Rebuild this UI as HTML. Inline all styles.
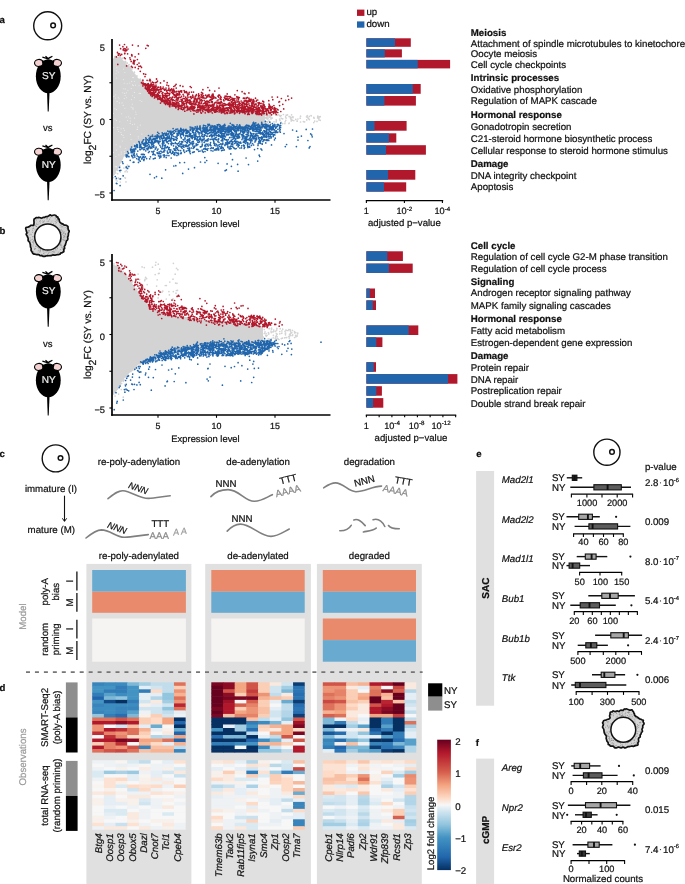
<!DOCTYPE html><html><head><meta charset="utf-8"><title>Figure</title><style>html,body{margin:0;padding:0;background:#fff;overflow:hidden}svg{display:block;will-change:transform;font-family:"Liberation Sans",sans-serif} text{stroke:#111;stroke-width:0.22px;text-rendering:geometricPrecision}</style></head><body>
<svg width="685" height="884" viewBox="0 0 685 884" font-family="Liberation Sans, sans-serif" font-size="9.7" fill="#111">
<defs><pattern id="stip" width="2.2" height="2.2" patternUnits="userSpaceOnUse"><rect width="2.2" height="2.2" fill="#e6e6e6"/><circle cx="1.1" cy="1.1" r="0.75" fill="#a8a8a8"/></pattern><linearGradient id="cbar" x1="0" y1="0" x2="0" y2="1"><stop offset="0.000" stop-color="#67001f"/><stop offset="0.100" stop-color="#b2182b"/><stop offset="0.250" stop-color="#d6604d"/><stop offset="0.350" stop-color="#f4a582"/><stop offset="0.450" stop-color="#fddbc7"/><stop offset="0.500" stop-color="#f7f7f7"/><stop offset="0.550" stop-color="#d1e5f0"/><stop offset="0.650" stop-color="#92c5de"/><stop offset="0.750" stop-color="#4393c3"/><stop offset="0.900" stop-color="#2166ac"/><stop offset="1.000" stop-color="#053061"/></linearGradient><marker id="arr" markerWidth="6" markerHeight="6" refX="3" refY="3" orient="auto" markerUnits="userSpaceOnUse"><path d="M0,0.8 L3,3 L0,5.2" fill="none" stroke="#111" stroke-width="1"/></marker></defs>
<text x="-0.40" y="23.30" font-size="9.6" font-weight="bold">a</text>
<text x="-0.40" y="233.80" font-size="9.6" font-weight="bold">b</text>
<text x="-0.40" y="456.50" font-size="9.6" font-weight="bold">c</text>
<text x="-0.40" y="691.40" font-size="9.6" font-weight="bold">d</text>
<text x="476.20" y="456.60" font-size="9.6" font-weight="bold">e</text>
<text x="475.80" y="745.90" font-size="9.6" font-weight="bold">f</text>
<circle cx="47.7" cy="25.8" r="14" fill="#fff" stroke="#111" stroke-width="1.4"/>
<circle cx="53.1" cy="25.4" r="2.3" fill="#fff" stroke="#111" stroke-width="1.5"/>
<g transform="translate(48.3,76.1)"><ellipse cx="0" cy="0.2" rx="12.4" ry="16.9" fill="#000"/><path d="M-4.8,-14 C-3.5,-17.6 3.5,-17.6 4.8,-14 Z" fill="#000"/><ellipse cx="-9.5" cy="-13.2" rx="4.3" ry="3.5" transform="rotate(-8 -9.5 -13.2)" fill="#f4d2d2" stroke="#000" stroke-width="1.1"/><ellipse cx="8.9" cy="-13.2" rx="4.3" ry="3.5" transform="rotate(8 8.9 -13.2)" fill="#f4d2d2" stroke="#000" stroke-width="1.1"/><path d="M-6.6,-15.2 C-5.6,-12 -5.4,-11 -4.6,-10 L-5,-16 Z M6.2,-15.2 C5.2,-12 5,-11 4.2,-10 L4.6,-16 Z" fill="#000"/><path d="M-5.9,-19.0 L-0.3,-17.3 L4.1,-19.9 M-2.8,-19.9 L-0.3,-17.6 L2.3,-19.0" stroke="#000" stroke-width="1.25" fill="none"/><path d="M-1.3,15 L1.3,15 L0.4,35.4 L-0.6,35.4 Z" fill="#000"/><text x="0.4" y="3.0" text-anchor="middle" font-size="10" fill="#eeeeee" style="stroke:#eeeeee">SY</text></g>
<text x="47.80" y="131.30" text-anchor="middle" font-size="9.5">vs</text>
<g transform="translate(48.3,164.9)"><ellipse cx="0" cy="0.2" rx="12.4" ry="16.9" fill="#000"/><path d="M-4.8,-14 C-3.5,-17.6 3.5,-17.6 4.8,-14 Z" fill="#000"/><ellipse cx="-9.5" cy="-13.2" rx="4.3" ry="3.5" transform="rotate(-8 -9.5 -13.2)" fill="#f4d2d2" stroke="#000" stroke-width="1.1"/><ellipse cx="8.9" cy="-13.2" rx="4.3" ry="3.5" transform="rotate(8 8.9 -13.2)" fill="#f4d2d2" stroke="#000" stroke-width="1.1"/><path d="M-6.6,-15.2 C-5.6,-12 -5.4,-11 -4.6,-10 L-5,-16 Z M6.2,-15.2 C5.2,-12 5,-11 4.2,-10 L4.6,-16 Z" fill="#000"/><path d="M-5.9,-19.0 L-0.3,-17.3 L4.1,-19.9 M-2.8,-19.9 L-0.3,-17.6 L2.3,-19.0" stroke="#000" stroke-width="1.25" fill="none"/><path d="M-1.3,15 L1.3,15 L0.4,35.4 L-0.6,35.4 Z" fill="#000"/><text x="0.4" y="3.0" text-anchor="middle" font-size="10" fill="#eeeeee" style="stroke:#eeeeee">NY</text></g>
<g transform="translate(47.8,237.0)"><clipPath id="fc7"><path d="M-13.67,-17.93 Q-13.46,-18.38 -12.88,-18.44 Q-12.30,-18.49 -12.04,-19.06 Q-11.79,-19.63 -11.02,-19.37 Q-10.25,-19.11 -9.69,-19.41 Q-9.14,-19.72 -8.33,-19.52 Q-7.53,-19.33 -6.68,-19.02 Q-5.84,-18.72 -5.33,-19.26 Q-4.81,-19.79 -4.11,-19.60 Q-3.42,-19.41 -2.84,-19.92 Q-2.25,-20.44 -1.61,-20.32 Q-0.97,-20.20 -0.37,-20.40 Q0.24,-20.60 0.88,-21.08 Q1.53,-21.55 2.06,-21.97 Q2.60,-22.38 3.02,-21.83 Q3.43,-21.28 3.95,-21.43 Q4.47,-21.58 5.18,-21.74 Q5.88,-21.91 6.61,-21.99 Q7.33,-22.08 7.88,-21.57 Q8.42,-21.05 8.73,-20.53 Q9.04,-20.01 9.65,-20.08 Q10.25,-20.16 10.25,-19.07 Q10.26,-17.97 10.86,-18.06 Q11.47,-18.15 11.46,-17.26 Q11.45,-16.36 11.64,-15.76 Q11.82,-15.17 12.29,-14.66 Q12.76,-14.16 13.36,-13.78 Q13.95,-13.40 14.77,-13.14 Q15.59,-12.89 15.81,-12.39 Q16.03,-11.89 16.93,-11.89 Q17.82,-11.90 18.52,-11.73 Q19.21,-11.56 19.32,-11.19 Q19.42,-10.82 19.88,-10.65 Q20.33,-10.47 20.25,-10.02 Q20.17,-9.57 20.22,-8.90 Q20.28,-8.24 20.47,-7.61 Q20.65,-6.99 21.12,-6.41 Q21.58,-5.82 21.24,-5.14 Q20.90,-4.46 20.69,-3.82 Q20.47,-3.19 20.56,-2.57 Q20.66,-1.96 20.42,-1.32 Q20.19,-0.69 19.94,-0.07 Q19.70,0.55 19.96,1.23 Q20.22,1.90 19.89,2.53 Q19.56,3.16 18.97,3.71 Q18.37,4.27 18.36,4.98 Q18.35,5.68 18.06,6.17 Q17.77,6.67 17.76,7.27 Q17.75,7.88 17.39,8.37 Q17.03,8.85 16.67,9.31 Q16.31,9.77 16.71,10.70 Q17.10,11.62 16.47,11.86 Q15.84,12.10 15.91,12.75 Q15.99,13.40 16.08,14.09 Q16.17,14.79 15.66,14.94 Q15.15,15.09 14.79,15.55 Q14.44,16.01 13.64,15.96 Q12.84,15.91 12.58,16.59 Q12.33,17.27 11.48,17.46 Q10.63,17.66 9.67,17.65 Q8.71,17.64 7.88,17.99 Q7.06,18.33 6.04,18.06 Q5.02,17.78 4.21,18.18 Q3.39,18.59 2.47,18.64 Q1.55,18.70 0.79,18.75 Q0.03,18.80 -0.72,18.77 Q-1.47,18.74 -2.28,19.10 Q-3.10,19.45 -3.89,19.47 Q-4.69,19.48 -5.35,19.07 Q-6.02,18.65 -6.85,18.73 Q-7.68,18.80 -8.22,18.11 Q-8.76,17.42 -9.76,17.63 Q-10.75,17.84 -11.51,17.54 Q-12.28,17.24 -13.09,17.22 Q-13.91,17.19 -14.46,16.82 Q-15.02,16.45 -15.33,15.85 Q-15.65,15.25 -15.91,14.70 Q-16.16,14.14 -16.53,13.66 Q-16.91,13.19 -16.66,12.23 Q-16.42,11.28 -16.90,10.73 Q-17.39,10.19 -17.37,9.34 Q-17.35,8.49 -17.50,7.72 Q-17.65,6.95 -17.91,6.09 Q-18.17,5.22 -19.02,4.48 Q-19.88,3.74 -19.69,2.77 Q-19.51,1.80 -19.79,1.07 Q-20.07,0.34 -20.37,-0.40 Q-20.67,-1.14 -21.28,-1.96 Q-21.88,-2.78 -21.26,-3.42 Q-20.65,-4.06 -21.03,-4.88 Q-21.41,-5.69 -21.56,-6.49 Q-21.71,-7.29 -21.93,-7.77 Q-22.16,-8.26 -22.04,-8.62 Q-21.92,-8.99 -21.89,-9.40 Q-21.86,-9.81 -20.87,-9.77 Q-19.88,-9.74 -19.50,-9.98 Q-19.11,-10.22 -18.56,-10.39 Q-18.00,-10.55 -17.74,-10.97 Q-17.48,-11.39 -16.88,-11.62 Q-16.28,-11.85 -15.14,-11.66 Q-14.01,-11.48 -13.96,-11.98 Q-13.92,-12.48 -13.89,-13.00 Q-13.86,-13.52 -13.79,-14.03 Q-13.73,-14.53 -13.81,-15.31 Q-13.89,-16.08 -13.88,-16.78 Q-13.88,-17.48 -13.67,-17.93 Z"/></clipPath><path d="M-13.67,-17.93 Q-13.46,-18.38 -12.88,-18.44 Q-12.30,-18.49 -12.04,-19.06 Q-11.79,-19.63 -11.02,-19.37 Q-10.25,-19.11 -9.69,-19.41 Q-9.14,-19.72 -8.33,-19.52 Q-7.53,-19.33 -6.68,-19.02 Q-5.84,-18.72 -5.33,-19.26 Q-4.81,-19.79 -4.11,-19.60 Q-3.42,-19.41 -2.84,-19.92 Q-2.25,-20.44 -1.61,-20.32 Q-0.97,-20.20 -0.37,-20.40 Q0.24,-20.60 0.88,-21.08 Q1.53,-21.55 2.06,-21.97 Q2.60,-22.38 3.02,-21.83 Q3.43,-21.28 3.95,-21.43 Q4.47,-21.58 5.18,-21.74 Q5.88,-21.91 6.61,-21.99 Q7.33,-22.08 7.88,-21.57 Q8.42,-21.05 8.73,-20.53 Q9.04,-20.01 9.65,-20.08 Q10.25,-20.16 10.25,-19.07 Q10.26,-17.97 10.86,-18.06 Q11.47,-18.15 11.46,-17.26 Q11.45,-16.36 11.64,-15.76 Q11.82,-15.17 12.29,-14.66 Q12.76,-14.16 13.36,-13.78 Q13.95,-13.40 14.77,-13.14 Q15.59,-12.89 15.81,-12.39 Q16.03,-11.89 16.93,-11.89 Q17.82,-11.90 18.52,-11.73 Q19.21,-11.56 19.32,-11.19 Q19.42,-10.82 19.88,-10.65 Q20.33,-10.47 20.25,-10.02 Q20.17,-9.57 20.22,-8.90 Q20.28,-8.24 20.47,-7.61 Q20.65,-6.99 21.12,-6.41 Q21.58,-5.82 21.24,-5.14 Q20.90,-4.46 20.69,-3.82 Q20.47,-3.19 20.56,-2.57 Q20.66,-1.96 20.42,-1.32 Q20.19,-0.69 19.94,-0.07 Q19.70,0.55 19.96,1.23 Q20.22,1.90 19.89,2.53 Q19.56,3.16 18.97,3.71 Q18.37,4.27 18.36,4.98 Q18.35,5.68 18.06,6.17 Q17.77,6.67 17.76,7.27 Q17.75,7.88 17.39,8.37 Q17.03,8.85 16.67,9.31 Q16.31,9.77 16.71,10.70 Q17.10,11.62 16.47,11.86 Q15.84,12.10 15.91,12.75 Q15.99,13.40 16.08,14.09 Q16.17,14.79 15.66,14.94 Q15.15,15.09 14.79,15.55 Q14.44,16.01 13.64,15.96 Q12.84,15.91 12.58,16.59 Q12.33,17.27 11.48,17.46 Q10.63,17.66 9.67,17.65 Q8.71,17.64 7.88,17.99 Q7.06,18.33 6.04,18.06 Q5.02,17.78 4.21,18.18 Q3.39,18.59 2.47,18.64 Q1.55,18.70 0.79,18.75 Q0.03,18.80 -0.72,18.77 Q-1.47,18.74 -2.28,19.10 Q-3.10,19.45 -3.89,19.47 Q-4.69,19.48 -5.35,19.07 Q-6.02,18.65 -6.85,18.73 Q-7.68,18.80 -8.22,18.11 Q-8.76,17.42 -9.76,17.63 Q-10.75,17.84 -11.51,17.54 Q-12.28,17.24 -13.09,17.22 Q-13.91,17.19 -14.46,16.82 Q-15.02,16.45 -15.33,15.85 Q-15.65,15.25 -15.91,14.70 Q-16.16,14.14 -16.53,13.66 Q-16.91,13.19 -16.66,12.23 Q-16.42,11.28 -16.90,10.73 Q-17.39,10.19 -17.37,9.34 Q-17.35,8.49 -17.50,7.72 Q-17.65,6.95 -17.91,6.09 Q-18.17,5.22 -19.02,4.48 Q-19.88,3.74 -19.69,2.77 Q-19.51,1.80 -19.79,1.07 Q-20.07,0.34 -20.37,-0.40 Q-20.67,-1.14 -21.28,-1.96 Q-21.88,-2.78 -21.26,-3.42 Q-20.65,-4.06 -21.03,-4.88 Q-21.41,-5.69 -21.56,-6.49 Q-21.71,-7.29 -21.93,-7.77 Q-22.16,-8.26 -22.04,-8.62 Q-21.92,-8.99 -21.89,-9.40 Q-21.86,-9.81 -20.87,-9.77 Q-19.88,-9.74 -19.50,-9.98 Q-19.11,-10.22 -18.56,-10.39 Q-18.00,-10.55 -17.74,-10.97 Q-17.48,-11.39 -16.88,-11.62 Q-16.28,-11.85 -15.14,-11.66 Q-14.01,-11.48 -13.96,-11.98 Q-13.92,-12.48 -13.89,-13.00 Q-13.86,-13.52 -13.79,-14.03 Q-13.73,-14.53 -13.81,-15.31 Q-13.89,-16.08 -13.88,-16.78 Q-13.88,-17.48 -13.67,-17.93 Z" fill="#d6d6d6"/><g clip-path="url(#fc7)"><path d="M-1.1 13.1h0M-14.7 8.2h0M-20.9 -9.2h0M-6.7 -17.1h0M-14.8 -13.5h0M21.0 7.4h0M4.1 -21.6h0M5.1 -16.3h0M-11.4 8.4h0M-9.1 -10.3h0M13.9 6.3h0M8.7 14.1h0M12.4 4.2h0M8.2 11.5h0M-8.7 10.1h0M13.6 -13.7h0M9.3 12.6h0M-9.7 13.8h0M15.6 15.2h0M17.8 -0.8h0M-13.9 1.4h0M13.3 9.9h0M-2.0 21.5h0M7.0 11.3h0M17.6 -5.6h0M11.3 14.8h0M18.2 3.1h0M21.7 -2.9h0M-5.2 -14.9h0M-9.9 11.0h0M2.5 -18.3h0M3.0 -16.2h0M3.6 21.1h0M21.7 -2.1h0M7.4 -20.1h0M-1.0 -15.4h0M-16.6 -1.8h0M13.2 2.4h0M-2.9 15.5h0M-8.1 -21.4h0M-21.4 7.4h0M22.8 -1.7h0M-10.1 11.5h0M2.2 14.9h0M5.5 18.7h0M17.5 -12.7h0M-19.6 2.5h0M4.3 -13.3h0M-11.9 -18.9h0M4.2 -20.3h0M-14.8 2.1h0M4.0 -16.0h0M7.2 -21.8h0M-13.6 10.5h0M19.3 -6.7h0M6.9 12.6h0M13.0 18.1h0M5.1 -13.7h0M10.7 -20.5h0M-9.2 -13.9h0M-13.8 -4.3h0M22.9 2.1h0M-10.9 -14.9h0M16.0 -7.1h0M14.9 -15.5h0M3.8 15.2h0M-4.1 15.0h0M-13.5 -8.1h0M-12.6 7.0h0M14.1 -8.9h0M-18.4 4.9h0M14.3 -9.8h0M15.8 -9.0h0M-18.1 -3.7h0M17.5 2.1h0M5.4 12.0h0M4.5 -14.2h0M-20.2 3.4h0M-15.4 -5.7h0M-18.6 -2.2h0M3.0 -13.9h0M-14.5 -5.8h0M-3.5 20.7h0M-18.8 -0.9h0M1.4 -22.4h0M-18.1 6.8h0M-18.3 -0.6h0M-6.2 -16.6h0M-17.6 -3.7h0M18.9 -7.3h0M16.2 -15.9h0M-1.1 18.8h0M20.3 -7.6h0M9.3 10.9h0M-12.9 4.9h0M0.8 13.8h0M-10.2 -18.4h0M11.7 -8.8h0M-4.2 -19.4h0M13.8 17.3h0M15.0 -3.1h0M16.4 -5.0h0M-23.1 1.9h0M7.3 -12.8h0M-16.7 7.7h0M-8.0 12.8h0M-8.5 18.6h0M18.6 2.3h0M-12.4 4.9h0M-9.5 17.0h0M-13.7 -1.1h0M21.0 -2.0h0M13.9 -2.5h0M-1.3 13.4h0M2.9 -15.6h0M11.9 12.7h0M18.2 -11.3h0M-0.8 14.6h0M16.5 -9.2h0M-4.3 -13.3h0M18.8 7.1h0M-12.3 6.3h0M18.1 -7.4h0M4.4 -13.2h0M8.5 -10.8h0M11.5 -13.5h0M-10.0 15.9h0M14.2 -7.0h0M12.7 13.4h0M1.0 14.2h0M7.2 11.6h0M4.9 15.5h0M-7.1 19.6h0M-4.5 17.6h0M7.3 15.0h0M15.5 1.8h0M20.5 2.0h0M-14.3 -4.7h0M-22.3 3.6h0M16.8 13.3h0M-16.5 7.5h0M8.7 -14.7h0M-20.1 -0.8h0M16.5 -1.8h0M10.0 -17.6h0M-11.3 -13.0h0M-7.9 11.2h0M9.5 10.1h0M-0.9 -15.7h0M7.2 11.9h0M11.9 -18.5h0M-7.6 -14.0h0M0.8 16.1h0M-14.2 3.7h0M-14.9 5.3h0M22.3 -5.5h0M-14.9 -4.5h0M15.9 -3.5h0M-8.1 10.3h0M-13.2 12.1h0M-15.1 -0.3h0M-13.1 -0.4h0M-1.2 14.0h0M-10.9 8.0h0M16.0 2.3h0M2.1 19.0h0M-20.4 -3.8h0M-11.2 -17.0h0M12.4 -11.8h0M-10.6 20.5h0M12.1 16.5h0M-8.4 -10.6h0M11.3 -19.1h0M-14.3 -14.8h0M5.5 -13.4h0M-18.0 -2.7h0M10.8 -18.3h0M8.8 -16.9h0M15.7 -12.5h0M-5.4 -14.5h0M14.2 2.8h0M-9.1 10.9h0M9.6 -16.1h0M-13.5 -14.0h0M-7.6 -16.4h0M21.2 0.4h0M-0.2 -18.2h0M-19.3 -4.3h0M18.9 8.3h0M-0.2 13.9h0M-2.0 20.4h0M5.7 19.8h0M17.9 -2.8h0M-13.3 12.1h0M-8.5 -19.1h0M-14.6 -13.2h0M12.9 6.8h0M-0.5 20.7h0M-6.3 17.8h0M13.7 1.1h0M-2.3 19.8h0M-7.1 -18.7h0M-4.7 17.8h0M-17.4 3.9h0M16.3 15.0h0M7.2 21.9h0M12.2 -5.2h0M-20.7 5.5h0M17.3 -3.5h0M-1.8 15.1h0M14.4 -5.1h0M-12.7 -7.1h0M-22.5 -3.4h0M14.4 15.9h0M-22.1 -1.2h0M-4.5 -14.8h0M14.4 -10.8h0M13.0 2.0h0M-17.7 0.9h0M-4.7 13.8h0M-9.1 13.6h0M7.0 -11.1h0M0.1 -21.6h0M16.4 15.4h0M-5.1 -21.7h0M-4.2 16.4h0M-18.2 14.5h0M-14.2 -8.9h0M-14.3 6.9h0M13.5 4.2h0M8.1 -13.8h0M14.4 -6.2h0M-1.8 18.2h0M6.2 15.7h0M21.3 -6.0h0M7.4 -18.1h0M19.4 -11.7h0M-19.5 -6.2h0M19.6 6.3h0M-19.8 6.3h0M-9.9 -12.6h0M21.5 6.8h0M12.5 12.8h0M-9.0 13.4h0M-1.6 -23.0h0M-1.3 19.7h0M-5.9 17.8h0M-11.7 9.1h0M8.0 12.9h0M15.1 -10.1h0M4.2 21.9h0M17.7 -0.4h0M9.6 11.6h0M14.0 8.9h0M13.1 8.4h0M-1.0 18.9h0M15.7 -13.5h0M-14.8 9.0h0M-16.7 -2.6h0M-7.2 11.7h0M-3.9 22.6h0M12.8 13.0h0M-15.0 -15.9h0M3.4 15.5h0M0.2 17.2h0M-21.5 7.6h0M12.8 -17.9h0M13.3 1.8h0M-5.6 -21.5h0M-18.8 3.2h0M17.1 0.0h0M19.3 -9.5h0M14.2 -18.1h0M0.1 14.2h0M10.4 15.2h0M-9.4 -20.7h0M-3.5 -19.4h0M1.6 -17.7h0M-12.8 -4.3h0M3.1 -15.2h0M17.2 -9.5h0M-4.8 13.6h0M-0.2 19.6h0M-4.5 -13.5h0M16.7 7.9h0M-14.8 -8.5h0M3.2 19.0h0M16.1 1.1h0M-22.2 5.6h0M-13.6 -17.4h0M-15.3 2.4h0M0.4 22.9h0M-4.6 -15.6h0M18.0 2.5h0M-7.9 -15.5h0M-0.9 19.9h0M13.7 -7.0h0M16.2 3.5h0M-17.6 9.6h0M6.8 20.1h0M-1.2 -18.2h0M6.4 22.1h0M-8.1 19.9h0M1.8 15.2h0M1.1 -16.1h0M17.3 -5.4h0M5.9 14.2h0M-17.2 9.9h0M13.8 -4.6h0M-12.0 9.5h0M14.4 -2.4h0M13.0 4.4h0M-17.4 13.8h0M15.3 -13.7h0M22.6 -0.4h0M-7.2 13.2h0M19.0 -8.1h0M19.5 4.0h0M-12.2 11.7h0M-7.3 12.9h0M15.9 0.3h0M-13.6 18.3h0M16.3 16.1h0M4.4 16.1h0M9.3 -19.3h0M-12.4 5.6h0M-16.7 2.8h0M13.2 -7.3h0M-14.6 16.7h0M17.0 3.3h0M7.9 -19.4h0M13.0 3.4h0M20.8 8.6h0M-0.9 20.7h0M13.3 -9.9h0M-3.2 22.6h0M-11.7 -10.6h0M-3.4 -16.0h0M-2.1 13.0h0M0.8 -22.4h0M-15.1 -16.9h0M15.3 2.4h0M-22.6 3.5h0M16.3 -4.9h0M-0.1 17.5h0M-22.5 0.9h0M8.7 19.4h0M-1.6 -21.4h0M2.8 -19.1h0M-7.7 14.4h0M-13.6 16.1h0M13.3 7.2h0M0.3 -15.6h0M12.3 5.3h0M-15.5 -5.3h0M21.9 -2.7h0M15.8 -1.2h0M12.2 7.1h0M-20.3 0.2h0M-14.6 5.1h0M-16.8 9.7h0M-9.5 -18.4h0M11.4 -16.3h0M15.7 14.9h0M-5.1 18.2h0M-14.4 14.8h0M4.9 14.8h0M0.4 14.7h0M14.2 -12.6h0M-7.9 15.2h0M18.2 -0.9h0M2.5 21.2h0M-13.2 -19.0h0M14.4 10.8h0M9.1 -19.7h0M11.6 -6.9h0M-3.9 13.8h0M8.5 21.4h0M-19.6 -11.3h0M-15.2 15.8h0M-14.9 4.9h0M3.9 -22.4h0M15.1 11.8h0M-11.2 -10.5h0M-9.9 10.7h0M4.5 15.0h0M-16.0 -11.5h0M3.8 12.7h0M-9.3 17.7h0M6.5 14.9h0M6.1 20.3h0M-13.1 -4.1h0M13.8 10.2h0M-18.6 -6.1h0M12.4 8.0h0M-5.8 -16.3h0M-3.4 15.9h0M15.6 -4.7h0M-15.3 -6.8h0M-19.0 11.0h0M16.8 -0.4h0M6.7 19.4h0M3.8 12.6h0M14.2 -10.1h0M7.4 -15.6h0M13.2 -11.9h0M6.9 11.3h0M-18.6 -6.2h0M11.8 -7.5h0M-12.1 -11.7h0M-14.6 -0.4h0M-3.8 18.0h0M12.7 -6.4h0M-21.3 1.3h0M14.8 -3.1h0M15.9 16.2h0M17.8 -2.8h0M21.3 7.4h0M-17.0 14.4h0M-15.6 -14.8h0" stroke="#8c8c8c" stroke-width="1.00" stroke-linecap="round" fill="none"/><path d="M-1.1 13.1h0M-14.7 8.2h0M-20.9 -9.2h0M-6.7 -17.1h0M-14.8 -13.5h0M21.0 7.4h0M4.1 -21.6h0M5.1 -16.3h0M-11.4 8.4h0M-9.1 -10.3h0M13.9 6.3h0M8.7 14.1h0M12.4 4.2h0M8.2 11.5h0M-8.7 10.1h0M13.6 -13.7h0M9.3 12.6h0M-9.7 13.8h0M15.6 15.2h0M17.8 -0.8h0M-13.9 1.4h0M13.3 9.9h0M-2.0 21.5h0M7.0 11.3h0M17.6 -5.6h0M11.3 14.8h0M18.2 3.1h0M21.7 -2.9h0M-5.2 -14.9h0M-9.9 11.0h0M2.5 -18.3h0M3.0 -16.2h0M3.6 21.1h0M21.7 -2.1h0M7.4 -20.1h0M-1.0 -15.4h0M-16.6 -1.8h0M13.2 2.4h0M-2.9 15.5h0M-8.1 -21.4h0M-21.4 7.4h0M22.8 -1.7h0M-10.1 11.5h0M2.2 14.9h0M5.5 18.7h0M17.5 -12.7h0M-19.6 2.5h0M4.3 -13.3h0M-11.9 -18.9h0M4.2 -20.3h0M-14.8 2.1h0M4.0 -16.0h0M7.2 -21.8h0M-13.6 10.5h0M19.3 -6.7h0M6.9 12.6h0M13.0 18.1h0M5.1 -13.7h0M10.7 -20.5h0M-9.2 -13.9h0M-13.8 -4.3h0M22.9 2.1h0M-10.9 -14.9h0M16.0 -7.1h0M14.9 -15.5h0M3.8 15.2h0M-4.1 15.0h0M-13.5 -8.1h0M-12.6 7.0h0M14.1 -8.9h0M-18.4 4.9h0M14.3 -9.8h0M15.8 -9.0h0M-18.1 -3.7h0M17.5 2.1h0M5.4 12.0h0M4.5 -14.2h0M-20.2 3.4h0M-15.4 -5.7h0M-18.6 -2.2h0M3.0 -13.9h0M-14.5 -5.8h0M-3.5 20.7h0M-18.8 -0.9h0M1.4 -22.4h0M-18.1 6.8h0M-18.3 -0.6h0M-6.2 -16.6h0M-17.6 -3.7h0M18.9 -7.3h0M16.2 -15.9h0M-1.1 18.8h0M20.3 -7.6h0M9.3 10.9h0M-12.9 4.9h0M0.8 13.8h0M-10.2 -18.4h0M11.7 -8.8h0M-4.2 -19.4h0M13.8 17.3h0M15.0 -3.1h0M16.4 -5.0h0M-23.1 1.9h0M7.3 -12.8h0M-16.7 7.7h0M-8.0 12.8h0M-8.5 18.6h0M18.6 2.3h0M-12.4 4.9h0M-9.5 17.0h0M-13.7 -1.1h0M21.0 -2.0h0M13.9 -2.5h0M-1.3 13.4h0M2.9 -15.6h0M11.9 12.7h0M18.2 -11.3h0M-0.8 14.6h0M16.5 -9.2h0M-4.3 -13.3h0M18.8 7.1h0M-12.3 6.3h0M18.1 -7.4h0M4.4 -13.2h0M8.5 -10.8h0M11.5 -13.5h0M-10.0 15.9h0M14.2 -7.0h0M12.7 13.4h0M1.0 14.2h0M7.2 11.6h0M4.9 15.5h0M-7.1 19.6h0M-4.5 17.6h0M7.3 15.0h0M15.5 1.8h0M20.5 2.0h0M-14.3 -4.7h0M-22.3 3.6h0M16.8 13.3h0" stroke="#f4f4f4" stroke-width="0.90" stroke-linecap="round" fill="none"/></g><path d="M-13.67,-17.93 Q-13.46,-18.38 -12.88,-18.44 Q-12.30,-18.49 -12.04,-19.06 Q-11.79,-19.63 -11.02,-19.37 Q-10.25,-19.11 -9.69,-19.41 Q-9.14,-19.72 -8.33,-19.52 Q-7.53,-19.33 -6.68,-19.02 Q-5.84,-18.72 -5.33,-19.26 Q-4.81,-19.79 -4.11,-19.60 Q-3.42,-19.41 -2.84,-19.92 Q-2.25,-20.44 -1.61,-20.32 Q-0.97,-20.20 -0.37,-20.40 Q0.24,-20.60 0.88,-21.08 Q1.53,-21.55 2.06,-21.97 Q2.60,-22.38 3.02,-21.83 Q3.43,-21.28 3.95,-21.43 Q4.47,-21.58 5.18,-21.74 Q5.88,-21.91 6.61,-21.99 Q7.33,-22.08 7.88,-21.57 Q8.42,-21.05 8.73,-20.53 Q9.04,-20.01 9.65,-20.08 Q10.25,-20.16 10.25,-19.07 Q10.26,-17.97 10.86,-18.06 Q11.47,-18.15 11.46,-17.26 Q11.45,-16.36 11.64,-15.76 Q11.82,-15.17 12.29,-14.66 Q12.76,-14.16 13.36,-13.78 Q13.95,-13.40 14.77,-13.14 Q15.59,-12.89 15.81,-12.39 Q16.03,-11.89 16.93,-11.89 Q17.82,-11.90 18.52,-11.73 Q19.21,-11.56 19.32,-11.19 Q19.42,-10.82 19.88,-10.65 Q20.33,-10.47 20.25,-10.02 Q20.17,-9.57 20.22,-8.90 Q20.28,-8.24 20.47,-7.61 Q20.65,-6.99 21.12,-6.41 Q21.58,-5.82 21.24,-5.14 Q20.90,-4.46 20.69,-3.82 Q20.47,-3.19 20.56,-2.57 Q20.66,-1.96 20.42,-1.32 Q20.19,-0.69 19.94,-0.07 Q19.70,0.55 19.96,1.23 Q20.22,1.90 19.89,2.53 Q19.56,3.16 18.97,3.71 Q18.37,4.27 18.36,4.98 Q18.35,5.68 18.06,6.17 Q17.77,6.67 17.76,7.27 Q17.75,7.88 17.39,8.37 Q17.03,8.85 16.67,9.31 Q16.31,9.77 16.71,10.70 Q17.10,11.62 16.47,11.86 Q15.84,12.10 15.91,12.75 Q15.99,13.40 16.08,14.09 Q16.17,14.79 15.66,14.94 Q15.15,15.09 14.79,15.55 Q14.44,16.01 13.64,15.96 Q12.84,15.91 12.58,16.59 Q12.33,17.27 11.48,17.46 Q10.63,17.66 9.67,17.65 Q8.71,17.64 7.88,17.99 Q7.06,18.33 6.04,18.06 Q5.02,17.78 4.21,18.18 Q3.39,18.59 2.47,18.64 Q1.55,18.70 0.79,18.75 Q0.03,18.80 -0.72,18.77 Q-1.47,18.74 -2.28,19.10 Q-3.10,19.45 -3.89,19.47 Q-4.69,19.48 -5.35,19.07 Q-6.02,18.65 -6.85,18.73 Q-7.68,18.80 -8.22,18.11 Q-8.76,17.42 -9.76,17.63 Q-10.75,17.84 -11.51,17.54 Q-12.28,17.24 -13.09,17.22 Q-13.91,17.19 -14.46,16.82 Q-15.02,16.45 -15.33,15.85 Q-15.65,15.25 -15.91,14.70 Q-16.16,14.14 -16.53,13.66 Q-16.91,13.19 -16.66,12.23 Q-16.42,11.28 -16.90,10.73 Q-17.39,10.19 -17.37,9.34 Q-17.35,8.49 -17.50,7.72 Q-17.65,6.95 -17.91,6.09 Q-18.17,5.22 -19.02,4.48 Q-19.88,3.74 -19.69,2.77 Q-19.51,1.80 -19.79,1.07 Q-20.07,0.34 -20.37,-0.40 Q-20.67,-1.14 -21.28,-1.96 Q-21.88,-2.78 -21.26,-3.42 Q-20.65,-4.06 -21.03,-4.88 Q-21.41,-5.69 -21.56,-6.49 Q-21.71,-7.29 -21.93,-7.77 Q-22.16,-8.26 -22.04,-8.62 Q-21.92,-8.99 -21.89,-9.40 Q-21.86,-9.81 -20.87,-9.77 Q-19.88,-9.74 -19.50,-9.98 Q-19.11,-10.22 -18.56,-10.39 Q-18.00,-10.55 -17.74,-10.97 Q-17.48,-11.39 -16.88,-11.62 Q-16.28,-11.85 -15.14,-11.66 Q-14.01,-11.48 -13.96,-11.98 Q-13.92,-12.48 -13.89,-13.00 Q-13.86,-13.52 -13.79,-14.03 Q-13.73,-14.53 -13.81,-15.31 Q-13.89,-16.08 -13.88,-16.78 Q-13.88,-17.48 -13.67,-17.93 Z" fill="none" stroke="#111" stroke-width="1.7" stroke-linejoin="round"/><circle cx="0" cy="0" r="13.10" fill="#fff" stroke="#111" stroke-width="1.5"/></g>
<g transform="translate(48.3,291.3)"><ellipse cx="0" cy="0.2" rx="12.4" ry="16.9" fill="#000"/><path d="M-4.8,-14 C-3.5,-17.6 3.5,-17.6 4.8,-14 Z" fill="#000"/><ellipse cx="-9.5" cy="-13.2" rx="4.3" ry="3.5" transform="rotate(-8 -9.5 -13.2)" fill="#f4d2d2" stroke="#000" stroke-width="1.1"/><ellipse cx="8.9" cy="-13.2" rx="4.3" ry="3.5" transform="rotate(8 8.9 -13.2)" fill="#f4d2d2" stroke="#000" stroke-width="1.1"/><path d="M-6.6,-15.2 C-5.6,-12 -5.4,-11 -4.6,-10 L-5,-16 Z M6.2,-15.2 C5.2,-12 5,-11 4.2,-10 L4.6,-16 Z" fill="#000"/><path d="M-5.9,-19.0 L-0.3,-17.3 L4.1,-19.9 M-2.8,-19.9 L-0.3,-17.6 L2.3,-19.0" stroke="#000" stroke-width="1.25" fill="none"/><path d="M-1.3,15 L1.3,15 L0.4,35.4 L-0.6,35.4 Z" fill="#000"/><text x="0.4" y="3.0" text-anchor="middle" font-size="10" fill="#eeeeee" style="stroke:#eeeeee">SY</text></g>
<text x="47.80" y="346.50" text-anchor="middle" font-size="9.5">vs</text>
<g transform="translate(48.3,380.1)"><ellipse cx="0" cy="0.2" rx="12.4" ry="16.9" fill="#000"/><path d="M-4.8,-14 C-3.5,-17.6 3.5,-17.6 4.8,-14 Z" fill="#000"/><ellipse cx="-9.5" cy="-13.2" rx="4.3" ry="3.5" transform="rotate(-8 -9.5 -13.2)" fill="#f4d2d2" stroke="#000" stroke-width="1.1"/><ellipse cx="8.9" cy="-13.2" rx="4.3" ry="3.5" transform="rotate(8 8.9 -13.2)" fill="#f4d2d2" stroke="#000" stroke-width="1.1"/><path d="M-6.6,-15.2 C-5.6,-12 -5.4,-11 -4.6,-10 L-5,-16 Z M6.2,-15.2 C5.2,-12 5,-11 4.2,-10 L4.6,-16 Z" fill="#000"/><path d="M-5.9,-19.0 L-0.3,-17.3 L4.1,-19.9 M-2.8,-19.9 L-0.3,-17.6 L2.3,-19.0" stroke="#000" stroke-width="1.25" fill="none"/><path d="M-1.3,15 L1.3,15 L0.4,35.4 L-0.6,35.4 Z" fill="#000"/><text x="0.4" y="3.0" text-anchor="middle" font-size="10" fill="#eeeeee" style="stroke:#eeeeee">NY</text></g>
<polygon points="113.0,58.6 114.0,58.5 115.0,58.3 116.0,57.8 117.0,57.3 118.0,56.9 119.0,56.4 120.0,55.9 121.0,57.3 122.0,58.8 123.0,60.2 124.0,61.7 125.0,63.1 126.0,63.9 127.0,64.7 128.0,65.5 129.0,66.3 130.0,67.1 131.0,68.5 132.0,70.0 133.0,71.4 134.0,72.9 135.0,74.3 136.0,75.6 137.0,76.8 138.0,78.1 139.0,79.3 140.0,80.6 141.0,82.0 142.0,83.4 143.0,84.8 144.0,86.2 145.0,87.6 146.0,88.9 147.0,90.2 148.0,91.5 149.0,92.8 150.0,94.1 151.0,91.8 152.0,92.5 153.0,93.2 154.0,93.9 155.0,94.6 156.0,95.3 157.0,96.0 158.0,96.7 159.0,97.4 160.0,98.1 161.0,98.5 162.0,99.0 163.0,99.4 164.0,99.9 165.0,100.3 166.0,100.8 167.0,101.2 168.0,101.7 169.0,102.1 170.0,102.6 171.0,102.9 172.0,103.2 173.0,103.5 174.0,103.8 175.0,104.1 176.0,104.4 177.0,104.7 178.0,105.0 179.0,105.3 180.0,105.6 181.0,105.8 182.0,106.1 183.0,106.3 184.0,106.5 185.0,106.8 186.0,107.0 187.0,107.2 188.0,107.4 189.0,107.7 190.0,107.9 191.0,108.0 192.0,108.1 193.0,108.2 194.0,108.3 195.0,108.4 196.0,108.5 197.0,108.6 198.0,108.7 199.0,108.8 200.0,108.9 201.0,108.9 202.0,109.0 203.0,109.0 204.0,109.1 205.0,109.1 206.0,109.2 207.0,109.2 208.0,109.3 209.0,109.3 210.0,109.4 211.0,109.4 212.0,109.5 213.0,109.5 214.0,109.6 215.0,109.6 216.0,109.7 217.0,109.7 218.0,109.8 219.0,109.8 220.0,109.9 221.0,109.9 222.0,110.0 223.0,110.0 224.0,110.0 225.0,110.1 226.0,110.1 227.0,110.1 228.0,110.2 229.0,110.2 230.0,110.2 231.0,110.3 232.0,110.3 233.0,110.4 234.0,110.4 235.0,110.4 236.0,110.5 237.0,110.5 238.0,110.5 239.0,110.6 240.0,110.6 241.0,110.6 242.0,110.6 243.0,110.6 244.0,110.6 245.0,110.7 246.0,110.7 247.0,110.7 248.0,110.7 249.0,110.7 250.0,110.7 251.0,110.7 252.0,111.0 253.0,111.2 254.0,111.5 255.0,111.7 256.0,111.9 257.0,112.2 258.0,112.4 259.0,112.6 260.0,112.9 261.0,113.1 262.0,113.3 263.0,113.5 264.0,113.8 265.0,114.0 265.0,124.3 264.0,124.6 263.0,124.8 262.0,125.1 261.0,125.3 260.0,125.6 259.0,125.8 258.0,126.1 257.0,126.4 256.0,126.6 255.0,126.9 254.0,127.2 253.0,127.4 252.0,127.7 251.0,128.0 250.0,128.0 249.0,128.0 248.0,128.1 247.0,128.1 246.0,128.2 245.0,128.2 244.0,128.2 243.0,128.3 242.0,128.3 241.0,128.4 240.0,128.4 239.0,128.4 238.0,128.4 237.0,128.4 236.0,128.4 235.0,128.5 234.0,128.5 233.0,128.5 232.0,128.5 231.0,128.5 230.0,128.5 229.0,128.5 228.0,128.5 227.0,128.5 226.0,128.5 225.0,128.6 224.0,128.6 223.0,128.6 222.0,128.6 221.0,128.6 220.0,128.6 219.0,128.6 218.0,128.7 217.0,128.7 216.0,128.7 215.0,128.8 214.0,128.8 213.0,128.8 212.0,128.8 211.0,128.9 210.0,128.9 209.0,129.0 208.0,129.0 207.0,129.1 206.0,129.2 205.0,129.2 204.0,129.3 203.0,129.4 202.0,129.5 201.0,129.5 200.0,129.6 199.0,129.7 198.0,129.8 197.0,129.9 196.0,130.0 195.0,130.1 194.0,130.2 193.0,130.3 192.0,130.4 191.0,130.5 190.0,130.6 189.0,130.7 188.0,130.9 187.0,131.0 186.0,131.1 185.0,131.2 184.0,131.4 183.0,131.5 182.0,131.6 181.0,131.8 180.0,131.9 179.0,132.1 178.0,132.3 177.0,132.5 176.0,132.7 175.0,132.9 174.0,133.1 173.0,133.3 172.0,133.5 171.0,133.7 170.0,133.9 169.0,134.2 168.0,134.6 167.0,135.0 166.0,135.3 165.0,135.7 164.0,136.0 163.0,136.3 162.0,136.7 161.0,137.1 160.0,137.4 159.0,137.7 158.0,138.0 157.0,138.3 156.0,138.6 155.0,138.9 154.0,139.2 153.0,139.5 152.0,139.8 151.0,140.1 150.0,137.4 149.0,137.8 148.0,138.2 147.0,138.6 146.0,139.0 145.0,139.4 144.0,140.0 143.0,140.6 142.0,141.2 141.0,141.8 140.0,142.4 139.0,143.0 138.0,143.6 137.0,144.2 136.0,144.8 135.0,145.4 134.0,146.2 133.0,147.0 132.0,147.8 131.0,148.6 130.0,149.4 129.0,150.4 128.0,151.4 127.0,152.4 126.0,153.4 125.0,154.4 124.0,156.4 123.0,158.4 122.0,160.4 121.0,162.4 120.0,164.4 119.0,166.2 118.0,168.0 117.0,169.8 116.0,171.6 115.0,173.4 114.0,174.9 113.0,176.4" fill="#d3d3d3"/>
<path d="M181.8 130.3h0M190.2 127.7h0M141.1 141.1h0M127.3 63.1h0M126.8 153.1h0M262.3 124.8h0M212.4 126.5h0M193.3 110.8h0M141.9 83.8h0M180.0 129.7h0M191.9 126.5h0M182.5 108.6h0M264.6 125.9h0M160.9 99.6h0M156.9 98.5h0M241.7 112.0h0M258.6 125.9h0M251.4 113.1h0M262.0 114.5h0M231.3 113.3h0M126.2 65.1h0M130.9 67.5h0M128.4 65.4h0M198.0 110.5h0M142.0 142.8h0M130.7 68.6h0M145.4 89.2h0M159.2 134.9h0M145.0 87.9h0M128.3 150.6h0M145.4 87.7h0M158.0 98.2h0M126.7 153.4h0M169.5 106.1h0M258.8 111.4h0M140.8 80.2h0M251.1 125.6h0M225.4 126.8h0M142.9 142.3h0M177.1 106.2h0M118.9 167.1h0M152.1 138.9h0M203.7 112.2h0M123.5 61.7h0M198.0 126.8h0M252.4 112.6h0M115.5 57.1h0M139.8 79.9h0M200.0 109.9h0M262.0 126.7h0M218.1 126.4h0M115.7 172.9h0M219.5 127.6h0M186.3 128.9h0M161.5 135.6h0M225.0 126.7h0M225.0 126.7h0M166.5 130.6h0M249.9 124.1h0M244.2 126.7h0M208.0 110.5h0M125.2 154.1h0M264.0 124.9h0M224.7 125.2h0M180.0 130.9h0M117.5 170.3h0M186.1 109.0h0M206.4 125.6h0M151.9 94.3h0M143.8 86.7h0M250.7 123.6h0M162.7 134.8h0M143.2 85.2h0M246.8 111.0h0M201.6 112.1h0M240.2 126.9h0M221.1 126.1h0M181.5 108.9h0M145.5 86.9h0M160.9 133.8h0M262.3 113.5h0M245.7 113.2h0M220.7 125.6h0M115.9 58.9h0M182.1 108.8h0M134.4 72.2h0M208.6 110.7h0M235.7 125.0h0M217.0 111.5h0M114.6 57.9h0M221.6 112.2h0M219.0 127.1h0M206.4 125.4h0M250.7 114.2h0M254.8 126.2h0M208.1 127.4h0M170.3 132.7h0M256.5 112.0h0M212.0 111.6h0M210.5 124.7h0M145.4 142.6h0M194.6 127.4h0M161.7 135.0h0M125.6 62.2h0M196.6 127.3h0M236.0 112.9h0M234.6 111.9h0M134.4 74.3h0M191.5 128.9h0M256.8 111.9h0M257.3 113.4h0M157.1 137.1h0M210.1 127.2h0M160.4 99.6h0M241.5 126.4h0M260.2 127.1h0M200.1 110.2h0M205.0 111.3h0M260.3 123.7h0M198.6 112.2h0M218.0 111.2h0M258.4 125.0h0M153.9 97.0h0M237.0 126.8h0M185.4 109.7h0M253.6 114.5h0M231.5 112.9h0M217.4 112.8h0M167.0 133.8h0M131.7 149.7h0M151.1 93.2h0M170.1 104.8h0M193.5 111.0h0M210.0 127.9h0M242.4 126.4h0M225.6 125.6h0M250.2 112.2h0M146.2 141.6h0M247.9 113.2h0M152.4 96.8h0M239.5 113.1h0M174.2 130.2h0M115.7 56.5h0M260.2 111.2h0M189.9 126.7h0M141.7 82.4h0M129.1 64.7h0M199.4 110.9h0M141.0 83.1h0M253.9 110.6h0M122.4 158.5h0M162.7 102.1h0M191.3 110.3h0M219.6 126.1h0M140.6 80.7h0M142.7 82.7h0M190.9 111.8h0M220.1 125.1h0M208.7 110.8h0M262.4 124.4h0M152.3 137.3h0M236.8 111.2h0M249.3 125.0h0M229.3 111.0h0M222.8 111.8h0M114.6 58.7h0M210.1 126.8h0M214.2 114.4h0M213.3 125.4h0M265.0 124.8h0M219.6 126.4h0M206.5 126.7h0M152.0 95.5h0M170.1 105.2h0M151.1 136.5h0M260.0 124.8h0M264.3 125.2h0M203.8 126.6h0M119.9 165.9h0M138.7 79.3h0M205.9 112.6h0M193.1 127.5h0M168.6 103.6h0M156.1 135.1h0M158.0 99.1h0M136.8 145.2h0M172.3 131.0h0M263.3 124.7h0M124.2 155.6h0M260.9 113.7h0M192.6 127.8h0M261.8 124.0h0M204.8 110.8h0M144.0 84.8h0M193.3 109.2h0M182.2 109.0h0M201.5 111.6h0M264.6 123.8h0M224.6 114.1h0M232.2 127.5h0M167.6 103.4h0M202.9 125.8h0M227.5 112.6h0M252.2 128.3h0M119.0 55.6h0M207.7 112.7h0M195.3 112.1h0M196.7 128.3h0M169.7 105.1h0M226.2 127.0h0M124.3 62.0h0M229.9 111.3h0M177.5 107.6h0M212.4 125.5h0M162.5 134.1h0M178.0 105.1h0M127.7 152.6h0M198.8 111.4h0M217.2 112.2h0M145.4 139.4h0M125.4 62.6h0M156.0 96.2h0M167.4 132.1h0M220.8 126.6h0M252.6 126.4h0M235.1 112.3h0M161.3 103.0h0M150.7 93.2h0M168.6 103.6h0M142.6 142.0h0M234.2 126.7h0M139.8 142.0h0M246.9 114.3h0M195.7 127.8h0M259.9 125.3h0M196.1 127.2h0M125.8 62.9h0M125.9 152.0h0M134.9 145.7h0M146.5 138.8h0M192.3 127.3h0M260.2 125.8h0M188.0 128.2h0M252.1 111.6h0M238.6 127.1h0M239.7 124.6h0M258.6 123.7h0M234.9 112.6h0M176.9 106.9h0M170.1 102.0h0M144.1 85.0h0M122.0 60.7h0M130.5 149.7h0M122.5 58.2h0M201.8 127.5h0M141.1 81.6h0M148.8 137.9h0M141.1 81.2h0M139.2 143.0h0M237.2 114.1h0M152.6 138.0h0M196.2 127.1h0M186.4 111.8h0M234.8 113.6h0M193.2 127.4h0M212.9 115.0h0M114.7 56.5h0M221.4 127.5h0M136.9 75.8h0M245.1 126.5h0M209.8 126.4h0M135.9 146.7h0M113.2 177.7h0M125.5 61.4h0M221.9 111.3h0M258.2 125.4h0M243.3 113.3h0M252.3 112.1h0M238.6 111.8h0M136.9 144.5h0M160.3 101.4h0M184.0 129.4h0M167.7 133.1h0M183.2 129.7h0M239.1 127.0h0M220.9 112.4h0M198.7 114.3h0M234.5 113.0h0M206.6 110.7h0M158.3 100.2h0M172.6 131.0h0M224.2 113.1h0M256.6 125.2h0M238.7 112.1h0M134.4 72.2h0M140.3 79.1h0M240.2 126.6h0M136.9 76.4h0M174.8 107.4h0M190.8 127.6h0M229.6 125.4h0M175.6 107.3h0M173.9 132.5h0M213.4 126.2h0M115.8 56.5h0M129.2 67.0h0M190.4 128.8h0M137.1 143.5h0M250.3 124.9h0M134.5 147.3h0M263.0 124.7h0M143.0 139.4h0M208.3 112.4h0M200.6 127.5h0M163.0 133.2h0M131.9 149.4h0M133.6 145.9h0M198.2 110.8h0M251.2 126.1h0M131.6 147.4h0M156.9 136.0h0M239.3 114.3h0M196.3 111.5h0M263.0 125.2h0M213.1 111.2h0M171.0 129.9h0M235.2 113.2h0M134.7 74.4h0M199.6 110.5h0M199.3 111.1h0M210.5 111.6h0M258.8 124.8h0M184.4 107.9h0M228.2 125.0h0M186.8 129.6h0M175.2 104.9h0M199.0 126.1h0M178.7 129.6h0M161.7 101.0h0M224.3 124.0h0M227.3 112.2h0M131.9 69.0h0M189.4 111.6h0M193.0 111.1h0M159.6 100.2h0M251.5 125.9h0M214.2 124.8h0M146.7 140.2h0M199.2 128.7h0M131.8 149.6h0M257.5 113.2h0M162.4 102.4h0M249.1 124.9h0M202.0 112.0h0M117.7 168.7h0M255.0 126.5h0M184.8 108.5h0M249.3 115.3h0M240.4 112.4h0M246.7 125.8h0M143.7 141.5h0M120.6 58.1h0M223.3 114.1h0M221.4 111.2h0M218.8 125.9h0M146.9 89.6h0M221.0 112.6h0M214.0 127.0h0M169.6 132.6h0M147.8 89.8h0M253.9 125.2h0M126.7 154.7h0M179.9 129.2h0M204.2 111.4h0M151.1 138.4h0M227.9 113.0h0M155.4 137.2h0M263.1 115.2h0M183.2 127.4h0M189.0 111.6h0M197.5 126.5h0M232.0 127.2h0M189.9 127.7h0M257.6 112.1h0M231.5 112.1h0M179.9 129.1h0M232.6 126.2h0M146.6 140.5h0M188.8 108.7h0M200.0 126.3h0M140.4 81.7h0M179.1 107.9h0M153.0 139.1h0M199.5 128.2h0M233.3 113.3h0M119.4 56.3h0M207.4 126.6h0M126.4 154.9h0M139.1 79.7h0M239.3 127.3h0M259.4 118.1h0M269.1 115.9h0M317.8 116.1h0M276.1 121.9h0M319.5 116.8h0M274.0 121.8h0M259.2 116.0h0M309.3 116.4h0M270.5 116.9h0M272.3 114.5h0M259.1 125.2h0M297.1 121.2h0M263.4 116.2h0M280.3 116.5h0M274.4 123.8h0M269.1 117.3h0M318.9 119.9h0M259.2 118.0h0M287.5 114.9h0M268.0 121.4h0M306.7 119.9h0M308.9 118.9h0M270.5 123.0h0M269.9 122.3h0M262.9 117.3h0M261.9 119.7h0M261.4 115.6h0M262.9 118.8h0M266.5 118.5h0M320.3 120.3h0M306.5 116.8h0M270.0 114.4h0M290.9 117.9h0M265.1 113.5h0M261.9 116.3h0M270.5 123.9h0M292.9 117.1h0M268.9 115.2h0M314.1 118.2h0M297.3 121.1h0M311.0 115.6h0M267.1 117.8h0M259.7 123.8h0M267.2 122.3h0M278.1 114.5h0M270.6 116.2h0M259.2 114.9h0M283.4 114.5h0M266.6 118.3h0M279.7 115.4h0M292.2 117.0h0M293.8 120.6h0M261.0 115.6h0M265.3 121.6h0M271.2 117.9h0M306.9 117.0h0M265.8 117.3h0M262.9 113.7h0M259.1 120.7h0M281.3 122.3h0M318.3 117.8h0M289.2 123.1h0M262.9 121.4h0M288.9 123.5h0M307.1 117.1h0M286.2 115.2h0M272.4 118.0h0M259.4 117.7h0M267.3 119.1h0M265.3 115.2h0M271.0 118.9h0M261.5 121.1h0M263.7 114.3h0M268.0 118.3h0M261.1 120.1h0M291.7 119.6h0M291.6 114.8h0M270.5 117.6h0M259.4 118.0h0M259.3 119.1h0M282.7 118.8h0M267.2 116.3h0M259.1 117.3h0M309.4 119.6h0M264.6 121.1h0M262.0 118.8h0M284.9 123.6h0M269.0 120.0h0M314.7 121.1h0M285.8 120.3h0M271.5 118.2h0M265.1 123.0h0M308.2 118.2h0M311.3 115.8h0M260.7 119.2h0M266.5 117.5h0M318.5 116.8h0M262.2 115.9h0M290.0 116.7h0M259.0 119.7h0M270.6 116.2h0M276.4 120.7h0M280.0 120.4h0M280.9 122.5h0M317.6 118.0h0M268.2 123.6h0M266.7 121.6h0M291.2 120.9h0M317.0 121.4h0M261.3 120.6h0M276.2 119.8h0M269.3 116.7h0M295.8 119.4h0M263.6 116.2h0M267.2 115.4h0M277.7 115.2h0M259.4 113.9h0M260.0 121.6h0M260.2 118.6h0M297.9 119.0h0M261.4 123.6h0M307.2 115.7h0M264.3 119.2h0M300.2 118.2h0M293.0 116.9h0M293.0 117.6h0M267.6 122.1h0M304.6 121.8h0M281.4 118.3h0M292.2 120.3h0M303.4 121.6h0M260.5 117.7h0M289.1 116.6h0M262.0 113.3h0M282.7 123.6h0M317.7 116.7h0M290.6 118.4h0M286.1 118.1h0M313.8 122.6h0M259.3 121.8h0M260.3 113.6h0M265.5 121.8h0M320.3 116.7h0M267.4 113.7h0M279.6 119.0h0M269.5 117.0h0M300.5 122.0h0M265.4 117.9h0M285.1 121.8h0M318.9 118.4h0M291.1 119.6h0M300.5 116.2h0M261.7 114.4h0M313.8 117.4h0M276.1 115.1h0M267.1 113.6h0M281.3 115.5h0M285.6 116.9h0M263.3 118.9h0M269.1 116.4h0M113.8 166.1h0M126.4 170.3h0M114.2 168.1h0M120.3 182.0h0M116.0 179.7h0M120.3 172.0h0M125.1 171.7h0M113.9 174.4h0M122.9 175.6h0M117.2 181.0h0M126.0 181.9h0M119.6 179.2h0M123.9 168.0h0M113.4 167.9h0M114.8 166.3h0M118.4 177.8h0M117.7 173.7h0M113.2 168.6h0M127.4 165.2h0M120.9 178.8h0M124.9 177.5h0M119.0 178.7h0M125.4 178.1h0M127.8 166.7h0M127.3 171.8h0" stroke="#d3d3d3" stroke-width="1.70" stroke-linecap="round" fill="none"/>
<path d="M133.5 85.6h0M129.7 83.0h0M124.3 98.6h0M123.6 128.2h0M123.3 88.7h0M139.2 93.4h0M115.7 94.8h0M134.5 81.2h0M134.6 118.1h0M132.7 77.5h0M116.1 73.7h0M123.2 105.4h0M113.3 113.3h0M124.7 93.4h0M118.9 154.9h0M122.3 141.0h0M116.1 166.6h0M119.4 102.9h0M133.5 77.6h0M120.9 132.5h0M140.5 93.4h0M118.3 97.3h0M131.4 99.6h0M131.7 81.4h0M137.8 127.1h0M127.6 120.5h0M116.3 150.1h0M133.0 107.9h0M132.3 104.1h0M124.2 83.3h0M130.4 121.0h0M131.2 107.1h0M130.2 123.4h0M134.4 92.4h0M124.7 153.4h0M116.7 166.9h0M127.2 83.8h0M137.4 129.4h0M136.1 114.3h0M138.2 136.3h0M120.3 146.8h0M126.2 117.0h0M121.1 128.8h0M115.1 119.0h0M135.8 112.0h0M120.0 146.0h0M123.6 69.0h0M114.1 96.0h0M116.4 78.0h0M124.3 151.4h0M115.1 166.7h0M119.0 127.2h0M138.4 138.0h0M118.7 131.5h0M122.8 92.7h0M131.3 88.6h0M130.5 134.4h0M118.2 72.1h0M133.1 109.3h0M116.7 70.8h0M140.3 125.1h0M123.4 79.6h0M141.9 134.1h0M134.4 97.6h0M122.0 102.9h0M117.2 127.4h0M125.3 148.2h0M124.9 108.2h0M123.0 135.4h0M119.8 121.7h0M121.3 154.0h0M121.3 152.0h0M132.6 108.0h0M140.1 100.6h0M134.6 124.1h0M125.2 88.9h0M121.5 134.4h0M132.5 84.9h0M124.9 72.5h0M139.0 85.7h0M125.2 95.6h0M130.1 118.1h0M115.9 156.6h0M115.6 98.0h0M123.9 137.5h0M132.4 95.8h0M113.7 127.6h0M126.6 97.8h0M126.5 92.8h0M132.5 124.6h0M141.8 101.5h0M137.0 129.5h0M114.9 108.8h0M124.6 130.2h0M119.1 98.7h0M117.1 101.4h0M117.8 129.4h0M131.1 139.6h0M120.3 147.2h0M134.2 143.4h0M116.5 109.6h0M113.5 152.6h0M113.7 96.6h0M128.5 116.7h0M116.2 144.8h0M121.7 113.8h0M116.6 120.5h0M116.8 67.7h0M127.9 90.3h0M135.5 85.1h0" stroke="#ececec" stroke-width="1.10" stroke-linecap="round" fill="none"/>
<path d="M198.8 104.6h0M205.2 112.8h0M197.7 107.6h0M141.5 82.7h0M162.2 99.7h0M260.4 111.0h0M155.9 91.3h0M220.6 110.4h0M245.0 107.7h0M190.9 96.5h0M148.8 89.3h0M154.1 94.7h0M246.4 98.4h0M224.9 105.4h0M184.7 106.0h0M153.2 93.1h0M262.1 112.6h0M186.6 100.5h0M148.1 89.4h0M246.9 110.9h0M236.5 102.0h0M202.6 106.0h0M156.8 97.1h0M258.4 111.6h0M184.0 104.0h0M198.9 96.4h0M207.1 101.7h0M271.8 107.8h0M154.9 96.9h0M189.2 103.3h0M195.2 103.2h0M208.2 109.3h0M177.1 105.3h0M257.1 106.0h0M219.5 107.4h0M172.8 93.4h0M220.7 96.6h0M248.6 113.6h0M168.3 93.5h0M222.7 110.1h0M181.3 105.6h0M176.0 101.5h0M178.7 93.9h0M162.7 96.5h0M244.2 101.2h0M176.9 95.5h0M173.1 90.9h0M211.8 95.8h0M155.7 86.9h0M154.5 98.0h0M263.8 112.3h0M221.1 99.6h0M214.0 105.1h0M190.3 106.8h0M209.0 94.7h0M219.7 102.7h0M261.9 108.5h0M237.4 109.0h0M213.7 98.2h0M275.9 112.2h0M213.8 110.8h0M149.6 92.4h0M187.6 109.5h0M223.2 107.2h0M173.3 104.3h0M208.0 102.7h0M177.0 106.3h0M173.0 97.0h0M252.2 113.5h0M170.9 103.0h0M195.0 107.2h0M252.2 104.2h0M207.6 109.1h0M149.2 85.6h0M188.6 93.8h0M167.4 93.1h0M192.9 110.2h0M166.2 103.1h0M157.4 89.5h0M214.8 112.2h0M183.9 108.7h0M186.9 92.8h0M205.3 110.4h0M196.9 100.2h0M170.0 100.6h0M232.7 110.2h0M145.9 85.6h0M228.6 105.2h0M199.2 95.3h0M173.1 105.6h0M212.3 101.6h0M173.4 105.9h0M153.8 91.9h0M271.0 110.5h0M178.2 105.2h0M210.6 106.4h0M202.9 97.9h0M253.3 110.0h0M218.8 108.2h0M259.4 111.4h0M258.4 107.0h0M253.2 112.0h0M255.7 113.6h0M212.7 96.3h0M149.2 86.8h0M184.1 90.6h0M228.4 99.2h0M249.1 98.8h0M230.8 111.3h0M162.9 92.7h0M238.6 111.3h0M232.0 98.1h0M269.4 105.8h0M249.9 108.4h0M216.0 110.1h0M222.5 111.6h0M190.5 107.0h0M197.8 106.8h0M201.5 102.1h0M175.7 106.7h0M248.8 112.2h0M242.2 105.2h0M240.2 107.7h0M148.0 89.1h0M158.2 94.0h0M232.3 103.0h0M158.3 98.3h0M195.5 98.0h0M209.1 110.2h0M183.2 104.8h0M196.6 101.1h0M203.7 107.4h0M228.6 107.8h0M207.2 96.5h0M197.0 99.8h0M235.0 101.6h0M216.6 110.8h0M199.1 109.7h0M196.6 112.1h0M222.8 105.1h0M241.1 110.4h0M240.1 107.7h0M250.9 109.5h0M220.5 103.8h0M266.9 110.7h0M160.6 86.9h0M220.9 110.7h0M182.7 103.2h0M178.9 103.6h0M233.3 98.7h0M175.5 95.1h0M244.9 110.3h0M256.3 106.0h0M187.9 107.4h0M202.7 93.4h0M171.7 89.6h0M188.5 94.0h0M236.1 110.3h0M172.2 105.9h0M238.8 106.3h0M153.5 90.3h0M262.4 106.1h0M165.0 98.6h0M206.4 106.8h0M175.3 103.8h0M224.1 109.3h0M212.7 104.3h0M233.6 107.8h0M211.6 99.2h0M266.7 113.9h0M253.1 101.5h0M258.7 107.9h0M196.4 94.6h0M258.6 109.0h0M213.1 94.2h0M150.7 92.1h0M230.8 105.5h0M248.3 107.8h0M267.8 110.2h0M187.8 107.6h0M233.3 111.8h0M154.4 90.2h0M247.7 114.5h0M168.7 89.8h0M185.6 100.6h0M227.4 110.3h0M257.0 108.1h0M179.6 105.9h0M173.7 89.2h0M235.1 106.7h0M148.4 89.8h0M192.7 95.2h0M165.6 95.3h0M173.9 92.6h0M144.8 83.8h0M245.9 101.4h0M161.0 89.5h0M194.1 104.3h0M270.1 113.3h0M155.9 95.8h0M216.0 107.3h0M195.1 111.0h0M187.7 106.3h0M216.9 102.9h0M192.8 108.1h0M181.6 92.1h0M166.4 103.3h0M263.0 101.4h0M221.9 105.0h0M276.4 111.4h0M250.9 109.5h0M226.2 96.2h0M177.3 93.5h0M168.2 103.6h0M179.1 97.2h0M173.0 89.9h0M199.8 99.8h0M205.7 95.2h0M168.8 100.6h0M166.0 88.1h0M148.3 86.3h0M237.1 112.4h0M231.1 111.5h0M149.1 86.7h0M188.9 94.2h0M218.7 95.2h0M180.8 106.2h0M207.7 104.4h0M148.3 83.6h0M252.6 102.3h0M196.0 104.2h0M190.7 111.0h0M236.3 106.5h0M248.4 100.6h0M170.3 104.8h0M159.3 92.5h0M170.4 90.2h0M187.6 109.0h0M232.6 112.5h0M146.4 84.5h0M169.6 90.4h0M227.8 100.0h0M145.8 84.8h0M262.8 110.9h0M245.6 104.3h0M243.3 112.3h0M257.3 109.2h0M165.0 93.7h0M224.9 98.3h0M232.1 104.1h0M190.1 100.6h0M259.8 110.0h0M154.3 94.5h0M156.6 94.8h0M176.2 104.6h0M207.2 109.2h0M243.5 108.2h0M167.2 98.3h0M225.0 110.4h0M221.6 105.6h0M153.8 84.9h0M222.1 104.9h0M207.2 104.7h0M198.7 102.9h0M252.0 113.2h0M162.8 97.3h0M220.1 98.9h0M254.1 101.0h0M149.8 87.7h0M198.7 109.6h0M235.9 107.5h0M222.6 110.7h0M162.6 92.6h0M256.2 112.3h0M172.8 105.8h0M190.1 97.1h0M202.1 105.3h0M237.3 111.4h0M146.4 88.0h0M200.5 108.3h0M192.4 97.4h0M194.2 98.9h0M172.8 104.3h0M184.8 103.5h0M190.4 97.0h0M164.3 102.9h0M183.0 107.5h0M212.4 107.6h0M256.4 111.1h0M172.3 100.3h0M196.8 101.3h0M187.7 108.5h0M182.1 103.1h0M191.2 109.1h0M251.5 103.1h0M211.4 101.2h0M235.7 105.7h0M256.3 108.0h0M225.0 110.1h0M274.7 108.9h0M209.5 110.9h0M171.9 104.3h0M151.5 84.9h0M215.0 109.9h0M157.6 98.2h0M187.4 101.0h0M172.4 97.2h0M189.6 109.3h0M169.7 103.0h0M174.4 106.1h0M241.8 106.8h0M178.5 98.4h0M160.8 87.9h0M259.4 112.8h0M243.9 112.4h0M243.7 110.3h0M235.9 104.3h0M149.6 89.0h0M169.1 102.5h0M174.8 97.5h0M226.5 108.3h0M150.1 85.4h0M234.8 100.5h0M230.7 110.8h0M258.0 102.8h0M249.7 107.3h0M189.9 99.9h0M153.8 90.8h0M200.1 108.6h0M215.4 97.7h0M181.4 101.0h0M149.3 87.2h0M239.5 113.3h0M158.5 90.3h0M162.4 98.8h0M178.2 98.2h0M176.9 104.0h0M234.4 98.8h0M175.9 107.8h0M154.1 93.5h0M148.6 89.4h0M145.6 88.6h0M242.4 106.3h0M198.7 96.4h0M189.6 109.2h0M148.9 89.2h0M275.7 112.9h0M144.1 84.2h0M184.6 107.7h0M226.5 112.7h0M237.6 111.2h0M271.1 107.6h0M149.5 93.3h0M151.7 90.3h0M233.4 107.8h0M254.7 109.8h0M252.5 103.6h0M171.7 98.3h0M152.7 94.2h0M265.1 106.9h0M273.7 113.4h0M254.1 105.6h0M159.4 89.6h0M257.4 108.6h0M236.8 100.0h0M257.7 113.1h0M248.5 109.8h0M247.5 106.3h0M149.0 92.7h0M220.8 107.6h0M256.1 109.5h0M147.8 88.4h0M205.1 107.3h0M159.5 92.8h0M162.7 94.5h0M229.8 100.5h0M176.8 91.3h0M169.3 93.3h0M263.7 113.3h0M227.3 104.7h0M181.1 99.5h0M266.6 113.2h0M231.9 105.5h0M174.3 95.3h0M178.8 94.8h0M222.7 109.4h0M231.2 111.6h0M192.1 104.3h0M226.0 105.0h0M173.5 90.6h0M181.6 105.4h0M252.1 112.0h0M167.5 95.6h0M225.2 108.2h0M205.9 104.9h0M217.9 107.7h0M244.3 98.6h0M210.4 109.7h0M242.0 102.9h0M225.8 104.4h0M152.9 84.5h0M208.3 109.0h0M266.2 109.0h0M262.0 111.6h0M230.6 108.9h0M263.5 107.3h0M252.5 106.5h0M178.5 98.9h0M209.2 107.6h0M199.9 106.1h0M253.0 108.7h0M187.6 99.3h0M176.3 102.8h0M196.9 102.6h0M153.1 87.7h0M179.1 94.9h0M142.8 83.8h0M209.7 102.5h0M174.1 91.2h0M208.6 107.0h0M223.4 106.9h0M237.6 101.9h0M212.4 113.0h0M144.9 85.2h0M248.9 98.2h0M228.3 99.3h0M251.6 112.0h0M212.1 95.6h0M201.5 99.9h0M209.9 96.8h0M237.7 108.0h0M249.7 110.4h0M244.0 105.8h0M201.2 103.3h0M154.9 86.3h0M208.2 112.2h0M171.5 90.0h0M192.2 109.0h0M248.9 103.8h0M173.2 99.8h0M166.3 97.3h0M205.4 105.5h0M259.6 103.2h0M249.6 111.1h0M233.9 104.3h0M201.0 96.8h0M185.3 99.9h0M247.3 97.6h0M203.7 97.7h0M199.3 109.3h0M179.5 92.9h0M179.7 105.3h0M257.0 113.5h0M193.8 101.1h0M160.0 95.7h0M241.2 107.5h0M264.0 108.1h0M206.4 97.2h0M218.3 107.6h0M222.5 111.9h0M214.6 103.2h0M233.5 100.3h0M174.7 95.7h0M162.1 97.9h0M162.8 100.9h0M241.1 105.0h0M259.4 107.8h0M149.8 92.2h0M247.1 101.1h0M229.8 104.4h0M198.7 107.3h0M174.5 103.1h0M186.8 98.9h0M153.1 95.3h0M180.7 97.5h0M162.6 100.4h0M209.7 105.2h0M193.1 96.9h0M155.0 95.5h0M244.1 104.9h0M202.9 111.6h0M248.3 107.9h0M181.2 108.1h0M217.3 109.0h0M202.0 106.8h0M233.0 105.9h0M147.8 88.0h0M244.2 110.3h0M247.2 106.3h0M244.0 110.1h0M233.7 106.0h0M198.5 106.0h0M145.5 87.3h0M275.2 110.9h0M177.9 98.9h0M234.6 108.9h0M206.1 110.4h0M244.0 102.9h0M164.9 100.1h0M191.8 106.2h0M261.1 103.4h0M259.6 113.9h0M164.5 101.6h0M244.2 100.9h0M220.4 98.9h0M247.8 109.8h0M230.5 107.3h0M189.2 92.4h0M219.3 103.0h0M202.3 100.7h0M218.4 102.4h0M258.8 109.9h0M182.2 103.5h0M147.2 86.1h0M150.0 91.0h0M162.1 93.5h0M179.2 106.6h0M224.4 97.4h0M190.9 108.2h0M153.4 87.7h0M215.5 111.0h0M263.8 113.7h0M250.0 108.7h0M231.9 104.2h0M151.2 85.4h0M270.1 112.3h0M251.1 111.1h0M151.6 94.1h0M247.8 114.2h0M224.5 110.5h0M238.8 109.7h0M200.1 111.0h0M205.1 109.8h0M212.2 109.8h0M239.8 112.0h0M181.3 109.2h0M198.3 106.5h0M165.3 100.5h0M225.8 99.6h0M254.5 107.2h0M227.5 109.6h0M152.0 86.0h0M276.2 114.5h0M194.4 108.5h0M208.4 107.2h0M253.8 109.5h0M245.1 113.1h0M242.0 104.5h0M238.3 104.4h0M233.8 107.1h0M167.0 96.2h0M227.9 110.5h0M237.9 106.7h0M227.0 98.1h0M201.7 92.6h0M150.1 85.5h0M172.1 99.1h0M152.9 88.8h0M181.7 90.8h0M153.3 87.9h0M179.8 101.3h0M185.8 97.2h0M157.5 94.7h0M255.1 104.5h0M188.7 109.6h0M230.9 108.4h0M252.0 111.3h0M223.2 110.0h0M198.9 102.4h0M270.5 106.4h0M225.0 113.7h0M202.1 100.7h0M190.5 108.2h0M213.9 110.6h0M228.2 109.5h0M203.9 105.9h0M189.7 107.9h0M167.3 92.3h0M206.9 101.4h0M152.0 93.0h0M168.1 102.9h0M165.7 100.1h0M166.7 91.1h0M262.1 110.7h0M158.2 98.6h0M260.5 110.7h0M244.6 107.2h0M172.2 92.0h0M174.4 104.2h0M245.1 113.5h0M249.6 99.5h0M258.6 110.6h0M185.6 92.0h0M256.1 104.2h0M181.7 105.9h0M193.5 92.1h0M176.3 102.5h0M164.6 90.2h0M252.2 109.3h0M255.9 107.5h0M240.2 103.3h0M241.2 110.1h0M242.6 103.8h0M265.5 108.9h0M247.1 97.7h0M244.2 109.0h0M154.9 95.7h0M216.2 108.7h0M162.4 95.7h0M211.9 110.2h0M252.8 110.5h0M247.8 108.1h0M243.6 109.7h0M219.6 105.6h0M262.9 112.7h0M154.5 87.5h0M223.7 108.9h0M231.0 109.5h0M172.8 90.7h0M154.2 88.5h0M166.0 93.7h0M225.1 96.0h0M193.3 101.3h0M208.7 108.5h0M172.3 100.5h0M235.0 113.1h0M213.9 109.2h0M207.5 95.3h0M159.4 99.1h0M232.2 111.6h0M244.2 103.3h0M251.7 99.8h0M221.2 101.6h0M208.5 101.4h0M263.5 104.1h0M183.1 98.4h0M269.2 107.4h0M244.8 103.5h0M256.2 101.5h0M162.3 98.8h0M260.8 106.7h0M228.5 100.2h0M274.3 107.5h0M203.0 109.3h0M269.4 108.2h0M274.9 111.2h0M259.2 112.0h0M172.7 102.3h0M194.9 99.5h0M190.7 104.5h0M200.1 105.1h0M213.8 110.2h0M178.6 91.4h0M239.3 97.5h0M211.2 109.1h0M220.7 109.0h0M192.5 106.4h0M262.0 113.7h0M196.8 101.9h0M163.5 97.4h0M210.1 109.8h0M210.4 99.7h0M227.7 113.0h0M193.9 104.3h0M278.1 109.8h0M232.0 110.2h0M246.5 111.8h0M150.6 86.8h0M226.7 107.9h0M258.3 109.4h0M223.9 112.6h0M268.0 109.9h0M238.5 98.5h0M208.2 109.8h0M212.3 108.5h0M175.8 96.6h0M231.8 104.1h0M169.4 106.1h0M270.0 113.0h0M165.5 96.4h0M227.6 99.5h0M206.8 107.0h0M236.7 108.3h0M206.5 103.6h0M191.4 107.6h0M222.2 103.0h0M149.3 89.7h0M259.1 111.7h0M145.4 85.9h0M183.3 101.9h0M221.9 110.0h0M273.9 111.5h0M169.9 97.7h0M158.5 92.2h0M261.3 107.1h0M193.1 107.1h0M195.2 96.3h0M247.9 111.2h0M266.7 109.6h0M183.0 103.2h0M247.8 111.3h0M186.4 91.7h0M177.1 98.7h0M145.3 83.8h0M184.3 98.5h0M245.0 111.6h0M221.1 97.5h0M229.7 105.3h0M273.9 111.9h0M249.5 101.4h0M149.3 87.0h0M211.9 102.2h0M245.9 108.4h0M182.8 109.7h0M213.9 96.7h0M208.5 105.7h0M217.4 106.7h0M191.6 108.3h0M150.9 95.5h0M268.5 111.9h0M242.8 112.6h0M265.3 111.3h0M212.2 97.8h0M176.4 99.3h0M262.8 101.2h0M222.3 106.1h0M233.4 103.1h0M257.0 114.4h0M185.6 98.0h0M160.9 99.5h0M215.2 112.2h0M196.2 100.8h0M177.5 105.9h0M174.9 91.6h0M198.1 98.1h0M191.9 103.5h0M203.3 103.7h0M148.6 92.8h0M234.1 110.7h0M260.0 109.2h0M218.1 99.9h0M181.4 106.8h0M193.9 113.9h0M257.9 110.9h0M142.3 83.4h0M175.9 103.9h0M198.5 95.9h0M204.2 100.3h0M232.7 100.2h0M242.4 110.2h0M235.2 103.2h0M211.2 105.1h0M246.9 110.1h0M262.6 107.5h0M180.9 90.9h0M241.9 109.8h0M160.6 98.7h0M172.0 99.4h0M222.5 108.9h0M166.8 101.4h0M186.8 92.3h0M261.6 115.1h0M245.0 112.9h0M266.1 111.5h0M180.0 91.4h0M163.5 100.0h0M246.9 109.7h0M181.5 105.0h0M166.7 97.7h0M242.6 102.4h0M216.7 105.0h0M275.0 109.3h0M259.7 109.4h0M197.4 101.0h0M221.1 111.3h0M193.3 109.1h0M173.1 103.8h0M245.7 100.3h0M216.3 110.5h0M204.2 98.1h0M146.7 89.0h0M227.4 112.7h0M145.4 87.3h0M161.3 91.4h0M165.6 89.7h0M220.5 105.5h0M230.4 96.6h0M255.1 111.7h0M259.7 114.5h0M178.7 106.8h0M252.7 103.3h0M169.5 94.3h0M161.7 101.6h0M191.3 108.4h0M177.3 105.0h0M160.3 97.3h0M179.2 105.7h0M229.0 111.1h0M149.9 91.0h0M229.7 106.7h0M221.6 112.9h0M247.2 104.2h0M143.3 84.5h0M155.2 96.9h0M169.8 106.7h0M236.9 108.4h0M248.0 102.1h0M229.2 102.9h0M163.2 87.0h0M242.1 107.8h0M220.3 110.9h0M214.6 111.0h0M199.6 101.8h0M155.0 94.3h0M233.7 106.6h0M152.6 94.7h0M238.1 97.2h0M218.5 103.1h0M212.3 109.9h0M251.0 99.1h0M163.4 95.8h0M149.9 90.2h0M182.5 105.5h0M238.2 102.0h0M182.4 102.1h0M149.8 91.5h0M258.6 114.4h0M165.6 104.5h0M142.9 80.8h0M234.9 112.7h0M193.2 107.8h0M228.4 104.2h0M231.6 109.6h0M149.1 86.3h0M169.7 102.5h0M178.2 109.4h0M239.0 108.9h0M251.3 105.7h0M150.8 92.8h0M234.6 111.5h0M148.9 90.3h0M230.6 97.4h0M167.2 95.4h0M151.8 88.7h0M232.2 99.1h0M177.9 94.4h0M247.4 106.5h0M219.2 107.8h0M165.1 101.6h0M247.8 110.8h0M154.1 89.5h0M143.4 83.0h0M259.5 111.7h0M206.7 109.3h0M217.3 111.5h0M269.3 104.7h0M146.2 85.1h0M221.0 111.0h0M208.4 111.7h0M147.8 91.2h0M226.7 110.5h0M183.4 104.2h0M243.5 107.9h0M183.8 109.2h0M207.9 96.8h0M203.2 107.6h0M148.8 89.9h0M258.8 102.9h0M207.1 105.6h0M201.0 107.9h0M185.0 101.6h0M235.4 102.2h0M255.7 107.8h0M256.6 108.4h0M266.9 114.7h0M211.0 111.7h0M263.1 111.4h0M191.0 101.7h0M216.6 110.1h0M207.0 100.9h0M273.2 112.6h0M153.2 88.0h0M208.4 95.4h0M277.8 112.5h0M176.4 95.0h0M251.7 105.1h0M151.0 84.6h0M168.0 99.6h0M196.1 95.7h0M219.1 110.4h0M171.6 89.6h0M219.6 95.2h0M194.0 107.9h0M200.7 109.8h0M217.8 106.2h0M238.4 99.9h0M146.2 85.1h0M237.5 105.1h0M253.5 110.6h0M219.9 103.3h0M230.5 104.5h0M188.0 102.4h0M240.7 111.2h0M152.0 88.7h0M202.5 108.4h0M158.6 98.0h0M243.4 98.2h0M222.4 112.1h0M232.1 101.4h0M196.8 110.2h0M239.3 110.5h0M147.9 85.1h0M164.2 89.4h0M221.4 108.8h0M179.9 94.6h0M143.8 83.7h0M150.6 94.6h0M218.7 97.1h0M167.5 98.9h0M208.9 112.3h0M193.6 101.8h0M223.8 103.5h0M219.1 112.0h0M245.5 109.1h0M249.4 100.1h0M205.0 108.0h0M180.0 106.4h0M168.9 102.7h0M235.6 104.4h0M263.7 101.9h0M256.0 103.9h0M168.4 90.2h0M153.2 93.4h0M252.0 104.4h0M189.3 100.1h0M171.6 98.2h0M198.4 95.6h0M162.8 88.6h0M152.8 93.3h0M228.6 110.3h0M244.2 98.1h0M241.3 108.2h0M258.9 104.2h0M152.7 86.7h0M251.1 106.9h0M224.6 103.6h0M253.7 102.5h0M269.2 106.0h0M188.0 100.7h0M238.2 107.9h0M155.9 92.0h0M238.2 110.3h0M176.2 94.0h0M258.8 109.8h0M149.1 86.1h0M184.1 104.5h0M230.3 112.6h0M280.8 111.5h0M168.9 88.2h0M244.9 109.9h0M241.9 110.1h0M183.1 109.3h0M272.9 108.5h0M166.9 90.3h0M206.3 101.7h0M175.0 105.1h0M220.6 110.6h0M156.1 90.7h0M176.3 96.0h0M205.3 103.7h0M254.1 106.2h0M248.0 107.5h0M160.4 99.5h0M217.0 101.0h0M225.6 110.7h0M212.0 102.5h0M145.3 88.2h0M268.5 110.8h0M206.4 110.1h0M202.5 110.5h0M263.5 105.0h0M246.6 103.1h0M251.9 105.0h0M239.1 108.9h0M268.9 107.9h0M167.3 92.3h0M186.5 105.0h0M210.4 97.2h0M200.3 100.4h0M171.4 89.2h0M172.9 103.5h0M205.9 98.3h0M174.0 90.6h0M191.3 98.4h0M252.1 104.7h0M222.5 108.5h0M229.7 113.0h0M199.9 107.1h0M272.2 111.9h0M275.5 108.4h0M220.0 104.1h0M218.1 103.5h0M210.2 106.1h0M170.0 100.9h0M157.0 88.4h0M198.4 107.1h0M201.8 97.4h0M229.6 108.3h0M251.5 111.9h0M177.8 100.7h0M250.7 100.4h0M176.1 100.2h0M273.5 111.6h0M189.9 103.9h0M176.2 96.4h0M212.4 102.0h0M253.0 110.9h0M234.9 113.0h0M150.5 91.9h0M269.0 108.0h0M171.0 99.4h0M231.9 106.8h0M177.2 103.0h0M276.1 112.2h0M269.0 104.1h0M270.5 110.1h0M224.0 100.8h0M198.4 110.6h0M170.0 97.6h0M161.1 100.4h0M259.0 110.1h0M237.4 110.5h0M249.3 114.3h0M146.1 85.4h0M259.4 112.1h0M160.5 103.1h0M158.8 87.3h0M247.3 110.8h0M148.2 84.3h0M201.6 95.2h0M275.9 108.6h0M235.3 110.0h0M220.5 102.1h0M250.1 108.5h0M207.1 109.6h0M157.9 99.3h0M203.6 109.5h0M240.1 110.9h0M210.2 105.9h0M246.3 111.3h0M192.0 104.9h0M253.0 112.7h0M242.9 102.6h0M183.0 105.2h0M169.7 104.0h0M185.1 92.5h0M217.9 107.3h0M161.3 89.0h0M164.1 89.0h0M159.7 89.4h0M197.0 99.0h0M242.0 102.7h0M246.0 98.1h0M232.0 105.4h0M251.7 108.7h0M213.2 95.4h0M257.8 109.9h0M252.3 105.6h0M239.1 110.6h0M164.2 101.9h0M170.1 103.0h0M165.3 103.4h0M244.9 104.2h0M152.2 96.4h0M248.3 109.3h0M190.0 103.7h0M259.7 111.8h0M270.1 108.8h0M154.7 95.5h0M150.5 89.8h0M217.8 109.5h0M223.1 106.4h0M169.1 95.5h0M193.4 110.7h0M234.9 113.5h0M167.1 99.6h0M201.4 113.1h0M254.3 104.8h0M169.4 98.6h0M166.7 102.2h0M227.7 109.9h0M157.0 94.4h0M237.8 109.7h0M148.8 85.1h0M181.5 96.3h0M203.3 97.7h0M178.9 104.6h0M205.4 101.7h0M189.6 101.9h0M257.7 100.0h0M220.0 109.3h0M177.8 100.8h0M201.9 94.8h0M155.6 96.9h0M142.9 85.9h0M262.9 108.8h0M230.2 103.8h0M251.8 111.4h0M219.5 106.8h0M246.5 106.1h0M176.1 92.0h0M221.3 102.1h0M236.8 111.4h0M228.3 99.3h0M174.9 104.7h0M192.8 103.4h0M217.9 96.1h0M249.9 110.4h0M147.7 89.6h0M201.4 108.7h0M197.5 109.5h0M147.3 88.2h0M260.9 105.5h0M185.2 101.4h0M225.3 108.4h0M157.6 93.5h0M174.3 94.6h0M167.4 101.4h0M179.0 108.4h0M265.8 111.3h0M153.9 93.4h0M179.1 92.3h0M264.3 113.3h0M201.3 99.6h0M254.7 107.4h0M252.0 111.8h0M166.8 102.5h0M203.0 107.1h0M225.2 110.0h0M238.7 104.2h0M231.4 108.5h0M237.0 97.9h0M174.0 102.6h0M204.0 109.0h0M188.0 97.3h0M257.6 111.4h0M201.5 92.7h0M169.3 94.0h0M154.5 93.7h0M222.7 108.1h0M198.0 111.9h0M239.5 102.1h0M204.7 107.8h0M208.2 109.4h0M223.6 112.0h0M220.8 110.8h0M187.7 95.7h0M200.5 110.0h0M253.3 107.4h0M230.9 99.6h0M210.6 109.9h0M201.1 94.8h0M250.8 110.9h0M227.9 108.1h0M171.4 92.4h0M205.6 110.4h0M194.2 100.6h0M147.8 87.2h0M168.5 90.2h0M170.7 101.8h0M200.8 106.4h0M248.4 112.5h0M242.2 108.0h0M190.5 104.2h0M199.6 103.1h0M212.6 105.6h0M167.4 101.5h0M260.4 110.9h0M170.2 89.9h0M186.5 103.4h0M158.0 87.2h0M263.7 109.7h0M204.6 103.2h0M177.8 94.9h0M189.2 109.7h0M275.4 112.4h0M211.2 105.9h0M263.8 111.4h0M170.2 104.0h0M195.2 104.8h0M253.0 109.9h0M171.9 92.2h0M183.1 94.4h0M193.9 106.3h0M270.0 107.6h0M216.0 111.8h0M242.6 106.7h0M242.1 108.4h0M161.8 100.1h0M178.8 105.3h0M242.8 110.4h0M256.3 112.6h0M264.1 106.0h0M203.7 108.4h0M178.2 102.3h0M277.4 109.3h0M154.5 93.5h0M212.3 94.3h0M254.0 104.0h0M250.8 101.5h0M164.4 97.8h0M255.5 98.2h0M221.1 112.5h0M157.9 96.2h0M262.8 110.9h0M190.9 102.3h0M174.3 100.5h0M149.9 87.3h0M253.4 99.7h0M152.4 92.5h0M196.3 101.7h0M224.4 111.6h0M200.9 112.7h0M211.4 101.6h0M258.5 105.2h0M220.7 99.1h0M227.6 96.5h0M238.6 101.9h0M165.7 96.1h0M231.4 112.0h0M215.6 109.7h0M253.7 110.2h0M200.3 110.4h0M171.7 88.8h0M185.7 107.5h0M245.0 113.7h0M251.1 107.8h0M231.1 102.1h0M246.1 100.5h0M178.3 107.6h0M206.1 105.2h0M167.0 103.1h0M193.0 103.0h0M214.3 103.7h0M260.4 113.8h0M184.3 90.9h0M251.5 112.4h0M239.1 104.2h0M256.3 112.1h0M259.3 102.9h0M153.5 92.4h0M163.1 101.1h0M276.4 111.2h0M154.3 86.7h0M259.2 102.5h0M256.5 100.3h0M166.4 100.9h0M209.7 96.4h0M183.8 104.2h0M241.3 112.0h0M174.6 104.9h0M212.9 106.2h0M186.4 106.8h0M271.5 114.8h0M164.1 95.6h0M261.8 114.1h0M152.1 85.7h0M194.9 110.6h0M229.0 96.5h0M227.4 108.1h0M220.4 99.4h0M169.0 102.9h0M155.4 90.0h0M147.1 84.2h0M188.1 109.1h0M207.6 111.2h0M271.4 109.5h0M192.8 95.7h0M223.7 99.9h0M267.4 108.9h0M233.7 102.6h0M227.0 99.2h0M155.9 89.4h0M183.8 96.1h0M153.3 95.4h0M215.2 110.5h0M208.9 109.9h0M262.5 109.8h0M206.5 109.4h0M232.7 110.4h0M243.5 111.7h0M176.1 103.4h0M160.3 91.3h0M154.5 89.8h0M242.0 111.2h0M234.4 113.8h0M224.5 109.0h0M252.8 101.1h0M155.4 87.6h0M159.3 97.7h0M198.0 107.4h0M216.8 106.8h0M156.8 96.6h0M170.0 91.0h0M213.2 110.3h0M263.9 108.5h0M167.8 104.5h0M168.6 98.5h0M248.8 104.0h0M236.7 107.4h0M212.5 99.1h0M241.2 101.0h0M264.3 105.0h0M213.3 106.0h0M275.1 108.6h0M230.7 108.9h0M253.3 108.3h0M274.1 109.6h0M170.0 101.7h0M259.8 110.0h0M209.8 100.3h0M176.5 99.0h0M157.6 89.5h0M223.7 105.4h0M156.1 86.5h0M238.7 108.2h0M249.5 105.4h0M252.1 111.5h0M181.9 99.7h0M148.1 84.3h0M201.5 106.7h0M209.8 110.1h0M206.8 109.2h0M191.5 92.1h0M259.8 110.6h0M149.8 87.6h0M253.9 102.1h0M151.2 92.4h0M256.8 108.8h0M245.4 106.5h0M215.5 102.4h0M225.8 110.7h0M201.9 107.5h0M169.7 93.6h0M214.8 107.7h0M238.9 104.0h0M169.0 104.4h0M220.6 99.5h0M159.4 98.4h0M231.5 109.7h0M224.6 110.7h0M233.9 110.7h0M158.2 87.3h0M166.9 102.0h0M211.9 109.7h0M202.5 96.7h0M227.1 98.8h0M205.9 102.7h0M240.0 105.5h0M159.1 96.1h0M268.8 108.0h0M182.4 100.2h0M248.8 111.3h0M180.9 108.3h0M219.1 103.5h0M233.4 100.0h0M200.5 109.6h0M184.8 111.2h0M159.0 98.2h0M198.6 93.8h0M147.4 90.5h0M247.0 102.0h0M183.8 109.0h0M188.9 108.9h0M148.2 90.9h0M263.0 103.9h0M203.6 95.7h0M253.8 101.2h0M213.4 108.7h0M157.0 94.5h0M176.9 97.5h0M227.2 113.4h0M146.8 89.2h0M213.3 110.1h0M216.0 98.1h0M146.8 88.6h0M253.6 100.2h0M270.9 112.6h0M194.4 101.7h0M256.7 112.2h0M155.3 92.2h0M217.5 107.7h0M214.0 107.2h0M248.0 106.9h0M211.2 106.2h0M150.4 92.1h0M197.3 105.1h0M229.2 98.3h0M268.9 106.4h0M272.3 106.6h0M225.7 96.6h0M198.3 98.7h0M265.9 108.8h0M195.9 99.0h0M156.1 89.9h0M174.6 104.2h0M169.2 104.0h0M147.5 89.2h0M155.1 89.7h0M172.8 103.8h0M152.9 90.3h0M148.0 89.5h0M187.6 94.0h0M239.7 105.7h0M236.8 96.6h0M186.5 102.4h0M181.9 101.9h0M233.2 104.3h0M265.9 110.7h0M150.4 85.9h0M249.3 108.8h0M223.2 110.1h0M157.8 90.1h0M194.4 98.1h0M240.9 112.0h0M211.4 109.2h0M199.8 98.2h0M183.8 104.3h0M268.8 112.8h0M158.7 95.6h0M160.3 89.1h0M211.1 97.4h0M173.7 94.4h0M143.1 83.9h0M223.2 105.6h0M228.1 110.6h0M246.8 105.0h0M225.9 98.8h0M234.9 98.5h0M184.7 92.4h0M230.9 113.0h0M220.4 98.0h0M164.5 101.0h0M227.2 104.6h0M158.0 95.3h0M224.6 108.3h0M163.0 101.4h0M187.0 110.3h0M263.5 112.0h0M272.0 112.0h0M138.2 45.9h0M128.0 49.0h0M145.8 48.3h0M147.2 45.3h0M132.5 45.1h0M148.3 45.8h0M125.8 48.9h0M125.9 49.9h0M273.9 105.5h0M291.6 98.1h0M288.7 99.6h0M279.5 101.7h0M279.6 105.6h0M285.7 100.4h0M283.7 108.9h0M278.8 102.0h0M277.5 97.1h0M281.4 98.5h0M275.1 109.8h0M272.8 99.7h0M282.8 104.3h0M287.9 96.1h0M272.1 97.0h0M268.8 100.7h0M237.3 90.6h0M176.1 84.3h0M175.1 85.7h0M168.6 85.8h0M242.1 91.7h0M207.9 87.5h0M166.9 85.1h0M227.2 93.9h0M202.9 89.7h0M173.8 86.5h0M182.9 86.4h0M191.3 87.5h0M190.2 86.5h0M248.9 92.9h0M244.3 93.4h0M164.0 80.9h0M176.2 88.1h0M234.9 94.8h0M209.6 90.4h0M160.5 82.9h0M167.2 82.7h0M245.1 93.8h0M214.8 91.1h0M219.0 88.1h0M180.2 85.7h0M156.5 78.9h0M118.3 55.2h0M138.3 68.7h0M138.6 53.9h0M133.2 63.5h0M122.9 46.7h0M123.4 49.4h0M139.0 63.0h0M124.5 57.8h0M141.5 67.4h0M124.2 48.7h0M157.5 81.1h0M156.6 79.1h0M119.6 45.1h0M125.3 58.6h0M124.7 53.7h0M130.4 59.5h0M135.0 60.5h0M137.4 59.5h0M117.5 52.4h0M124.5 44.5h0M156.0 85.0h0M129.9 57.8h0M149.8 85.0h0M118.3 53.8h0M155.3 82.7h0M132.1 55.8h0M131.7 55.7h0M151.0 83.1h0M153.4 82.8h0M131.7 54.8h0M140.3 71.3h0M124.4 50.7h0M120.6 48.7h0M150.5 80.8h0M119.6 53.8h0M121.7 54.4h0M147.1 80.3h0M126.8 50.3h0M145.0 76.6h0M140.5 66.2h0M149.4 80.6h0M131.2 61.4h0M134.3 61.9h0M120.4 55.3h0M133.6 61.7h0M138.9 66.3h0M143.8 73.9h0M150.1 79.5h0M137.3 64.5h0M150.7 84.7h0M116.4 56.9h0M149.7 85.3h0M156.5 89.7h0M125.7 51.0h0M126.6 65.9h0M149.3 85.1h0M142.9 80.1h0M148.6 88.3h0M131.4 66.3h0M148.3 83.5h0M123.2 49.9h0M156.6 82.4h0M151.2 83.9h0M152.5 82.1h0M127.6 53.8h0M124.9 53.2h0M117.8 64.4h0M133.3 62.7h0M134.2 63.9h0M132.4 67.3h0M133.8 60.4h0M143.6 73.8h0M154.2 86.3h0M135.1 56.8h0M139.0 63.1h0M135.2 67.4h0M145.7 74.3h0M126.7 47.1h0M149.9 79.4h0M131.8 54.6h0" stroke="#b2182b" stroke-width="1.70" stroke-linecap="round" fill="none"/>
<path d="M183.0 132.6h0M156.0 141.8h0M166.2 135.3h0M205.2 131.6h0M160.1 141.5h0M169.1 135.5h0M266.1 128.4h0M157.7 132.3h0M140.2 149.7h0M253.8 138.8h0M244.7 147.3h0M239.2 137.3h0M220.6 148.4h0M170.6 139.1h0M214.4 149.8h0M268.1 126.0h0M210.7 128.8h0M261.5 138.9h0M160.9 156.3h0M166.5 139.5h0M258.0 125.9h0M273.2 136.6h0M258.0 128.0h0M216.1 129.3h0M250.7 133.7h0M131.6 147.0h0M238.1 136.4h0M181.9 130.6h0M195.6 132.4h0M210.6 142.5h0M135.7 148.2h0M242.4 127.0h0M217.9 141.7h0M250.7 142.8h0M266.5 130.0h0M259.6 125.4h0M233.8 133.6h0M145.8 137.8h0M276.1 132.0h0M279.6 128.6h0M245.5 129.0h0M181.2 147.1h0M235.3 141.8h0M189.0 135.6h0M206.6 132.1h0M150.1 137.2h0M158.6 153.7h0M224.0 125.1h0M133.4 154.8h0M225.6 127.8h0M220.1 125.5h0M164.5 145.5h0M257.2 129.6h0M238.0 130.3h0M248.1 133.0h0M253.7 128.1h0M166.2 134.8h0M177.7 129.0h0M146.1 141.1h0M219.9 128.7h0M255.6 129.2h0M232.3 125.2h0M259.6 127.7h0M188.9 131.4h0M236.6 145.0h0M190.1 127.0h0M194.8 146.2h0M193.7 143.1h0M251.4 135.2h0M169.4 137.9h0M243.2 127.6h0M239.6 127.6h0M264.1 137.0h0M201.0 146.8h0M141.7 158.9h0M265.0 124.6h0M157.2 153.1h0M192.4 131.6h0M244.0 146.5h0M186.8 133.4h0M218.7 128.6h0M280.7 123.1h0M155.8 136.2h0M231.2 146.1h0M166.8 139.2h0M237.2 134.5h0M238.4 128.5h0M243.0 128.4h0M269.8 134.2h0M196.1 130.2h0M128.3 156.5h0M162.3 143.7h0M192.6 135.7h0M192.7 135.9h0M256.8 135.7h0M246.7 134.7h0M207.0 129.9h0M213.6 130.9h0M230.0 137.4h0M158.8 136.1h0M146.4 141.8h0M266.7 131.5h0M149.1 140.8h0M212.1 135.6h0M203.3 152.1h0M194.5 137.2h0M225.1 144.3h0M206.3 129.6h0M229.6 142.1h0M144.2 159.3h0M250.9 126.7h0M228.5 126.1h0M269.2 128.5h0M211.5 147.9h0M197.7 142.1h0M149.6 139.5h0M216.9 148.6h0M260.1 133.5h0M247.5 144.9h0M232.3 135.1h0M206.7 127.6h0M267.3 129.5h0M237.7 137.0h0M244.8 129.7h0M180.8 128.4h0M210.4 135.6h0M262.3 138.4h0M189.5 148.0h0M231.8 133.3h0M236.9 128.7h0M227.4 144.7h0M212.8 148.0h0M215.0 130.9h0M272.1 134.2h0M217.2 124.8h0M254.8 126.6h0M255.8 136.2h0M261.1 138.6h0M222.2 140.1h0M206.9 130.9h0M199.9 126.1h0M167.8 138.4h0M224.0 126.7h0M192.2 136.0h0M275.0 125.3h0M224.1 128.0h0M241.5 147.9h0M241.4 130.8h0M243.8 133.2h0M264.7 135.7h0M242.7 134.9h0M182.4 146.4h0M190.4 134.3h0M155.9 142.0h0M220.2 126.8h0M268.4 129.9h0M196.3 136.2h0M195.0 128.3h0M154.0 154.4h0M218.8 149.8h0M173.6 140.2h0M203.1 129.3h0M275.4 126.8h0M224.6 135.1h0M211.9 130.2h0M233.5 138.3h0M209.7 129.4h0M191.4 148.0h0M230.5 129.8h0M263.7 133.7h0M175.9 147.2h0M218.4 136.1h0M245.1 141.4h0M218.0 128.9h0M134.4 149.2h0M268.7 126.8h0M207.8 139.4h0M222.8 128.3h0M160.0 145.6h0M232.5 146.5h0M172.4 143.3h0M176.0 146.3h0M183.5 129.3h0M155.2 149.1h0M230.6 131.5h0M262.8 132.0h0M273.0 126.6h0M242.4 134.7h0M199.2 139.8h0M187.5 142.1h0M273.0 126.6h0M246.8 137.6h0M133.9 151.6h0M212.9 151.0h0M186.5 132.7h0M207.6 133.9h0M173.8 154.4h0M162.0 138.7h0M231.3 140.2h0M240.3 126.1h0M226.5 139.9h0M266.5 137.2h0M244.3 142.4h0M250.4 126.9h0M245.4 138.0h0M169.6 152.0h0M257.1 128.1h0M254.6 125.7h0M165.1 146.3h0M256.7 125.0h0M231.3 130.4h0M226.4 129.3h0M185.2 138.1h0M146.1 138.5h0M251.1 134.1h0M155.1 138.3h0M161.5 135.8h0M218.3 149.9h0M164.6 133.3h0M251.7 127.0h0M218.9 124.6h0M177.3 143.9h0M141.1 147.6h0M202.3 131.9h0M246.4 127.0h0M246.3 136.7h0M264.3 136.4h0M256.0 127.5h0M232.5 132.6h0M205.3 140.8h0M266.0 124.1h0M198.8 151.3h0M258.5 138.3h0M227.0 131.9h0M175.0 136.8h0M214.1 131.8h0M230.3 123.3h0M187.3 142.9h0M207.7 144.7h0M190.3 133.5h0M189.5 144.6h0M218.0 148.7h0M269.9 131.5h0M252.9 127.4h0M223.2 126.2h0M198.9 133.1h0M192.6 152.5h0M254.9 142.0h0M237.4 136.4h0M247.1 139.4h0M242.9 134.9h0M179.1 130.9h0M185.6 146.1h0M245.0 140.7h0M188.8 132.2h0M187.6 148.3h0M230.3 148.8h0M146.6 158.6h0M236.2 136.2h0M208.3 138.8h0M265.1 124.6h0M165.6 135.2h0M228.0 134.6h0M266.5 136.2h0M171.3 137.4h0M265.9 127.5h0M222.0 128.2h0M217.1 128.3h0M136.8 154.1h0M141.9 142.2h0M142.9 143.4h0M148.5 152.5h0M238.0 144.9h0M227.9 147.5h0M152.8 142.6h0M137.5 146.7h0M231.5 131.9h0M193.1 130.8h0M253.7 130.7h0M222.9 150.1h0M218.8 136.3h0M172.4 153.2h0M252.0 125.2h0M266.2 140.3h0M143.6 156.5h0M147.2 143.5h0M204.3 135.9h0M151.2 143.4h0M220.8 129.9h0M237.8 138.2h0M203.2 131.2h0M224.1 126.9h0M222.9 140.8h0M148.3 140.6h0M218.2 145.1h0M213.9 143.2h0M178.4 130.7h0M219.7 126.7h0M202.0 141.8h0M228.2 139.7h0M170.7 133.1h0M223.5 128.1h0M230.7 129.4h0M179.8 146.0h0M229.6 137.7h0M152.1 139.4h0M236.1 132.4h0M171.4 153.6h0M262.1 127.2h0M237.7 136.2h0M252.6 130.3h0M238.8 137.6h0M127.1 155.5h0M204.2 135.8h0M134.0 150.8h0M183.8 131.2h0M181.7 141.6h0M280.3 132.2h0M232.3 129.0h0M216.0 129.3h0M139.1 159.8h0M230.9 133.7h0M194.3 147.5h0M246.9 128.8h0M242.7 135.6h0M257.3 125.2h0M154.0 151.1h0M216.1 137.4h0M244.0 127.4h0M243.7 131.6h0M183.7 149.9h0M227.2 129.0h0M238.8 128.8h0M177.2 138.4h0M272.0 128.9h0M208.0 144.1h0M252.6 136.4h0M255.8 122.9h0M222.7 126.2h0M241.3 134.5h0M262.0 124.7h0M139.8 146.1h0M181.0 130.9h0M221.2 148.4h0M202.5 134.2h0M257.0 129.0h0M157.2 134.9h0M215.8 132.0h0M210.9 145.7h0M206.4 132.9h0M237.5 127.1h0M203.7 129.1h0M204.1 138.2h0M126.1 155.9h0M158.9 133.6h0M225.5 136.8h0M192.7 131.3h0M163.0 133.6h0M147.2 145.6h0M240.3 128.4h0M219.7 144.6h0M158.7 143.7h0M178.5 154.7h0M175.4 142.5h0M194.0 129.8h0M191.6 137.7h0M202.0 146.1h0M192.1 142.0h0M180.8 129.0h0M143.2 147.8h0M233.3 128.3h0M183.4 146.5h0M148.8 142.5h0M159.2 151.8h0M262.5 126.5h0M203.5 129.4h0M223.1 129.4h0M238.5 130.6h0M150.3 138.3h0M214.5 133.3h0M179.1 132.4h0M206.1 129.1h0M231.9 135.7h0M134.7 155.3h0M214.6 128.9h0M234.7 137.5h0M260.1 141.0h0M270.3 124.8h0M218.0 148.5h0M234.0 127.2h0M268.5 133.7h0M238.1 146.8h0M252.8 135.4h0M251.8 133.6h0M160.9 151.2h0M181.1 137.4h0M180.5 153.4h0M181.8 143.0h0M168.7 134.1h0M164.8 150.6h0M221.3 132.3h0M237.0 137.5h0M246.1 142.0h0M252.0 136.1h0M218.5 148.9h0M211.7 126.9h0M162.7 142.2h0M181.1 146.9h0M204.8 146.0h0M233.5 126.9h0M259.6 126.7h0M229.2 130.2h0M151.8 140.3h0M190.3 153.6h0M140.4 156.8h0M243.3 142.2h0M183.8 145.2h0M249.5 126.3h0M226.8 134.2h0M178.2 145.3h0M166.2 157.6h0M220.6 125.7h0M164.6 148.9h0M221.3 137.4h0M232.8 133.8h0M265.6 127.6h0M188.1 150.5h0M277.2 126.5h0M209.9 144.9h0M160.6 136.8h0M261.6 137.7h0M261.2 130.1h0M197.2 126.4h0M218.1 131.3h0M196.2 138.9h0M188.2 132.1h0M199.6 132.7h0M226.7 129.7h0M174.7 154.0h0M148.7 141.9h0M148.5 148.0h0M170.4 152.2h0M243.3 136.2h0M188.7 145.9h0M186.6 142.6h0M265.8 136.4h0M228.1 127.5h0M260.3 133.7h0M237.5 137.9h0M225.1 125.7h0M143.4 139.9h0M270.7 131.9h0M167.4 136.6h0M186.4 145.0h0M272.7 125.9h0M279.3 126.0h0M165.1 139.8h0M200.6 128.2h0M166.3 133.0h0M180.5 135.9h0M216.8 128.0h0M170.4 131.5h0M175.9 129.4h0M224.3 133.6h0M145.4 156.9h0M169.6 131.8h0M232.1 127.7h0M255.8 125.7h0M164.6 148.9h0M151.8 144.9h0M186.4 151.2h0M246.8 138.8h0M236.0 136.1h0M269.9 126.9h0M253.9 125.0h0M273.5 127.7h0M164.9 147.7h0M208.3 125.6h0M206.4 149.1h0M252.5 127.6h0M239.4 136.6h0M224.9 145.4h0M201.7 135.9h0M251.8 128.7h0M173.7 133.3h0M218.8 132.4h0M167.7 141.5h0M257.6 131.0h0M215.3 128.2h0M263.4 124.8h0M214.5 139.0h0M270.2 136.2h0M247.8 142.8h0M221.8 129.7h0M201.5 140.1h0M218.2 139.9h0M162.2 132.8h0M170.8 138.8h0M137.2 147.0h0M185.1 130.3h0M206.3 140.2h0M238.2 127.2h0M221.5 136.4h0M239.8 127.0h0M195.2 126.9h0M185.0 138.9h0M144.3 154.7h0M210.2 127.8h0M268.7 126.5h0M209.6 132.5h0M169.6 149.8h0M223.0 126.0h0M203.5 125.4h0M235.2 148.8h0M160.8 153.6h0M243.3 129.2h0M192.9 146.0h0M211.9 127.5h0M216.7 128.4h0M137.8 151.1h0M214.5 128.3h0M154.6 142.3h0M192.1 128.9h0M151.5 143.7h0M189.7 152.0h0M178.3 135.1h0M183.9 147.2h0M244.2 148.4h0M220.7 137.1h0M210.3 144.0h0M259.4 129.8h0M180.0 144.7h0M142.1 147.9h0M198.0 132.5h0M249.5 129.4h0M193.3 141.3h0M232.7 133.3h0M218.0 130.9h0M153.3 158.8h0M139.9 145.5h0M272.0 134.2h0M182.6 133.4h0M251.4 145.4h0M214.3 135.8h0M187.2 146.2h0M234.8 131.7h0M181.3 152.9h0M157.1 136.5h0M230.6 141.5h0M148.9 144.8h0M151.1 136.4h0M230.9 127.4h0M133.0 150.8h0M143.6 159.7h0M169.3 131.3h0M223.5 135.5h0M221.0 135.9h0M196.5 145.4h0M196.3 145.2h0M255.2 128.0h0M261.5 139.2h0M163.3 155.1h0M197.5 137.3h0M252.0 138.3h0M272.2 133.0h0M186.4 131.5h0M179.7 133.6h0M269.6 128.8h0M244.5 136.9h0M233.6 134.5h0M136.0 146.0h0M231.9 129.6h0M207.8 130.1h0M155.2 158.2h0M203.6 130.5h0M133.0 157.7h0M192.9 144.8h0M221.6 150.6h0M163.7 151.2h0M192.0 128.7h0M163.9 152.1h0M263.4 135.3h0M228.2 126.5h0M247.8 136.3h0M245.6 143.5h0M220.4 133.2h0M156.6 137.0h0M265.7 133.3h0M253.6 122.4h0M134.0 155.6h0M200.6 130.3h0M224.3 139.3h0M185.4 145.7h0M182.4 130.0h0M179.4 132.9h0M159.5 136.8h0M202.6 140.2h0M279.7 130.8h0M242.4 131.1h0M262.2 144.2h0M243.5 145.2h0M208.0 131.3h0M252.0 140.8h0M207.1 131.4h0M173.1 128.6h0M181.9 144.7h0M193.9 129.4h0M255.7 140.8h0M218.0 147.6h0M226.5 134.9h0M238.1 137.9h0M169.3 147.5h0M194.7 139.3h0M214.0 138.5h0M223.2 130.1h0M220.8 133.3h0M155.1 138.9h0M199.6 129.1h0M249.5 138.4h0M229.4 149.0h0M229.7 131.6h0M156.1 147.0h0M232.5 135.8h0M182.9 130.0h0M262.0 128.0h0M200.4 146.8h0M264.4 127.8h0M171.0 139.9h0M259.5 126.4h0M222.2 133.5h0M154.5 141.9h0M157.7 141.4h0M139.6 143.9h0M164.3 154.9h0M208.0 140.6h0M195.9 130.8h0M185.2 141.4h0M227.8 127.7h0M243.1 128.3h0M163.1 148.7h0M260.3 143.3h0M136.8 144.7h0M163.8 142.4h0M147.3 143.0h0M254.3 138.6h0M161.6 138.3h0M223.6 125.4h0M215.7 139.4h0M250.5 139.8h0M242.3 128.1h0M207.2 127.4h0M133.7 149.0h0M171.8 134.9h0M171.5 135.7h0M245.0 130.5h0M145.9 140.4h0M218.2 139.0h0M258.8 141.7h0M269.4 130.0h0M163.9 143.3h0M239.0 134.0h0M212.5 132.3h0M174.8 154.9h0M263.5 126.2h0M137.5 147.3h0M155.0 141.7h0M150.3 139.0h0M172.1 138.5h0M211.9 139.2h0M190.9 136.9h0M229.1 132.2h0M242.2 127.7h0M280.3 125.3h0M224.9 132.1h0M258.7 131.8h0M190.3 130.2h0M258.4 127.4h0M247.8 143.7h0M201.2 131.8h0M217.8 145.9h0M132.2 151.7h0M272.4 123.7h0M134.2 153.2h0M163.2 134.1h0M174.6 139.3h0M259.4 142.9h0M211.9 135.6h0M233.8 135.2h0M246.5 131.0h0M261.7 122.4h0M252.1 128.4h0M273.3 132.4h0M249.6 126.4h0M203.2 127.2h0M260.2 132.4h0M221.4 133.4h0M152.8 154.6h0M248.1 130.3h0M170.9 131.2h0M207.1 140.1h0M191.1 135.6h0M232.8 129.1h0M172.0 132.3h0M192.7 129.0h0M266.9 134.9h0M149.4 138.1h0M187.8 136.7h0M166.8 138.4h0M205.7 125.9h0M238.5 136.2h0M246.0 127.2h0M147.6 139.7h0M164.9 155.6h0M159.9 145.3h0M223.3 148.2h0M173.2 131.3h0M245.4 138.9h0M276.3 130.9h0M261.8 132.8h0M232.2 128.5h0M214.8 138.4h0M247.2 132.6h0M178.0 131.0h0M146.9 148.3h0M149.6 146.2h0M197.0 140.3h0M261.6 127.2h0M195.7 138.6h0M170.6 134.1h0M239.8 148.0h0M256.9 135.0h0M163.4 138.0h0M234.9 140.4h0M190.6 130.4h0M200.7 138.3h0M156.1 138.4h0M181.4 134.2h0M146.9 148.9h0M206.2 133.0h0M211.2 130.0h0M162.9 144.8h0M126.6 156.9h0M225.4 132.9h0M192.3 138.2h0M258.5 137.5h0M233.5 129.3h0M143.8 139.8h0M260.1 127.6h0M268.8 126.6h0M227.1 127.8h0M203.0 131.1h0M194.4 135.2h0M229.7 126.0h0M206.8 132.1h0M145.6 143.0h0M178.3 153.2h0M198.4 128.5h0M200.1 151.0h0M185.8 133.1h0M229.7 143.1h0M149.9 140.1h0M244.0 127.2h0M265.3 126.4h0M238.7 134.9h0M239.5 142.8h0M252.3 125.2h0M199.0 133.0h0M234.9 129.7h0M255.3 141.1h0M175.8 139.3h0M167.7 131.1h0M168.6 149.5h0M264.2 134.7h0M206.7 127.6h0M207.6 129.3h0M202.7 128.0h0M268.2 140.1h0M176.4 137.3h0M256.4 130.7h0M263.3 126.1h0M243.4 130.9h0M267.2 125.1h0M222.3 131.6h0M167.5 146.5h0M158.1 153.7h0M177.5 153.2h0M166.5 147.7h0M130.9 149.8h0M237.7 128.3h0M173.9 148.8h0M233.6 128.3h0M140.8 144.3h0M215.2 126.2h0M180.9 131.3h0M220.5 131.2h0M202.7 136.7h0M179.9 131.3h0M183.7 150.8h0M134.0 154.1h0M211.8 136.9h0M273.7 134.7h0M153.8 143.0h0M176.1 152.6h0M251.7 127.1h0M268.8 140.5h0M250.6 140.3h0M160.9 157.0h0M151.7 147.2h0M264.1 126.7h0M248.5 131.8h0M271.2 129.0h0M148.6 141.1h0M183.7 132.2h0M152.4 146.4h0M267.5 129.2h0M198.2 142.5h0M212.4 136.6h0M202.6 139.4h0M154.9 136.3h0M145.5 143.0h0M208.0 126.0h0M177.3 149.6h0M273.3 128.0h0M140.2 161.2h0M151.9 147.9h0M192.3 138.6h0M251.3 133.9h0M128.3 152.8h0M197.8 149.7h0M189.7 151.1h0M154.8 141.1h0M241.1 128.8h0M210.3 144.4h0M251.8 128.8h0M134.8 145.6h0M242.6 127.3h0M236.2 134.0h0M228.9 127.8h0M204.9 145.4h0M235.9 131.3h0M224.1 131.0h0M235.2 135.8h0M196.6 149.3h0M239.2 145.2h0M159.8 137.0h0M245.1 127.0h0M253.7 128.7h0M261.3 133.8h0M139.4 142.4h0M228.0 146.3h0M250.6 141.9h0M131.8 149.0h0M244.2 141.1h0M262.9 141.4h0M244.7 132.2h0M178.7 150.4h0M180.0 133.5h0M204.5 134.7h0M247.5 134.7h0M263.6 133.8h0M253.1 129.7h0M153.6 138.9h0M201.3 133.4h0M183.7 135.7h0M144.8 149.1h0M253.2 128.4h0M197.4 137.2h0M259.5 139.8h0M236.9 136.6h0M139.6 147.4h0M138.4 159.6h0M221.1 147.3h0M203.0 130.5h0M227.4 143.6h0M205.2 148.2h0M266.5 124.8h0M258.0 145.5h0M247.0 130.5h0M220.2 131.5h0M258.8 129.5h0M275.8 128.2h0M255.4 126.7h0M187.7 139.5h0M220.3 128.6h0M262.2 133.3h0M180.5 134.8h0M133.3 151.3h0M157.3 150.1h0M235.3 126.8h0M213.1 148.2h0M200.6 129.5h0M199.4 136.6h0M179.9 131.7h0M271.0 128.1h0M236.3 132.9h0M232.0 127.7h0M264.7 130.9h0M254.7 126.1h0M236.3 132.0h0M228.2 129.7h0M189.2 136.0h0M164.3 140.6h0M174.7 150.2h0M150.5 156.8h0M148.4 147.0h0M206.6 140.8h0M169.9 140.6h0M260.4 133.8h0M221.8 126.8h0M222.5 139.9h0M253.8 129.0h0M248.4 131.5h0M138.5 162.4h0M272.0 128.4h0M259.6 133.2h0M256.0 140.1h0M185.9 146.4h0M187.7 130.6h0M271.5 129.9h0M161.8 148.7h0M198.6 140.5h0M247.5 142.9h0M186.8 131.4h0M268.8 132.0h0M240.2 128.0h0M221.3 140.6h0M240.8 128.0h0M228.1 142.7h0M190.8 143.2h0M224.2 129.1h0M266.8 126.1h0M229.0 131.8h0M273.5 125.2h0M191.1 127.4h0M139.0 158.5h0M174.4 133.1h0M215.8 135.0h0M153.2 153.1h0M162.1 152.2h0M241.3 127.2h0M212.1 130.2h0M145.6 145.9h0M277.9 132.0h0M162.7 144.6h0M256.8 129.7h0M164.3 137.1h0M220.8 143.8h0M213.1 129.1h0M259.3 130.9h0M166.2 140.2h0M192.1 129.3h0M257.8 126.6h0M204.1 142.3h0M225.8 144.4h0M253.4 134.0h0M175.9 143.5h0M186.6 132.2h0M270.2 128.9h0M251.8 127.5h0M178.2 133.3h0M261.2 133.5h0M207.6 141.0h0M210.5 135.6h0M158.9 142.6h0M190.8 133.7h0M165.4 134.3h0M245.6 126.1h0M158.1 142.6h0M160.1 157.2h0M171.7 143.2h0M143.0 154.0h0M213.8 128.6h0M253.0 130.9h0M159.9 153.7h0M276.3 127.0h0M175.8 131.4h0M180.0 130.4h0M164.7 137.9h0M175.0 148.8h0M171.1 132.4h0M221.5 128.4h0M244.9 126.9h0M238.3 146.5h0M224.3 138.9h0M234.2 129.0h0M221.4 127.7h0M138.9 141.6h0M230.3 148.4h0M153.5 146.6h0M232.5 135.0h0M138.6 156.9h0M225.7 139.7h0M137.2 155.9h0M235.4 126.9h0M137.6 145.1h0M242.4 138.1h0M170.8 149.9h0M170.9 143.8h0M221.9 136.4h0M167.3 151.1h0M184.0 130.0h0M265.4 121.4h0M238.8 142.4h0M219.0 142.3h0M227.2 141.2h0M235.1 138.6h0M185.9 136.2h0M275.9 128.1h0M234.0 125.8h0M159.7 153.7h0M239.1 125.8h0M163.3 141.7h0M220.8 128.5h0M134.6 151.4h0M219.7 146.5h0M205.1 135.3h0M234.3 136.0h0M153.0 152.1h0M174.5 152.9h0M248.9 131.1h0M214.0 127.9h0M193.8 147.4h0M236.3 141.3h0M174.2 139.9h0M249.4 146.3h0M242.0 139.6h0M149.4 151.5h0M145.9 141.2h0M270.9 134.4h0M216.1 126.7h0M268.6 125.5h0M266.4 128.8h0M215.6 149.8h0M273.8 126.5h0M162.2 135.2h0M215.5 131.5h0M218.3 124.7h0M252.1 127.2h0M163.6 135.3h0M251.5 126.5h0M214.5 145.3h0M197.8 144.6h0M246.5 140.8h0M221.4 133.9h0M223.5 133.8h0M202.5 151.4h0M275.5 132.7h0M244.0 141.2h0M221.9 129.6h0M171.0 141.6h0M142.7 154.6h0M256.7 127.9h0M260.1 128.7h0M190.0 151.0h0M244.8 128.8h0M214.3 131.6h0M268.5 134.3h0M243.0 134.7h0M232.5 129.2h0M159.6 158.0h0M219.8 124.8h0M216.9 133.3h0M273.3 135.6h0M197.5 129.7h0M216.5 135.4h0M181.0 153.6h0M204.3 132.1h0M194.0 133.1h0M208.2 145.9h0M217.4 127.5h0M221.3 127.8h0M264.7 132.1h0M237.0 138.0h0M157.3 140.9h0M257.4 131.3h0M240.3 128.9h0M213.7 131.1h0M249.0 125.7h0M236.3 143.0h0M199.9 139.5h0M173.0 131.7h0M278.6 124.9h0M200.2 126.0h0M267.8 125.0h0M199.8 129.2h0M224.7 124.4h0M233.6 125.2h0M235.5 134.3h0M164.7 140.7h0M240.9 143.2h0M194.2 128.9h0M193.1 152.2h0M228.8 143.6h0M222.0 126.6h0M163.5 138.3h0M255.1 131.3h0M137.2 145.3h0M273.2 127.4h0M158.6 141.5h0M255.0 125.1h0M199.2 128.4h0M267.0 139.3h0M256.1 131.3h0M150.8 148.3h0M170.3 151.6h0M165.4 145.2h0M242.3 128.4h0M192.7 132.4h0M210.5 148.5h0M132.1 149.5h0M251.9 139.4h0M184.4 130.9h0M144.0 157.6h0M199.4 136.2h0M262.5 137.6h0M253.0 123.8h0M151.9 151.7h0M181.9 132.8h0M250.3 138.0h0M162.4 138.6h0M152.5 135.0h0M256.2 137.9h0M180.8 134.5h0M142.6 141.3h0M239.7 126.8h0M173.9 143.6h0M232.7 128.8h0M249.7 128.7h0M189.1 134.8h0M214.1 129.9h0M181.3 129.1h0M227.8 146.9h0M159.7 156.3h0M225.7 142.8h0M273.4 129.6h0M162.6 140.3h0M247.1 127.3h0M272.1 127.4h0M205.1 130.2h0M153.5 139.5h0M258.3 126.7h0M212.0 125.7h0M265.8 142.9h0M215.5 131.6h0M245.2 140.5h0M223.2 127.7h0M252.7 124.7h0M213.1 132.7h0M243.5 135.8h0M237.8 129.4h0M149.1 138.7h0M238.8 128.7h0M213.6 128.4h0M171.7 133.9h0M227.6 141.4h0M168.7 148.6h0M171.3 133.0h0M205.0 151.5h0M243.8 136.8h0M211.1 150.6h0M228.2 132.7h0M239.7 124.9h0M197.9 136.9h0M266.8 132.3h0M236.3 130.4h0M218.2 129.5h0M255.1 138.5h0M239.3 133.7h0M256.6 128.7h0M189.1 132.2h0M214.8 126.8h0M250.6 140.6h0M168.9 155.6h0M233.8 136.2h0M222.6 129.3h0M197.7 129.1h0M237.0 141.3h0M219.4 135.7h0M231.6 134.1h0M167.5 136.5h0M187.0 131.0h0M158.7 142.7h0M216.5 149.8h0M167.9 133.9h0M256.0 138.6h0M188.3 139.5h0M136.7 158.6h0M217.9 129.8h0M171.4 144.8h0M142.3 143.2h0M187.4 141.1h0M139.9 146.3h0M250.6 135.8h0M201.0 140.0h0M194.9 136.0h0M211.2 127.5h0M196.8 131.1h0M228.4 129.1h0M269.5 129.9h0M226.5 142.9h0M194.3 151.8h0M154.6 158.3h0M191.3 136.4h0M158.5 155.8h0M218.7 138.9h0M232.0 137.6h0M140.3 147.4h0M233.3 147.3h0M270.0 125.9h0M150.3 147.2h0M272.0 127.7h0M214.6 143.9h0M166.4 134.8h0M193.0 137.1h0M158.6 141.2h0M255.5 134.0h0M187.8 132.8h0M241.7 129.0h0M249.4 144.0h0M260.5 127.3h0M221.7 146.2h0M179.8 141.7h0M186.4 131.9h0M193.2 148.3h0M264.8 139.6h0M167.5 152.7h0M181.2 130.5h0M242.8 132.6h0M130.6 150.3h0M215.1 133.8h0M173.5 145.8h0M250.4 127.1h0M146.0 143.9h0M205.4 149.1h0M240.8 132.1h0M143.9 160.4h0M230.0 146.7h0M225.4 129.7h0M258.5 126.2h0M209.5 130.5h0M202.3 144.9h0M258.7 142.0h0M137.3 146.0h0M160.8 155.9h0M202.3 134.5h0M238.2 144.4h0M233.7 130.3h0M212.5 130.4h0M233.1 141.8h0M263.4 140.0h0M182.8 141.8h0M155.1 139.7h0M245.3 137.0h0M215.8 149.0h0M258.7 133.1h0M157.9 137.6h0M192.4 143.3h0M190.2 135.6h0M178.7 143.2h0M247.9 147.6h0M269.8 122.1h0M213.1 126.4h0M195.6 135.5h0M261.6 124.2h0M212.4 136.2h0M199.8 127.1h0M247.7 129.9h0M261.8 137.3h0M266.8 127.2h0M204.4 142.3h0M143.8 149.7h0M220.4 130.3h0M262.5 133.2h0M259.7 130.7h0M280.2 129.5h0M256.1 135.8h0M219.3 130.4h0M171.4 134.4h0M188.2 139.7h0M234.3 143.5h0M189.2 147.8h0M208.6 133.5h0M262.8 134.4h0M209.4 136.2h0M149.7 158.8h0M209.3 124.3h0M166.3 135.0h0M192.7 132.2h0M257.0 133.3h0M243.6 136.3h0M230.7 129.3h0M172.7 134.9h0M254.2 129.5h0M269.7 136.6h0M260.0 137.5h0M164.0 156.9h0M168.8 140.9h0M202.3 144.2h0M232.2 143.0h0M192.6 144.2h0M234.4 148.4h0M213.9 142.0h0M240.0 133.5h0M151.8 141.2h0M238.3 130.0h0M206.2 144.0h0M217.8 129.2h0M237.7 134.3h0M189.7 136.4h0M222.6 140.9h0M192.3 141.6h0M255.0 136.1h0M195.4 134.9h0M168.1 153.2h0M224.0 131.5h0M152.8 136.5h0M198.1 131.7h0M258.8 126.4h0M166.9 135.0h0M169.2 138.7h0M270.6 132.4h0M204.3 127.8h0M215.9 130.1h0M181.9 131.2h0M272.2 133.6h0M208.0 148.5h0M248.3 146.8h0M227.6 130.4h0M168.6 137.4h0M222.0 134.9h0M223.8 137.0h0M218.9 136.5h0M151.3 142.7h0M217.2 132.0h0M127.6 151.5h0M193.1 132.4h0M222.5 136.1h0M251.0 140.2h0M185.8 145.0h0M263.3 139.8h0M177.2 134.8h0M153.8 145.5h0M149.0 148.0h0M263.8 140.4h0M183.8 131.1h0M212.4 139.3h0M269.1 138.4h0M251.3 128.8h0M280.6 127.5h0M252.0 140.0h0M169.3 136.6h0M137.5 146.9h0M210.2 129.4h0M258.3 129.5h0M225.9 131.3h0M207.1 136.2h0M144.7 147.2h0M258.1 143.9h0M211.1 130.8h0M250.8 127.7h0M222.4 126.9h0M202.1 150.0h0M277.9 124.4h0M239.3 127.9h0M259.2 140.8h0M179.6 132.0h0M205.0 132.3h0M237.1 124.9h0M197.3 128.2h0M225.3 144.3h0M148.2 148.2h0M266.2 128.0h0M233.7 147.7h0M253.3 122.7h0M214.9 143.5h0M248.3 126.5h0M131.2 152.7h0M248.6 139.7h0M218.2 131.9h0M168.4 133.7h0M214.2 129.7h0M257.9 135.5h0M199.5 129.5h0M224.7 135.1h0M211.4 134.5h0M211.3 129.3h0M227.6 127.6h0M231.5 126.8h0M174.4 130.5h0M170.5 140.2h0M233.4 126.3h0M241.7 145.8h0M180.6 150.7h0M211.5 129.7h0M251.6 127.3h0M244.6 129.0h0M213.3 147.9h0M247.9 128.1h0M206.0 146.1h0M216.0 145.8h0M179.6 132.4h0M162.6 145.0h0M196.9 130.3h0M235.8 139.1h0M213.1 130.5h0M260.9 140.6h0M261.1 130.0h0M135.8 149.0h0M197.6 139.2h0M199.1 134.1h0M173.6 139.8h0M166.4 138.2h0M211.8 134.1h0M238.1 129.6h0M162.7 148.2h0M153.8 138.5h0M167.1 142.5h0M195.1 138.3h0M267.6 133.0h0M213.6 135.5h0M232.9 134.8h0M207.9 124.3h0M176.6 148.2h0M270.1 128.3h0M220.8 130.6h0M243.2 131.7h0M210.7 126.8h0M223.7 125.5h0M236.4 128.4h0M213.1 126.1h0M187.0 140.2h0M145.8 150.8h0M231.8 141.4h0M176.6 140.2h0M185.8 135.3h0M249.7 147.2h0M144.3 145.2h0M263.9 130.6h0M227.9 129.4h0M230.2 141.6h0M184.6 152.3h0M173.5 138.8h0M166.5 141.7h0M187.2 135.5h0M217.9 135.6h0M244.8 131.6h0M204.0 136.3h0M134.9 157.1h0M157.1 138.7h0M222.1 144.3h0M229.4 134.0h0M153.5 143.4h0M255.5 134.8h0M235.4 130.4h0M130.6 149.2h0M232.8 139.5h0M254.6 136.7h0M273.3 128.4h0M252.8 129.7h0M206.8 136.0h0M244.2 132.2h0M203.7 149.1h0M252.8 130.8h0M160.8 147.1h0M222.4 139.3h0M249.1 126.2h0M236.7 131.1h0M218.0 129.5h0M167.3 137.3h0M206.3 130.1h0M222.6 143.3h0M157.2 152.7h0M231.4 144.2h0M168.5 143.6h0M216.5 139.8h0M162.5 140.7h0M194.6 135.3h0M140.0 157.3h0M221.1 130.8h0M224.3 149.9h0M274.6 129.8h0M234.9 130.8h0M218.8 134.6h0M169.7 152.0h0M210.1 127.5h0M174.1 154.0h0M224.2 136.5h0M169.2 131.8h0M228.0 131.0h0M255.7 127.7h0M195.9 133.9h0M262.2 124.1h0M189.6 148.9h0M272.6 128.1h0M267.0 132.1h0M249.9 140.2h0M167.7 153.0h0M131.2 152.4h0M210.0 125.4h0M222.4 127.6h0M189.0 135.2h0M204.0 139.6h0M229.2 148.3h0M188.2 141.0h0M232.2 144.1h0M255.0 135.5h0M141.0 146.2h0M157.0 140.5h0M220.7 129.2h0M258.2 137.0h0M182.1 148.3h0M245.7 128.9h0M153.2 144.1h0M224.1 138.8h0M275.0 131.0h0M239.6 137.6h0M136.9 146.7h0M229.5 128.4h0M145.9 139.8h0M178.2 135.0h0M164.7 156.0h0M252.4 127.1h0M134.0 154.7h0M160.0 139.7h0M160.6 136.1h0M175.1 149.2h0M142.2 157.9h0M142.3 143.6h0M226.0 130.2h0M189.9 144.5h0M272.0 128.7h0M159.5 156.1h0M244.0 138.8h0M262.1 126.2h0M177.0 136.2h0M170.9 134.2h0M196.2 143.9h0M199.7 138.9h0M183.4 134.6h0M259.3 139.3h0M189.5 149.3h0M228.1 134.9h0M197.9 149.5h0M244.3 145.6h0M246.1 134.5h0M175.8 150.6h0M234.6 148.5h0M134.7 146.3h0M237.6 143.7h0M244.3 131.1h0M238.4 142.2h0M273.0 127.8h0M247.8 146.4h0M261.6 127.9h0M184.9 137.9h0M243.8 135.5h0M254.6 123.7h0M172.7 131.5h0M136.4 146.1h0M231.1 148.6h0M183.2 133.7h0M201.9 131.3h0M180.5 143.9h0M139.9 149.4h0M250.2 136.9h0M220.0 136.0h0M210.2 139.4h0M245.5 128.2h0M263.9 124.6h0M181.4 137.9h0M150.7 142.5h0M204.4 134.9h0M259.3 125.7h0M266.3 136.3h0M157.8 153.0h0M228.4 127.2h0M211.4 130.6h0M221.8 135.2h0M195.4 137.0h0M269.7 126.8h0M189.6 138.8h0M186.9 130.6h0M255.3 140.3h0M141.9 148.9h0M260.4 141.8h0M165.4 134.0h0M254.7 124.2h0M143.7 144.7h0M173.3 136.5h0M242.7 129.6h0M166.9 134.3h0M163.6 136.3h0M181.5 130.7h0M213.5 140.2h0M146.6 145.8h0M236.5 126.5h0M196.7 128.2h0M275.7 127.9h0M231.5 129.6h0M271.4 126.8h0M234.1 137.7h0M188.6 145.3h0M148.5 135.5h0M222.4 147.6h0M156.3 138.1h0M245.2 130.4h0M192.7 128.8h0M218.1 135.5h0M232.1 124.5h0M156.1 140.6h0M233.6 127.3h0M230.9 146.2h0M180.3 130.0h0M189.6 142.2h0M256.6 139.2h0M220.2 126.1h0M186.0 129.4h0M275.8 127.6h0M268.2 136.7h0M271.2 137.3h0M194.0 134.2h0M235.5 128.3h0M222.6 138.3h0M188.4 150.5h0M192.2 144.5h0M250.4 132.4h0M231.1 128.1h0M141.4 154.4h0M256.3 135.4h0M149.2 142.5h0M183.2 139.6h0M223.9 129.2h0M189.8 133.7h0M227.1 142.4h0M243.2 136.9h0M240.6 142.2h0M216.2 133.3h0M153.4 139.6h0M183.7 139.9h0M219.1 129.8h0M260.3 131.1h0M126.3 155.5h0M147.0 146.0h0M212.8 135.6h0M245.9 139.6h0M267.3 140.5h0M167.7 147.2h0M212.2 139.0h0M220.5 128.8h0M210.8 132.3h0M254.2 137.1h0M156.1 147.8h0M247.9 128.3h0M216.4 144.3h0M151.6 142.7h0M186.4 130.4h0M207.4 150.2h0M240.3 130.6h0M167.0 155.4h0M208.2 145.8h0M234.5 126.7h0M142.5 157.0h0M159.8 138.3h0M267.3 125.9h0M259.2 126.7h0M222.6 130.1h0M246.5 125.1h0M197.0 129.5h0M251.7 126.1h0M247.9 125.4h0M252.9 135.6h0M265.4 136.8h0M258.1 126.3h0M271.0 138.1h0M200.1 136.9h0M228.8 128.8h0M158.0 149.0h0M227.3 142.2h0M263.1 137.0h0M265.9 125.2h0M236.2 148.5h0M250.3 129.3h0M205.8 133.4h0M205.4 144.8h0M177.5 147.9h0M245.5 127.6h0M252.8 137.7h0M253.5 126.6h0M153.8 147.2h0M222.9 144.1h0M265.0 134.6h0M173.2 152.0h0M155.3 155.0h0M232.1 132.5h0M149.1 140.9h0M274.9 124.6h0M265.9 128.6h0M148.6 144.4h0M252.6 143.6h0M262.1 143.5h0M260.0 126.1h0M215.4 127.4h0M218.7 128.5h0M223.3 130.9h0M248.8 126.2h0M235.7 142.8h0M198.8 132.5h0M178.9 146.3h0M230.0 141.6h0M253.8 133.5h0M205.3 127.9h0M204.5 129.4h0M199.5 141.9h0M190.2 129.0h0M258.3 124.2h0M267.0 126.9h0M214.7 125.8h0M147.9 149.7h0M189.1 149.0h0M222.5 137.7h0M179.2 131.3h0M161.6 136.8h0M254.1 136.5h0M144.3 143.2h0M214.4 127.3h0M141.7 154.5h0M145.8 146.2h0M260.3 128.1h0M253.6 145.0h0M145.1 144.7h0M214.9 129.6h0M248.3 128.2h0M256.8 127.5h0M165.9 138.0h0M177.0 133.5h0M224.3 126.1h0M271.0 136.6h0M133.4 150.7h0M209.9 132.9h0M162.6 146.1h0M253.1 127.2h0M271.9 132.8h0M277.9 129.3h0M214.2 143.5h0M237.9 138.2h0M259.7 140.8h0M239.7 142.7h0M230.2 126.9h0M253.0 129.4h0M189.8 140.4h0M171.6 143.8h0M185.7 129.5h0M151.5 141.4h0M204.5 148.6h0M234.7 141.2h0M189.7 144.3h0M215.0 138.0h0M209.2 130.3h0M229.0 129.6h0M242.1 135.9h0M176.9 155.4h0M266.8 133.7h0M176.7 129.3h0M222.8 143.0h0M210.1 144.7h0M230.0 130.7h0M267.9 126.3h0M261.7 136.9h0M248.3 133.1h0M214.1 134.7h0M217.7 125.9h0M248.7 135.2h0M192.8 130.7h0M213.7 126.8h0M158.2 136.2h0M194.8 138.6h0M232.9 144.8h0M211.2 131.8h0M192.8 127.7h0M172.8 151.4h0M268.7 135.9h0M154.8 139.0h0M241.4 130.9h0M206.6 128.2h0M213.7 141.4h0M218.5 131.0h0M261.4 137.5h0M178.3 132.4h0M215.2 127.9h0M233.8 137.1h0M262.1 126.1h0M184.3 130.4h0M152.5 141.3h0M182.4 134.5h0M231.0 134.9h0M165.5 138.4h0M277.1 124.9h0M207.8 130.6h0M222.6 136.6h0M204.2 125.5h0M301.4 136.1h0M279.6 127.6h0M292.6 130.0h0M271.5 144.9h0M296.4 146.6h0M274.9 132.6h0M266.1 131.5h0M274.8 134.9h0M274.5 139.8h0M285.3 146.6h0M306.2 129.4h0M286.6 144.5h0M280.7 125.6h0M284.0 133.6h0M310.7 133.9h0M312.5 129.0h0M271.9 129.9h0M310.0 146.6h0M309.2 147.9h0M296.6 131.2h0M275.3 138.2h0M307.9 140.5h0M277.2 132.5h0M266.5 130.7h0M311.8 135.1h0M298.0 140.1h0M312.2 136.8h0M298.0 137.2h0M116.4 183.3h0M116.9 183.6h0M123.2 175.8h0M120.3 178.8h0M120.1 185.6h0M115.3 176.5h0M257.7 161.1h0M150.0 174.3h0M179.8 162.7h0M204.8 157.6h0M161.8 178.2h0M206.7 160.5h0M259.7 156.5h0M194.5 167.7h0M200.5 162.0h0M238.1 171.2h0M188.5 169.1h0M165.6 169.8h0M254.5 149.6h0M259.2 155.2h0M171.2 158.0h0M227.1 163.9h0M175.8 165.7h0M182.7 173.4h0M231.4 166.3h0M225.1 170.7h0M154.5 177.8h0M246.1 158.0h0M261.9 150.0h0M232.5 159.7h0M230.8 153.9h0M248.5 164.6h0M184.5 162.5h0M257.7 148.5h0M156.5 176.6h0M226.4 169.9h0M205.0 162.4h0M237.6 164.4h0M261.0 148.9h0M218.1 163.3h0M173.8 166.0h0M133.9 162.2h0M127.4 155.2h0M132.1 156.4h0M122.4 161.8h0M131.0 150.9h0M116.4 178.3h0M132.4 152.7h0M120.8 170.3h0M130.2 160.3h0M126.2 166.9h0M131.7 155.4h0M129.0 156.7h0M126.2 154.8h0M127.6 168.4h0M134.6 150.0h0M128.9 166.4h0M114.1 190.5h0M119.6 170.6h0M123.0 163.4h0M128.6 153.0h0M132.6 149.9h0M133.2 162.3h0M126.2 167.6h0M119.6 167.4h0M128.4 153.4h0M128.3 152.9h0" stroke="#2166ac" stroke-width="1.70" stroke-linecap="round" fill="none"/>
<polygon points="113.0,264.6 114.0,264.9 115.0,265.2 116.0,265.8 117.0,266.5 118.0,267.1 119.0,267.8 120.0,268.4 121.0,269.7 122.0,271.0 123.0,272.3 124.0,273.6 125.0,274.9 126.0,275.8 127.0,276.8 128.0,277.7 129.0,278.7 130.0,279.6 131.0,281.2 132.0,282.8 133.0,284.4 134.0,286.0 135.0,287.6 136.0,289.0 137.0,290.4 138.0,291.8 139.0,293.2 140.0,294.6 141.0,296.2 142.0,297.8 143.0,299.4 144.0,301.0 145.0,302.6 146.0,304.0 147.0,305.4 148.0,306.8 149.0,308.2 150.0,309.6 151.0,310.1 152.0,310.6 153.0,311.1 154.0,311.6 155.0,312.1 156.0,309.6 157.0,310.1 158.0,310.6 159.0,311.1 160.0,311.6 161.0,311.9 162.0,312.1 163.0,312.4 164.0,312.6 165.0,312.9 166.0,313.1 167.0,313.4 168.0,313.6 169.0,313.9 170.0,314.1 171.0,314.3 172.0,314.5 173.0,314.7 174.0,314.9 175.0,315.1 176.0,315.3 177.0,315.5 178.0,315.7 179.0,315.9 180.0,316.1 181.0,316.2 182.0,316.4 183.0,316.6 184.0,316.7 185.0,316.9 186.0,317.0 187.0,317.2 188.0,317.3 189.0,317.5 190.0,317.6 191.0,317.8 192.0,317.9 193.0,318.1 194.0,318.2 195.0,318.4 196.0,318.5 197.0,318.7 198.0,318.8 199.0,319.0 200.0,319.1 201.0,319.2 202.0,319.3 203.0,319.4 204.0,319.5 205.0,319.6 206.0,319.7 207.0,319.8 208.0,319.9 209.0,320.0 210.0,320.1 211.0,320.2 212.0,320.3 213.0,320.4 214.0,320.5 215.0,320.6 216.0,320.7 217.0,320.8 218.0,320.9 219.0,321.0 220.0,321.1 221.0,321.2 222.0,321.3 223.0,321.4 224.0,321.5 225.0,321.6 226.0,321.7 227.0,321.8 228.0,321.9 229.0,322.0 230.0,322.1 231.0,322.2 232.0,322.3 233.0,322.4 234.0,322.5 235.0,322.6 236.0,322.7 237.0,322.8 238.0,322.9 239.0,323.0 240.0,323.1 241.0,323.2 242.0,323.2 243.0,323.3 244.0,323.4 245.0,323.4 246.0,323.5 247.0,323.6 248.0,323.6 249.0,323.7 250.0,324.0 251.0,324.4 252.0,324.7 253.0,325.0 254.0,325.3 255.0,325.7 256.0,326.0 257.0,326.3 258.0,326.6 259.0,326.9 260.0,327.3 261.0,327.6 262.0,327.9 263.0,328.2 263.0,340.3 262.0,340.6 261.0,340.8 260.0,341.1 259.0,341.4 258.0,341.7 257.0,341.9 256.0,342.2 255.0,342.5 254.0,342.8 253.0,343.0 252.0,343.3 251.0,343.6 250.0,343.9 249.0,344.2 248.0,344.2 247.0,344.2 246.0,344.3 245.0,344.3 244.0,344.3 243.0,344.3 242.0,344.4 241.0,344.4 240.0,344.4 239.0,344.4 238.0,344.4 237.0,344.5 236.0,344.5 235.0,344.5 234.0,344.5 233.0,344.6 232.0,344.6 231.0,344.6 230.0,344.6 229.0,344.7 228.0,344.7 227.0,344.7 226.0,344.8 225.0,344.8 224.0,344.8 223.0,344.8 222.0,344.8 221.0,344.9 220.0,344.9 219.0,345.0 218.0,345.0 217.0,345.1 216.0,345.2 215.0,345.3 214.0,345.3 213.0,345.4 212.0,345.5 211.0,345.6 210.0,345.6 209.0,345.7 208.0,345.8 207.0,345.9 206.0,345.9 205.0,346.0 204.0,346.1 203.0,346.2 202.0,346.2 201.0,346.3 200.0,346.4 199.0,346.5 198.0,346.7 197.0,346.8 196.0,347.0 195.0,347.1 194.0,347.3 193.0,347.4 192.0,347.6 191.0,347.8 190.0,347.9 189.0,348.1 188.0,348.3 187.0,348.5 186.0,348.7 185.0,348.9 184.0,349.1 183.0,349.3 182.0,349.5 181.0,349.7 180.0,349.9 179.0,350.1 178.0,350.4 177.0,350.6 176.0,350.9 175.0,351.1 174.0,351.4 173.0,351.6 172.0,351.9 171.0,352.1 170.0,352.4 169.0,352.7 168.0,353.0 167.0,353.3 166.0,353.6 165.0,353.9 164.0,354.2 163.0,354.5 162.0,354.8 161.0,355.1 160.0,355.4 159.0,355.8 158.0,356.2 157.0,356.6 156.0,357.0 155.0,354.4 154.0,354.8 153.0,355.2 152.0,355.6 151.0,356.0 150.0,356.4 149.0,357.1 148.0,357.8 147.0,358.4 146.0,359.1 145.0,359.8 144.0,360.5 143.0,361.2 142.0,362.0 141.0,362.7 140.0,363.4 139.0,364.2 138.0,365.0 137.0,365.8 136.0,366.6 135.0,367.4 134.0,368.4 133.0,369.4 132.0,370.4 131.0,371.4 130.0,372.4 129.0,373.4 128.0,374.4 127.0,375.4 126.0,376.4 125.0,377.4 124.0,378.8 123.0,380.2 122.0,381.6 121.0,383.0 120.0,384.4 119.0,385.8 118.0,387.2 117.0,388.6 116.0,390.0 115.0,391.4 114.0,392.9 113.0,394.4" fill="#d3d3d3"/>
<path d="M256.7 330.2h0M140.6 295.6h0M210.7 323.1h0M256.9 326.1h0M203.2 342.9h0M219.2 321.3h0M245.2 341.6h0M240.5 342.6h0M253.7 343.0h0M217.8 342.4h0M151.8 355.6h0M256.2 343.3h0M134.3 368.3h0M120.4 383.9h0M117.8 386.8h0M174.4 348.8h0M250.5 325.3h0M157.6 354.9h0M194.5 320.1h0M126.2 375.7h0M166.4 313.7h0M255.8 343.0h0M173.1 317.6h0M195.0 320.4h0M162.2 314.7h0M193.3 345.3h0M210.1 322.4h0M174.6 348.5h0M251.2 326.9h0M191.6 344.3h0M261.7 339.9h0M209.5 322.7h0M230.6 340.4h0M115.7 389.5h0M208.2 323.0h0M178.2 319.5h0M119.3 385.7h0M145.5 303.0h0M242.9 325.6h0M183.5 319.5h0M164.6 353.3h0M118.7 266.1h0M240.3 325.9h0M170.4 351.0h0M220.7 323.6h0M152.9 311.2h0M212.9 323.9h0M121.5 268.9h0M203.5 321.6h0M227.9 324.3h0M207.8 343.8h0M193.2 319.9h0M164.3 351.8h0M170.0 349.9h0M139.3 365.5h0M167.3 350.0h0M189.9 319.9h0M238.8 342.6h0M217.5 343.3h0M173.9 348.9h0M227.3 323.9h0M137.3 289.6h0M170.0 313.9h0M135.9 367.0h0M242.7 340.3h0M116.3 389.9h0M216.0 343.0h0M123.0 271.3h0M188.7 346.6h0M206.4 343.0h0M162.9 353.6h0M248.2 341.2h0M210.8 322.4h0M121.6 383.5h0M157.8 312.7h0M179.8 318.9h0M139.3 292.2h0M235.0 325.5h0M194.2 345.8h0M119.1 386.1h0M190.1 320.5h0M159.6 314.3h0M120.4 384.7h0M185.1 346.0h0M188.7 319.3h0M250.2 342.6h0M181.8 348.6h0M234.2 342.6h0M167.1 316.2h0M136.2 288.7h0M229.7 323.1h0M207.4 322.5h0M251.1 341.5h0M216.3 343.5h0M163.6 314.3h0M173.9 348.8h0M196.5 344.4h0M230.4 326.5h0M192.5 343.9h0M149.0 357.1h0M166.2 349.2h0M200.1 323.5h0M175.4 317.5h0M203.7 321.6h0M229.6 323.8h0M148.0 304.7h0M168.9 350.3h0M179.2 347.8h0M136.7 366.1h0M128.0 277.1h0M184.5 320.2h0M151.1 310.1h0M180.6 346.7h0M140.0 363.7h0M120.6 270.2h0M194.1 345.7h0M206.9 320.7h0M147.7 359.3h0M174.1 316.6h0M135.0 369.1h0M251.9 343.0h0M193.7 319.7h0M255.9 340.7h0M124.0 379.6h0M241.2 325.2h0M232.0 326.0h0M155.4 356.6h0M160.3 353.4h0M181.2 319.2h0M152.0 356.2h0M232.1 341.7h0M222.9 325.2h0M125.2 274.6h0M171.6 317.5h0M247.7 327.3h0M114.6 391.6h0M234.4 343.0h0M116.8 265.0h0M159.6 353.4h0M165.5 314.9h0M147.3 304.7h0M211.6 323.0h0M246.5 324.4h0M164.7 315.9h0M131.4 281.4h0M166.2 352.8h0M154.3 310.8h0M249.5 327.1h0M144.7 301.5h0M252.8 328.9h0M120.5 268.0h0M175.7 348.3h0M113.2 394.0h0M186.0 317.8h0M190.8 319.4h0M161.1 314.2h0M136.8 288.8h0M196.3 344.4h0M148.0 304.9h0M216.6 341.9h0M200.0 320.9h0M169.6 318.1h0M176.1 348.9h0M187.7 346.2h0M171.6 316.9h0M157.3 353.6h0M240.4 341.6h0M167.5 316.6h0M153.9 356.2h0M123.9 379.5h0M257.9 340.2h0M227.1 343.2h0M186.9 346.3h0M177.6 317.3h0M169.2 349.0h0M229.9 324.6h0M166.1 314.0h0M253.5 341.8h0M194.8 341.9h0M202.5 343.1h0M172.4 317.1h0M248.6 340.9h0M256.3 340.8h0M115.7 390.6h0M225.7 342.4h0M215.6 322.8h0M171.3 348.8h0M120.6 269.2h0M144.5 300.9h0M126.4 275.5h0M223.0 342.4h0M132.6 369.2h0M132.4 280.9h0M159.6 353.0h0M162.8 352.0h0M260.7 339.6h0M142.4 360.7h0M147.5 358.3h0M155.6 310.1h0M196.1 321.5h0M146.9 304.0h0M159.6 314.3h0M157.1 353.2h0M251.6 340.8h0M132.5 281.4h0M192.5 320.1h0M184.4 346.9h0M145.1 301.0h0M188.5 346.7h0M202.5 344.6h0M147.7 306.7h0M247.5 326.1h0M261.0 340.6h0M197.3 343.9h0M163.1 315.9h0M169.7 315.6h0M128.2 375.1h0M217.6 341.5h0M162.6 353.8h0M140.4 363.4h0M209.7 342.6h0M259.4 324.7h0M184.9 319.7h0M177.0 348.2h0M177.4 317.3h0M186.5 346.2h0M157.9 312.1h0M233.1 341.3h0M258.0 326.2h0M217.8 323.3h0M240.4 325.6h0M205.0 321.8h0M237.9 326.6h0M161.9 315.3h0M173.6 347.7h0M238.9 340.7h0M180.1 316.4h0M245.5 325.7h0M249.0 343.2h0M232.1 325.1h0M169.6 348.9h0M126.5 275.7h0M243.3 324.4h0M155.4 311.9h0M188.8 346.1h0M188.5 345.3h0M247.5 340.9h0M213.1 342.0h0M260.8 342.7h0M171.2 317.9h0M128.0 376.0h0M187.6 318.9h0M252.1 342.4h0M262.4 328.1h0M169.0 315.9h0M207.2 322.6h0M215.1 323.9h0M241.7 324.2h0M232.2 342.2h0M127.9 375.2h0M258.2 326.7h0M123.2 381.5h0M241.7 342.9h0M230.8 326.6h0M241.0 343.2h0M235.5 341.0h0M114.3 392.5h0M133.0 370.0h0M248.6 327.6h0M156.7 354.5h0M182.3 348.7h0M142.9 299.2h0M185.9 319.4h0M120.7 269.8h0M132.5 369.4h0M248.1 328.7h0M241.4 340.9h0M214.1 323.3h0M152.4 356.2h0M116.4 266.5h0M233.9 325.3h0M157.6 313.7h0M121.2 269.8h0M233.9 340.5h0M262.7 326.7h0M257.1 325.6h0M221.6 344.1h0M162.1 352.0h0M232.5 342.2h0M221.2 325.2h0M130.9 371.4h0M205.7 321.6h0M198.9 344.9h0M124.9 376.7h0M132.0 370.3h0M114.4 391.5h0M139.2 363.5h0M227.5 324.3h0M184.5 319.6h0M136.8 367.9h0M169.2 316.3h0M157.3 353.9h0M115.4 389.0h0M159.9 352.0h0M260.1 327.6h0M235.1 325.4h0M208.0 343.3h0M253.4 325.4h0M175.5 316.9h0M171.1 316.5h0M251.4 326.1h0M220.3 343.0h0M115.4 392.2h0M202.3 343.1h0M252.1 326.2h0M167.7 350.3h0M207.2 342.4h0M117.7 388.7h0M254.2 327.8h0M236.4 325.4h0M125.6 377.0h0M235.1 341.5h0M231.0 323.6h0M213.3 344.1h0M254.5 342.8h0M212.9 343.1h0M160.1 313.5h0M190.5 319.8h0M244.8 323.9h0M209.4 321.7h0M195.1 343.3h0M235.3 323.4h0M131.5 369.6h0M179.7 347.8h0M134.6 369.6h0M229.3 340.9h0M138.6 291.9h0M200.7 322.4h0M211.8 343.2h0M204.4 343.7h0M177.8 348.6h0M208.4 321.8h0M179.0 319.2h0M243.6 339.9h0M219.5 342.0h0M153.4 355.5h0M202.3 321.4h0M131.8 282.3h0M156.8 310.1h0M182.4 318.9h0M170.2 316.2h0M177.4 348.7h0M167.9 349.2h0M185.3 319.3h0M245.8 342.2h0M172.0 350.3h0M169.6 315.3h0M223.9 345.4h0M247.3 324.4h0M186.0 345.9h0M207.9 343.6h0M153.9 311.2h0M159.4 314.9h0M142.3 363.3h0M175.9 346.6h0M176.7 317.1h0M252.3 339.9h0M222.3 343.3h0M117.1 389.2h0M163.8 315.1h0M149.2 306.3h0M242.8 341.9h0M242.9 326.6h0M262.3 328.2h0M205.1 322.3h0M184.7 319.2h0M168.4 351.3h0M258.1 326.7h0M115.1 390.7h0M245.7 340.0h0M152.7 310.1h0M169.4 315.5h0M142.8 297.3h0M142.1 298.4h0M125.4 273.5h0M210.0 342.5h0M217.4 342.7h0M252.6 326.3h0M261.9 341.2h0M127.6 375.5h0M114.0 263.9h0M214.4 321.6h0M256.8 342.9h0M162.0 314.6h0M205.1 345.4h0M252.8 326.7h0M247.6 325.9h0M139.6 293.7h0M197.3 322.7h0M124.2 272.9h0M261.1 338.9h0M284.6 337.8h0M288.6 336.5h0M271.4 338.7h0M285.9 337.5h0M289.5 334.6h0M257.5 336.2h0M278.6 339.5h0M281.3 338.6h0M291.8 332.7h0M292.7 334.9h0M266.1 333.5h0M268.6 333.1h0M279.8 331.5h0M266.2 336.3h0M295.8 336.2h0M271.2 332.6h0M276.4 339.3h0M257.0 332.5h0M261.2 338.3h0M276.8 328.3h0M290.7 333.4h0M258.2 328.1h0M257.4 330.3h0M257.5 337.4h0M258.2 333.2h0M276.3 333.5h0M261.5 333.6h0M267.1 335.3h0M272.9 331.9h0M277.5 338.4h0M295.6 335.3h0M261.5 326.9h0M266.0 341.1h0M297.2 335.9h0M259.1 329.7h0M258.4 333.2h0M294.5 331.7h0M285.5 334.8h0M260.8 333.6h0M257.2 336.3h0M291.2 332.6h0M295.8 332.5h0M263.3 337.1h0M259.6 327.2h0M268.8 334.1h0M258.6 329.3h0M257.8 329.5h0M258.4 336.6h0M290.3 335.2h0M259.9 335.0h0M294.7 333.0h0M280.2 328.7h0M282.4 338.2h0M270.7 339.4h0M273.2 337.8h0M268.4 332.7h0M260.9 335.2h0M282.7 329.2h0M277.0 328.7h0M275.6 336.9h0M292.1 335.6h0M276.0 336.5h0M277.1 336.5h0M277.5 338.3h0M263.4 340.8h0M259.1 327.3h0M257.2 335.0h0M288.0 330.5h0M289.9 334.2h0M276.6 330.2h0M297.5 334.0h0M260.1 336.1h0M257.2 336.6h0M286.9 330.5h0M260.5 330.9h0M259.2 336.1h0M285.3 333.8h0M278.3 339.0h0M285.6 333.0h0M290.5 331.3h0M285.9 330.0h0M262.3 328.4h0M271.6 329.2h0M273.7 330.1h0M277.1 334.2h0M262.0 329.0h0M281.9 330.9h0M262.6 340.4h0M289.6 336.4h0M275.2 338.4h0M286.7 337.6h0M281.6 333.3h0M281.9 333.1h0M271.6 328.1h0M258.5 336.9h0M257.5 328.0h0M289.2 338.1h0M296.0 336.7h0M261.7 335.8h0M269.5 328.7h0M258.5 336.0h0M265.7 335.3h0M292.5 330.4h0M258.5 341.6h0M257.9 332.2h0M271.1 331.2h0M264.3 329.5h0M285.0 331.4h0M279.8 333.8h0M269.0 328.6h0M290.0 329.7h0M288.7 329.6h0M264.3 333.5h0M273.9 331.3h0M297.8 333.0h0M259.7 337.8h0M276.3 335.5h0M294.6 337.5h0M261.9 340.1h0M290.4 330.1h0M269.3 339.2h0M265.0 331.9h0M268.2 338.9h0M257.0 336.7h0M279.0 339.5h0M275.7 331.4h0M275.9 337.0h0M258.0 338.6h0M273.4 335.4h0M165.3 285.5h0M144.3 267.6h0M138.1 274.1h0M147.2 284.6h0M142.1 266.9h0M159.8 291.9h0M158.3 264.2h0M177.0 283.3h0M176.4 290.5h0M176.0 293.2h0M169.4 294.9h0M166.3 299.0h0M176.5 268.3h0M158.1 297.9h0M166.4 285.5h0M155.5 265.2h0M155.9 262.3h0M145.0 279.4h0M156.6 286.1h0M162.8 291.0h0M161.9 292.2h0M139.6 279.6h0M177.5 290.3h0M173.0 298.9h0M144.7 280.7h0M175.2 274.2h0M159.7 269.1h0M141.0 296.5h0M168.9 291.6h0M175.6 283.1h0M173.3 291.6h0M157.2 279.8h0M146.6 278.7h0M173.4 263.3h0M177.8 269.7h0M159.2 273.3h0M139.5 285.5h0M145.6 277.4h0M173.0 279.2h0M152.5 267.2h0M138.7 292.8h0M158.4 273.6h0M169.8 282.1h0M147.6 298.5h0M155.2 274.6h0M124.8 384.6h0M118.6 394.1h0M120.8 380.8h0M113.6 376.5h0M114.7 392.1h0M117.5 387.2h0M116.4 375.9h0M124.8 390.3h0M121.3 389.5h0M113.6 393.9h0M123.4 380.3h0M123.3 397.2h0M115.1 396.0h0M113.5 392.2h0" stroke="#d3d3d3" stroke-width="1.70" stroke-linecap="round" fill="none"/>
<path d="M274.7 324.4h0M145.6 299.3h0M171.4 309.1h0M219.4 315.3h0M146.8 300.9h0M275.7 324.4h0M197.7 311.8h0M252.6 321.8h0M196.8 314.1h0M248.9 316.4h0M227.2 313.1h0M143.0 297.5h0M196.7 319.9h0M181.0 316.9h0M142.6 297.7h0M265.4 320.8h0M174.0 308.3h0M167.8 306.6h0M250.9 316.9h0M177.3 309.0h0M246.2 321.6h0M234.5 321.5h0M149.1 305.9h0M264.5 326.6h0M260.7 322.2h0M270.6 325.0h0M168.4 313.3h0M250.0 318.1h0M233.0 320.1h0M210.4 320.5h0M244.7 323.8h0M197.5 321.6h0M181.2 316.6h0M233.0 314.9h0M151.9 300.1h0M253.2 317.1h0M186.5 308.6h0M200.8 322.7h0M149.4 301.5h0M183.3 308.9h0M174.8 316.1h0M260.0 318.4h0M229.1 319.2h0M254.0 323.1h0M219.1 320.4h0M253.2 318.0h0M241.1 323.0h0M231.9 319.2h0M240.3 315.7h0M241.3 321.7h0M172.7 311.4h0M233.6 319.0h0M234.8 321.6h0M160.7 304.4h0M252.0 326.5h0M158.8 301.7h0M249.7 319.5h0M215.4 313.0h0M209.6 314.3h0M206.2 317.2h0M216.7 321.3h0M170.5 310.6h0M245.7 325.0h0M243.5 318.5h0M184.8 310.9h0M208.5 317.0h0M197.1 314.0h0M215.0 321.9h0M202.8 316.4h0M264.5 325.6h0M150.8 306.9h0M244.8 324.0h0M179.4 313.7h0M256.9 316.2h0M144.9 301.1h0M161.7 318.5h0M184.5 312.9h0M269.0 323.9h0M207.3 311.3h0M232.3 320.6h0M191.4 308.8h0M249.2 319.5h0M176.9 313.4h0M173.0 305.3h0M240.3 324.3h0M142.8 298.6h0M182.3 308.1h0M203.3 315.5h0M177.0 311.7h0M153.8 301.5h0M233.3 319.4h0M155.5 307.2h0M163.8 304.5h0M149.3 307.1h0M246.3 322.7h0M264.6 321.1h0M171.4 304.2h0M163.3 301.5h0M180.5 314.1h0M198.2 308.8h0M264.3 323.9h0M154.0 308.4h0M214.3 314.7h0M217.8 311.2h0M212.1 316.8h0M159.9 314.4h0M169.5 310.9h0M230.5 319.9h0M181.8 307.0h0M264.9 323.5h0M161.2 304.6h0M222.0 317.2h0M259.8 316.0h0M180.6 307.4h0M218.5 312.9h0M226.3 322.4h0M267.6 325.0h0M162.5 309.0h0M156.1 306.6h0M140.9 295.4h0M149.8 302.6h0M188.6 317.3h0M196.6 311.4h0M145.6 301.7h0M200.1 316.6h0M151.8 304.6h0M199.0 312.0h0M178.5 313.6h0M171.9 306.5h0M214.1 318.4h0M260.3 321.2h0M188.6 314.9h0M166.3 306.4h0M140.2 295.6h0M238.2 321.1h0M228.7 318.4h0M256.6 320.7h0M243.7 321.5h0M204.7 310.5h0M197.2 312.8h0M152.0 304.1h0M189.6 311.3h0M182.4 308.4h0M235.3 320.8h0M203.9 317.5h0M260.9 318.4h0M153.0 311.1h0M187.6 313.2h0M223.7 320.7h0M211.4 315.6h0M192.0 312.4h0M220.2 318.3h0M186.3 311.1h0M145.4 300.9h0M217.2 323.0h0M167.5 312.8h0M236.7 320.8h0M257.5 319.2h0M218.6 317.6h0M266.5 323.3h0M190.4 316.9h0M220.9 314.1h0M182.5 317.5h0M206.0 312.7h0M246.7 324.9h0M192.4 309.7h0M222.5 317.0h0M228.1 322.1h0M167.4 308.3h0M184.4 307.6h0M211.9 320.6h0M265.3 322.7h0M164.1 310.2h0M197.8 312.0h0M251.9 316.7h0M194.0 319.0h0M229.9 312.5h0M165.4 315.0h0M243.6 317.6h0M158.3 310.9h0M148.6 304.8h0M144.8 298.1h0M176.0 311.6h0M146.9 300.0h0M179.8 315.4h0M153.2 306.5h0M227.7 311.5h0M225.3 322.3h0M222.1 317.6h0M220.0 317.4h0M185.9 314.9h0M261.3 319.7h0M223.7 316.7h0M171.3 315.4h0M233.4 322.1h0M236.8 319.3h0M251.9 324.0h0M151.8 299.2h0M262.0 319.1h0M164.5 307.7h0M208.3 314.8h0M190.2 316.8h0M159.0 308.2h0M240.7 316.2h0M168.8 315.1h0M218.6 324.9h0M204.5 313.8h0M181.9 306.7h0M185.1 312.3h0M253.5 324.4h0M250.4 318.9h0M152.1 308.9h0M200.6 314.6h0M190.0 311.3h0M174.3 311.1h0M257.5 322.1h0M256.0 323.0h0M183.1 317.3h0M166.9 312.3h0M142.9 296.4h0M198.2 312.1h0M250.4 316.3h0M265.0 322.6h0M186.0 308.5h0M236.2 325.7h0M234.8 318.9h0M258.7 317.6h0M209.3 322.0h0M247.1 320.3h0M160.6 305.9h0M222.5 312.3h0M211.9 318.1h0M178.0 317.6h0M194.8 316.9h0M233.7 324.0h0M271.2 323.1h0M173.6 315.9h0M244.3 324.4h0M253.7 324.5h0M172.8 305.7h0M225.8 313.8h0M253.5 324.5h0M180.9 311.6h0M232.0 320.0h0M209.2 318.3h0M143.0 296.2h0M229.6 316.9h0M201.6 318.6h0M164.6 305.6h0M169.0 310.3h0M191.2 315.9h0M183.8 311.7h0M242.3 316.0h0M215.4 318.5h0M156.2 304.8h0M170.5 313.2h0M149.5 308.0h0M164.1 313.7h0M204.5 312.1h0M268.5 324.9h0M143.7 298.8h0M222.4 322.4h0M156.6 308.3h0M154.6 305.7h0M229.0 318.6h0M201.7 315.9h0M210.0 316.4h0M183.4 312.3h0M182.3 318.1h0M182.1 313.9h0M214.8 315.9h0M199.1 312.8h0M252.3 323.6h0M269.5 324.1h0M192.2 314.4h0M186.1 310.8h0M232.5 322.0h0M205.6 317.3h0M142.6 296.8h0M174.4 315.3h0M253.1 324.6h0M256.6 325.5h0M258.5 317.2h0M241.1 316.8h0M179.3 307.8h0M227.6 321.3h0M223.8 319.4h0M271.6 323.2h0M165.9 305.5h0M146.6 296.5h0M257.4 316.1h0M252.8 321.4h0M204.6 319.3h0M225.6 315.2h0M253.9 316.7h0M169.0 315.4h0M169.7 304.2h0M194.3 320.0h0M178.2 311.4h0M238.6 314.4h0M158.4 306.2h0M168.8 314.4h0M267.6 326.3h0M248.3 324.4h0M254.4 317.3h0M170.4 311.4h0M201.2 321.0h0M170.3 309.6h0M165.7 314.6h0M161.6 307.7h0M265.7 320.5h0M170.5 314.9h0M252.1 325.1h0M177.7 305.6h0M226.0 322.7h0M222.9 314.7h0M213.9 314.2h0M220.7 321.8h0M212.2 311.2h0M201.8 309.4h0M169.8 314.2h0M222.9 321.3h0M175.4 304.1h0M235.1 319.6h0M162.1 304.8h0M259.3 316.6h0M150.1 305.3h0M166.2 306.8h0M169.9 308.9h0M252.8 322.5h0M143.2 298.9h0M242.3 323.3h0M175.8 316.6h0M184.7 314.9h0M160.2 305.8h0M193.1 318.9h0M165.9 307.8h0M165.1 307.0h0M209.0 313.7h0M183.1 316.8h0M161.7 310.2h0M218.3 312.3h0M152.1 304.3h0M237.1 321.9h0M233.3 320.7h0M148.2 298.2h0M220.0 318.8h0M159.1 311.5h0M229.4 323.2h0M251.9 323.6h0M192.3 307.8h0M211.6 322.5h0M261.7 322.5h0M149.5 302.4h0M173.8 311.0h0M230.8 321.1h0M163.4 312.2h0M167.3 312.4h0M199.9 312.1h0M150.5 297.8h0M211.4 314.9h0M185.6 307.9h0M159.1 308.4h0M208.3 321.3h0M189.7 320.3h0M214.2 320.1h0M169.7 307.7h0M250.4 322.0h0M266.9 324.6h0M200.5 312.8h0M154.4 304.3h0M182.1 314.7h0M212.2 317.0h0M171.6 305.4h0M252.7 322.6h0M176.5 308.8h0M249.2 324.2h0M197.6 318.9h0M264.1 321.0h0M249.4 323.0h0M230.5 317.6h0M174.3 313.6h0M168.4 304.7h0M261.1 323.1h0M262.0 321.8h0M258.9 323.5h0M211.0 320.5h0M217.6 321.4h0M199.7 318.5h0M240.4 322.1h0M254.8 325.3h0M149.7 307.3h0M199.3 321.0h0M171.7 316.7h0M254.9 319.7h0M255.2 324.0h0M242.9 320.5h0M217.2 322.0h0M243.2 316.6h0M206.4 325.1h0M215.9 315.8h0M168.2 310.5h0M165.0 313.3h0M213.9 314.6h0M167.1 313.6h0M196.6 313.9h0M200.7 308.9h0M236.3 320.0h0M159.8 309.7h0M223.6 319.5h0M252.3 320.4h0M242.5 319.6h0M196.6 317.8h0M161.4 300.7h0M269.4 322.5h0M193.5 311.8h0M266.1 326.0h0M154.4 306.1h0M188.4 319.5h0M175.6 306.2h0M255.0 323.1h0M270.3 324.6h0M169.8 305.8h0M174.0 305.6h0M261.1 321.5h0M183.5 307.7h0M163.2 314.1h0M237.6 325.6h0M239.9 321.9h0M228.9 315.5h0M253.1 326.2h0M167.8 309.7h0M160.4 301.4h0M160.1 306.5h0M265.4 324.3h0M219.5 324.4h0M259.4 324.3h0M170.7 314.2h0M188.4 317.7h0M222.6 325.8h0M146.4 297.0h0M239.2 324.1h0M256.5 324.7h0M234.8 316.3h0M179.5 308.9h0M167.5 306.6h0M254.1 315.6h0M147.2 301.7h0M225.8 322.6h0M215.5 321.0h0M150.8 309.1h0M169.4 312.4h0M161.3 304.6h0M161.9 312.7h0M262.9 326.6h0M184.3 311.8h0M233.2 314.9h0M248.4 322.9h0M209.6 316.4h0M181.0 310.0h0M172.9 311.4h0M266.9 325.8h0M181.9 306.1h0M157.6 312.3h0M223.9 311.8h0M203.2 312.7h0M220.3 316.6h0M181.7 307.3h0M233.3 317.6h0M219.4 318.1h0M149.7 309.0h0M189.9 318.2h0M170.1 308.5h0M204.9 313.3h0M269.4 324.7h0M264.9 321.0h0M228.9 322.2h0M253.3 316.4h0M214.6 321.3h0M183.1 318.5h0M149.6 304.1h0M269.2 324.5h0M167.8 315.4h0M164.4 312.3h0M259.9 326.4h0M153.5 308.0h0M151.0 300.7h0M255.0 317.6h0M246.9 317.5h0M170.8 312.5h0M211.3 320.2h0M213.4 323.0h0M210.6 317.0h0M254.1 319.4h0M206.9 316.5h0M253.4 322.6h0M184.0 307.4h0M214.8 319.4h0M259.3 326.6h0M238.3 318.2h0M166.3 307.2h0M203.5 312.8h0M145.5 299.0h0M141.7 298.3h0M193.2 318.6h0M254.9 321.6h0M233.8 316.0h0M206.2 320.8h0M182.5 309.3h0M184.1 308.7h0M169.5 311.9h0M234.0 323.5h0M158.2 315.0h0M216.8 311.8h0M166.0 308.3h0M191.1 320.3h0M243.1 317.6h0M229.6 320.3h0M239.7 324.2h0M166.7 309.7h0M190.1 319.5h0M160.0 310.5h0M214.8 324.2h0M191.7 316.2h0M170.0 313.6h0M182.9 307.5h0M210.7 310.8h0M185.2 312.1h0M260.4 317.4h0M146.7 299.3h0M232.3 320.5h0M252.0 318.0h0M235.0 324.9h0M265.5 322.9h0M257.4 318.1h0M148.0 299.8h0M219.4 321.6h0M183.0 312.0h0M232.8 313.9h0M168.0 314.3h0M253.8 324.9h0M218.7 319.8h0M206.7 312.9h0M197.3 319.5h0M253.6 318.1h0M245.7 318.6h0M237.6 323.8h0M232.6 319.9h0M249.1 327.0h0M148.0 298.1h0M150.0 304.9h0M167.2 308.0h0M208.9 317.7h0M204.9 313.6h0M146.8 302.3h0M222.1 311.6h0M225.0 318.9h0M251.5 315.4h0M233.8 315.1h0M164.4 304.1h0M175.3 310.9h0M151.6 302.4h0M253.8 315.6h0M228.9 315.0h0M232.2 320.7h0M232.8 321.5h0M202.2 318.0h0M160.6 304.8h0M260.5 323.5h0M186.9 314.0h0M257.1 322.2h0M194.4 319.1h0M220.0 319.9h0M230.6 322.9h0M147.0 296.6h0M218.3 319.9h0M222.9 313.1h0M206.0 311.5h0M204.7 311.1h0M193.2 310.1h0M153.4 305.8h0M234.5 321.3h0M193.4 316.3h0M173.4 313.0h0M145.8 296.7h0M186.4 313.6h0M176.3 314.4h0M252.5 317.8h0M139.2 292.8h0M256.3 318.4h0M226.7 323.9h0M146.0 301.1h0M218.1 321.7h0M165.2 308.8h0M155.2 309.5h0M235.5 324.2h0M153.0 309.4h0M263.3 325.5h0M203.2 310.4h0M141.3 296.4h0M227.8 317.1h0M224.4 312.9h0M259.4 323.6h0M158.4 307.8h0M152.4 301.2h0M239.7 321.0h0M250.0 320.3h0M167.9 304.5h0M234.4 322.3h0M142.0 297.4h0M203.3 317.8h0M236.1 321.3h0M262.8 324.7h0M202.1 314.9h0M150.0 300.5h0M222.1 322.7h0M264.6 319.1h0M194.2 320.5h0M218.7 314.8h0M258.0 325.8h0M262.7 317.4h0M279.5 323.0h0M267.2 327.5h0M280.1 321.7h0M267.8 325.7h0M279.2 326.2h0M282.1 324.8h0M263.0 320.6h0M263.5 325.2h0M268.6 322.9h0M275.3 319.1h0M266.0 320.2h0M199.9 298.6h0M215.9 308.9h0M234.6 303.0h0M155.1 294.3h0M248.0 308.4h0M236.2 307.4h0M158.6 294.6h0M223.1 306.4h0M158.7 290.8h0M178.4 295.4h0M181.3 299.6h0M160.1 292.1h0M206.8 303.3h0M239.1 308.1h0M155.1 292.4h0M221.2 310.0h0M214.4 307.9h0M174.6 300.5h0M243.0 305.7h0M223.5 309.8h0M231.2 308.5h0M172.0 300.1h0M205.1 300.8h0M215.3 305.7h0M177.1 296.4h0M201.9 306.4h0M237.2 308.7h0M179.0 296.2h0M174.0 303.0h0M241.1 305.9h0M142.7 288.0h0M131.3 280.2h0M140.3 289.8h0M143.4 295.7h0M124.9 273.4h0M130.5 274.9h0M130.5 280.6h0M120.8 264.3h0M134.4 274.7h0M150.7 298.3h0M118.7 270.6h0M152.9 295.9h0M121.9 265.8h0M139.6 283.2h0M141.8 293.4h0M152.7 296.7h0M151.7 298.4h0M142.5 286.0h0M147.8 290.7h0M150.3 296.5h0M139.1 288.2h0M138.0 279.2h0M140.9 284.3h0M126.4 267.2h0M141.0 290.8h0M141.2 291.6h0M142.0 286.0h0M140.2 285.3h0M124.0 268.1h0M139.1 291.8h0M122.8 268.9h0M134.9 274.9h0M117.8 265.5h0M137.6 282.3h0M132.1 274.0h0M133.1 275.1h0M121.0 271.4h0M129.6 270.8h0M140.3 293.6h0M129.7 274.5h0M124.8 266.0h0M142.2 289.7h0M136.8 284.5h0M134.3 289.4h0M142.1 285.1h0M139.6 291.2h0M143.5 291.5h0M130.4 278.1h0M130.3 272.9h0M134.3 285.6h0M141.6 287.3h0M150.6 294.9h0M146.7 294.1h0M119.2 267.5h0M129.2 276.0h0M141.1 288.6h0M131.2 276.3h0M118.1 262.8h0M125.6 274.3h0M116.6 262.5h0M137.9 286.1h0M144.5 292.7h0M150.1 295.8h0M118.9 268.5h0M135.2 284.9h0M144.7 289.4h0M136.0 279.3h0M135.2 282.2h0M119.0 271.0h0M149.0 291.9h0M144.2 292.4h0M135.1 284.3h0M128.8 278.8h0M149.4 296.2h0M135.8 280.8h0" stroke="#b2182b" stroke-width="1.70" stroke-linecap="round" fill="none"/>
<path d="M261.3 345.1h0M264.3 348.3h0M172.3 352.8h0M161.9 353.5h0M197.5 353.7h0M207.8 346.2h0M192.4 347.3h0M253.4 354.0h0M249.1 341.8h0M222.3 343.1h0M150.1 358.5h0M255.4 347.6h0M241.4 345.6h0M195.2 346.3h0M164.9 359.9h0M174.2 349.6h0M195.3 350.7h0M171.5 358.0h0M162.6 357.5h0M261.1 348.4h0M178.6 351.6h0M193.7 344.6h0M202.9 346.6h0M158.2 355.5h0M168.3 355.9h0M187.4 349.4h0M199.8 355.9h0M151.5 360.6h0M219.7 341.6h0M211.0 347.8h0M264.9 343.1h0M273.1 344.0h0M270.0 342.9h0M235.6 344.6h0M231.4 343.2h0M222.8 344.6h0M244.1 353.9h0M172.4 353.3h0M247.4 354.5h0M189.0 349.3h0M205.7 342.8h0M193.2 355.0h0M218.4 355.6h0M150.0 357.8h0M231.5 346.1h0M174.0 348.3h0M226.4 344.9h0M202.7 348.6h0M265.4 348.2h0M222.3 350.3h0M234.8 343.8h0M261.9 340.5h0M221.4 348.7h0M249.6 343.0h0M268.6 348.6h0M159.4 355.6h0M275.2 343.6h0M267.4 346.6h0M222.7 354.3h0M240.2 348.0h0M231.0 340.8h0M271.6 343.2h0M168.4 353.9h0M184.7 357.8h0M165.4 350.9h0M195.8 346.1h0M244.2 345.4h0M229.5 354.5h0M258.5 347.5h0M163.9 358.9h0M249.6 350.5h0M245.2 348.3h0M241.7 348.1h0M215.1 351.1h0M177.5 358.5h0M212.9 355.7h0M211.0 346.4h0M250.8 345.8h0M183.5 349.3h0M168.1 352.5h0M211.4 348.6h0M168.7 350.3h0M188.8 353.1h0M165.0 354.3h0M240.6 348.8h0M250.0 344.6h0M161.3 354.3h0M218.7 348.0h0M219.0 352.6h0M240.2 349.0h0M202.3 349.6h0M192.5 348.0h0M184.3 354.5h0M196.4 343.7h0M197.3 350.3h0M161.3 355.8h0M255.5 352.9h0M225.4 345.9h0M160.7 353.5h0M149.9 361.3h0M248.4 345.4h0M174.5 351.5h0M168.9 353.9h0M247.7 342.1h0M225.5 350.5h0M216.9 354.7h0M185.5 349.5h0M217.9 346.2h0M198.3 345.6h0M237.6 348.1h0M204.7 352.5h0M217.0 354.0h0M183.3 354.5h0M216.1 353.2h0M203.5 353.1h0M255.0 342.4h0M177.6 351.0h0M264.8 346.4h0M238.4 344.9h0M238.9 345.9h0M269.0 343.5h0M193.5 349.4h0M181.2 352.0h0M275.1 343.7h0M263.5 343.7h0M239.0 339.9h0M170.9 352.4h0M214.4 345.1h0M243.0 343.8h0M152.5 359.7h0M259.2 352.3h0M263.0 341.5h0M213.0 353.5h0M231.0 346.2h0M254.3 346.8h0M160.6 352.9h0M248.3 350.8h0M261.8 347.8h0M220.6 349.1h0M250.9 344.4h0M240.0 344.7h0M207.5 351.3h0M216.4 354.9h0M229.0 355.4h0M264.2 347.3h0M188.9 347.7h0M216.2 342.3h0M165.1 357.3h0M221.7 344.9h0M251.7 344.4h0M170.3 358.4h0M176.2 356.3h0M247.6 343.5h0M229.3 350.9h0M242.3 341.8h0M256.7 343.9h0M198.1 348.0h0M208.0 352.1h0M259.9 350.3h0M229.3 346.9h0M202.6 345.3h0M212.0 348.9h0M264.5 350.2h0M241.7 346.5h0M253.7 346.4h0M178.5 357.2h0M258.3 345.6h0M158.2 360.0h0M156.8 355.3h0M258.5 343.6h0M143.2 361.8h0M255.7 343.0h0M169.6 353.7h0M221.3 349.6h0M196.7 352.6h0M192.1 349.2h0M191.7 349.2h0M171.9 350.8h0M258.1 343.9h0M204.8 351.1h0M232.3 344.3h0M191.1 352.3h0M207.1 348.4h0M159.3 359.9h0M173.9 350.0h0M212.7 347.4h0M262.0 346.9h0M211.0 349.2h0M202.5 352.6h0M151.7 357.8h0M233.1 341.1h0M196.6 351.8h0M244.3 342.6h0M210.9 341.9h0M227.4 346.3h0M187.2 345.7h0M254.6 350.3h0M257.7 353.0h0M224.7 345.3h0M260.9 354.5h0M184.3 354.9h0M177.5 353.3h0M160.0 357.5h0M251.1 347.9h0M196.6 355.1h0M213.8 349.5h0M257.5 345.6h0M238.2 351.7h0M215.3 345.1h0M247.6 349.1h0M254.5 346.0h0M158.8 356.5h0M213.5 348.9h0M173.1 354.6h0M260.4 352.5h0M165.6 358.7h0M233.9 350.4h0M194.0 349.5h0M262.8 348.2h0M242.3 347.9h0M259.5 353.2h0M246.3 353.7h0M161.6 358.5h0M238.1 352.2h0M188.7 347.4h0M165.3 354.3h0M234.5 354.6h0M165.4 356.5h0M138.5 366.6h0M179.2 357.2h0M146.2 360.2h0M211.1 347.1h0M226.6 354.6h0M212.7 351.5h0M168.2 358.5h0M271.3 344.4h0M210.1 349.4h0M248.9 351.2h0M213.5 353.9h0M203.0 350.6h0M203.9 354.8h0M249.1 345.2h0M252.1 351.5h0M168.5 352.6h0M256.0 352.5h0M222.7 350.4h0M215.4 351.9h0M244.2 346.1h0M162.6 356.9h0M190.0 348.6h0M234.5 345.8h0M259.0 344.7h0M244.7 343.1h0M192.9 347.7h0M188.1 352.7h0M182.8 356.2h0M230.3 351.8h0M197.2 346.2h0M205.7 355.2h0M161.2 353.5h0M228.2 342.5h0M211.3 349.3h0M237.2 350.2h0M243.2 345.5h0M264.9 344.1h0M189.2 353.9h0M193.9 351.8h0M271.0 340.6h0M173.9 352.9h0M241.0 341.3h0M194.3 345.5h0M241.6 349.2h0M246.4 343.9h0M200.9 351.1h0M256.2 348.0h0M227.0 355.5h0M239.3 348.6h0M170.9 354.3h0M232.4 354.9h0M229.4 344.6h0M176.0 352.2h0M216.7 346.6h0M177.9 353.9h0M219.9 353.4h0M184.7 352.9h0M237.0 346.6h0M207.0 345.7h0M209.5 352.4h0M220.3 345.5h0M238.8 342.9h0M244.5 349.1h0M234.6 343.1h0M250.4 346.0h0M191.0 349.1h0M190.1 353.4h0M264.4 345.5h0M210.5 350.8h0M231.9 354.6h0M185.9 351.9h0M194.3 347.6h0M213.2 346.0h0M178.3 350.7h0M205.3 351.8h0M224.8 349.5h0M221.3 350.9h0M255.8 346.4h0M254.8 346.3h0M227.6 355.0h0M229.3 354.9h0M205.9 346.8h0M216.6 353.2h0M213.4 350.2h0M223.8 352.9h0M240.8 346.9h0M171.9 358.3h0M183.0 350.5h0M251.3 345.5h0M202.8 351.9h0M226.1 346.4h0M150.4 356.8h0M269.1 347.7h0M207.0 346.6h0M230.0 346.2h0M244.0 351.9h0M235.2 354.5h0M180.4 351.3h0M181.5 350.7h0M228.8 355.3h0M254.2 352.8h0M271.0 339.8h0M210.1 344.8h0M219.5 347.6h0M208.6 347.0h0M227.1 343.5h0M257.9 344.9h0M143.1 362.0h0M254.7 352.5h0M231.0 352.2h0M191.3 350.8h0M213.9 343.4h0M175.0 357.1h0M219.2 345.1h0M229.2 349.5h0M264.6 338.7h0M217.1 342.6h0M243.1 353.3h0M166.4 352.0h0M248.2 350.7h0M139.3 368.4h0M250.7 344.8h0M183.9 355.8h0M266.6 343.7h0M270.6 342.1h0M230.3 344.0h0M258.8 352.1h0M206.9 357.1h0M209.5 344.4h0M249.9 349.7h0M264.9 350.3h0M262.6 348.7h0M201.2 345.6h0M259.9 343.4h0M269.4 341.2h0M222.8 344.5h0M196.8 350.2h0M234.2 353.5h0M233.4 344.0h0M267.6 342.5h0M256.7 342.8h0M158.7 357.9h0M226.4 345.3h0M227.7 346.0h0M266.2 348.6h0M228.9 349.4h0M177.6 347.2h0M160.1 353.6h0M198.6 350.8h0M168.3 353.5h0M187.1 353.2h0M164.6 356.8h0M271.5 345.6h0M190.7 354.2h0M246.0 349.4h0M231.0 347.9h0M262.2 353.1h0M224.0 352.5h0M184.4 349.3h0M249.5 353.1h0M224.5 344.9h0M238.6 344.8h0M191.3 349.1h0M223.7 350.6h0M154.3 357.2h0M208.9 345.9h0M257.9 342.8h0M194.4 352.5h0M194.2 355.8h0M238.8 350.6h0M268.6 346.5h0M222.1 352.8h0M196.1 347.1h0M175.7 355.0h0M192.2 351.1h0M166.5 353.2h0M217.8 352.0h0M249.3 351.3h0M229.3 355.5h0M232.9 355.9h0M164.7 353.7h0M260.2 342.4h0M185.4 349.9h0M159.0 357.1h0M145.6 360.1h0M228.1 351.1h0M146.3 359.4h0M206.5 346.5h0M266.6 341.7h0M206.3 348.0h0M261.8 353.3h0M254.1 353.2h0M177.0 348.7h0M174.9 352.4h0M158.4 359.4h0M144.9 362.0h0M196.4 348.1h0M212.0 348.7h0M152.7 357.6h0M189.0 348.0h0M212.1 345.5h0M164.7 356.2h0M251.3 344.6h0M217.5 353.2h0M206.1 354.9h0M238.0 351.7h0M210.0 342.8h0M245.4 354.1h0M163.5 359.2h0M167.3 354.6h0M140.7 361.9h0M205.2 343.7h0M188.6 352.2h0M208.5 356.1h0M155.6 359.0h0M200.3 344.2h0M174.9 349.3h0M224.4 346.8h0M217.4 354.1h0M194.7 355.7h0M192.3 349.8h0M189.4 357.0h0M247.8 353.6h0M248.3 353.2h0M247.8 352.8h0M257.3 345.2h0M214.9 347.6h0M258.7 347.1h0M149.6 359.4h0M239.1 349.5h0M245.2 349.1h0M253.8 347.6h0M149.7 360.7h0M233.3 352.5h0M191.4 348.3h0M216.3 345.5h0M264.5 341.3h0M232.5 349.4h0M234.0 349.2h0M209.2 349.1h0M153.7 360.2h0M221.1 350.0h0M166.5 353.1h0M202.8 349.9h0M254.8 350.8h0M158.9 356.5h0M193.8 353.1h0M238.0 340.8h0M204.9 345.4h0M219.8 348.6h0M223.0 351.5h0M237.6 343.3h0M261.1 350.7h0M195.9 348.9h0M227.2 354.5h0M253.2 348.1h0M181.6 347.9h0M172.5 350.6h0M165.3 352.9h0M216.8 352.2h0M214.6 344.5h0M209.5 354.2h0M257.5 342.7h0M203.6 348.2h0M255.9 342.7h0M231.1 344.3h0M212.8 347.3h0M229.9 350.4h0M239.2 346.9h0M205.6 354.3h0M260.0 351.0h0M183.9 348.6h0M170.6 349.6h0M236.0 346.0h0M235.0 354.5h0M180.6 358.7h0M203.3 355.9h0M269.4 342.7h0M143.0 362.4h0M226.1 346.7h0M218.6 345.0h0M227.0 347.2h0M263.6 342.9h0M246.0 346.0h0M185.7 350.4h0M239.3 350.2h0M178.7 354.2h0M158.4 356.4h0M153.0 358.8h0M234.5 354.5h0M205.3 352.6h0M233.1 348.1h0M213.6 353.3h0M217.3 356.1h0M204.8 345.3h0M148.2 359.5h0M251.0 348.6h0M170.0 351.9h0M184.0 350.6h0M223.4 349.9h0M179.0 350.0h0M150.2 361.8h0M246.0 343.9h0M246.1 346.3h0M171.3 351.2h0M240.9 349.0h0M230.4 353.6h0M246.3 354.1h0M220.3 349.7h0M215.6 351.7h0M197.0 343.8h0M213.1 344.1h0M183.9 350.3h0M235.9 347.4h0M261.1 342.7h0M211.6 343.7h0M219.3 349.3h0M144.2 361.3h0M180.4 356.3h0M225.5 346.0h0M238.7 344.7h0M175.0 349.9h0M162.0 356.6h0M209.2 350.2h0M248.7 347.4h0M251.7 345.8h0M207.9 349.0h0M257.9 343.2h0M197.9 352.1h0M203.5 350.0h0M233.9 348.3h0M147.6 359.2h0M237.2 353.6h0M211.6 344.4h0M238.7 343.9h0M197.0 345.0h0M241.4 348.3h0M167.8 358.0h0M254.8 347.8h0M240.0 343.5h0M255.6 341.7h0M186.1 350.0h0M251.6 352.7h0M253.5 351.6h0M217.4 355.6h0M213.2 345.6h0M203.4 354.2h0M183.2 346.6h0M235.1 351.7h0M231.9 341.9h0M232.3 355.4h0M224.8 341.2h0M263.3 351.6h0M223.8 342.8h0M253.3 342.7h0M217.2 342.3h0M262.6 344.4h0M212.3 350.7h0M181.2 355.2h0M255.0 343.2h0M248.2 352.6h0M201.0 355.7h0M263.5 348.5h0M182.5 349.4h0M236.3 351.4h0M211.7 345.2h0M184.3 349.4h0M222.1 345.9h0M181.1 353.1h0M155.3 357.3h0M236.1 343.1h0M191.3 347.2h0M228.4 349.3h0M271.8 345.1h0M217.0 355.1h0M259.0 354.2h0M260.0 347.6h0M220.9 344.4h0M223.5 349.9h0M211.8 345.3h0M238.4 343.2h0M263.8 344.7h0M171.3 359.6h0M238.6 354.1h0M172.2 347.2h0M224.4 350.7h0M235.4 346.4h0M263.9 344.4h0M193.1 351.2h0M235.8 353.1h0M253.7 351.6h0M154.5 357.6h0M216.7 344.0h0M185.4 348.4h0M181.8 355.2h0M269.6 344.0h0M251.9 341.9h0M165.7 360.3h0M273.8 344.2h0M274.0 343.1h0M225.0 353.7h0M252.9 342.3h0M245.7 348.6h0M260.8 349.5h0M180.7 357.3h0M191.6 353.6h0M143.5 363.3h0M252.8 345.9h0M256.2 351.1h0M271.4 345.5h0M144.4 361.0h0M194.9 346.7h0M233.6 344.7h0M175.0 356.7h0M236.8 345.8h0M230.6 343.0h0M186.4 350.4h0M241.9 354.1h0M208.1 353.8h0M247.3 351.2h0M223.1 349.0h0M256.7 346.6h0M256.2 348.3h0M240.1 344.9h0M266.8 342.9h0M211.0 347.3h0M171.6 352.9h0M233.1 351.1h0M186.3 353.9h0M202.7 347.0h0M245.5 352.4h0M190.7 348.1h0M250.5 347.7h0M221.1 343.9h0M219.3 340.8h0M159.9 353.4h0M185.3 353.9h0M192.9 355.5h0M267.6 343.2h0M246.6 352.6h0M268.7 345.3h0M162.2 360.5h0M224.4 344.4h0M235.4 348.6h0M240.3 353.7h0M160.8 355.8h0M236.6 351.7h0M185.1 350.6h0M144.7 361.6h0M181.6 350.1h0M251.5 349.3h0M258.2 345.7h0M158.3 355.3h0M212.1 343.5h0M164.5 354.3h0M185.9 349.2h0M246.2 353.4h0M258.8 343.3h0M148.4 360.0h0M244.0 343.8h0M151.5 359.4h0M170.4 355.2h0M261.7 345.3h0M197.4 342.2h0M198.6 350.6h0M256.5 354.2h0M219.4 344.6h0M203.9 343.8h0M267.5 344.5h0M204.4 345.3h0M219.0 347.5h0M147.5 362.1h0M205.0 350.7h0M175.9 358.1h0M163.3 352.8h0M179.5 350.5h0M189.6 357.6h0M154.0 357.5h0M232.2 351.9h0M225.6 344.6h0M254.7 343.0h0M221.8 349.4h0M245.2 347.4h0M263.3 343.8h0M235.9 351.9h0M238.8 350.6h0M264.4 343.1h0M260.6 345.5h0M187.1 347.0h0M170.3 352.8h0M182.0 350.2h0M241.4 345.6h0M209.7 353.5h0M243.0 351.2h0M166.4 357.7h0M245.6 349.8h0M240.4 350.1h0M204.0 352.1h0M229.0 347.8h0M164.8 354.3h0M152.5 361.9h0M192.5 354.2h0M192.5 352.0h0M166.2 351.5h0M269.4 347.2h0M207.1 343.8h0M215.0 347.2h0M242.7 344.4h0M208.4 348.5h0M222.9 344.6h0M218.0 354.7h0M205.6 352.2h0M252.7 345.8h0M152.5 361.7h0M231.7 345.0h0M234.6 351.4h0M259.8 343.6h0M223.2 346.6h0M239.0 346.0h0M260.8 352.9h0M175.5 350.9h0M209.2 350.0h0M161.6 354.9h0M262.5 346.0h0M218.9 346.7h0M263.7 348.2h0M176.1 355.2h0M220.1 345.9h0M248.2 350.5h0M251.4 353.5h0M205.6 345.4h0M200.8 353.6h0M271.1 344.2h0M253.3 344.8h0M247.8 347.1h0M231.5 345.7h0M185.0 354.8h0M210.4 352.1h0M262.6 344.3h0M155.8 358.6h0M147.0 362.1h0M182.2 351.8h0M181.2 352.4h0M214.1 344.7h0M225.7 349.6h0M267.0 348.6h0M227.8 352.8h0M177.8 354.5h0M226.9 351.7h0M186.3 354.0h0M181.0 349.0h0M212.8 340.9h0M188.8 348.1h0M205.9 348.8h0M194.5 352.1h0M178.0 352.0h0M252.1 349.5h0M192.3 355.8h0M192.4 352.8h0M260.8 351.4h0M241.1 352.3h0M211.3 344.0h0M162.4 354.4h0M151.3 359.7h0M211.7 345.6h0M233.9 349.6h0M197.7 345.7h0M269.8 345.7h0M221.2 349.8h0M223.6 355.3h0M164.0 357.1h0M201.0 347.8h0M184.1 354.3h0M218.8 344.5h0M241.5 346.3h0M234.7 347.0h0M247.3 350.1h0M195.6 345.2h0M144.2 361.8h0M255.3 350.5h0M204.7 342.9h0M256.9 344.0h0M251.1 353.1h0M245.8 353.8h0M167.1 356.1h0M259.3 349.3h0M193.6 354.6h0M184.9 346.9h0M244.5 352.7h0M212.7 342.6h0M168.1 356.1h0M262.4 351.0h0M186.9 350.2h0M218.6 351.2h0M218.4 353.5h0M164.8 353.4h0M274.6 341.4h0M203.2 346.1h0M174.4 356.0h0M205.4 354.8h0M141.8 362.3h0M214.2 343.1h0M214.5 342.1h0M266.4 344.4h0M259.2 347.2h0M175.0 348.0h0M267.0 347.8h0M186.3 353.7h0M228.1 349.7h0M221.5 353.4h0M227.9 353.5h0M252.1 347.8h0M269.4 347.6h0M275.2 346.0h0M261.2 345.1h0M223.9 338.8h0M203.3 345.5h0M229.0 342.4h0M186.4 351.5h0M249.3 353.0h0M202.9 350.8h0M212.5 353.1h0M253.9 345.8h0M225.2 348.4h0M198.4 349.3h0M159.0 355.9h0M265.9 349.3h0M268.4 347.4h0M223.6 351.4h0M258.4 350.0h0M238.6 341.3h0M192.1 348.6h0M206.2 345.8h0M168.3 358.6h0M222.8 344.8h0M211.2 349.4h0M267.0 340.6h0M259.5 343.7h0M201.7 345.9h0M214.1 347.3h0M214.7 347.3h0M185.8 352.8h0M185.0 351.5h0M165.1 352.3h0M214.1 344.8h0M146.0 359.7h0M267.9 340.8h0M151.2 359.5h0M257.9 340.5h0M227.1 351.5h0M249.3 350.8h0M242.8 352.0h0M187.5 349.0h0M208.1 343.2h0M245.0 346.2h0M196.7 344.6h0M215.5 346.9h0M160.2 355.1h0M165.0 352.1h0M166.9 358.4h0M180.1 356.1h0M221.2 351.9h0M246.7 349.2h0M153.5 360.7h0M237.5 346.5h0M207.1 345.1h0M196.2 350.0h0M155.8 361.0h0M201.8 352.4h0M229.4 343.9h0M235.2 353.5h0M170.2 354.1h0M145.4 360.3h0M221.1 344.4h0M204.2 350.3h0M216.0 347.1h0M223.6 348.5h0M183.0 355.8h0M171.5 348.9h0M261.7 351.8h0M192.6 356.4h0M211.6 346.0h0M201.9 343.7h0M261.1 343.9h0M191.8 355.1h0M264.5 342.3h0M197.4 350.9h0M175.0 348.9h0M189.1 353.3h0M196.6 353.5h0M215.9 352.3h0M229.0 343.0h0M261.3 348.3h0M160.5 356.3h0M217.6 348.7h0M163.4 358.8h0M258.9 345.5h0M273.0 342.5h0M180.5 358.2h0M216.5 348.6h0M223.5 344.6h0M170.8 357.2h0M158.1 356.6h0M218.4 350.4h0M243.3 349.2h0M250.0 352.8h0M209.3 347.5h0M234.5 348.7h0M259.8 344.9h0M157.8 357.5h0M216.4 353.1h0M188.5 354.8h0M198.2 349.5h0M156.9 360.9h0M241.0 346.1h0M218.9 352.8h0M261.6 351.7h0M237.6 352.4h0M193.8 346.5h0M182.1 354.1h0M171.5 350.6h0M161.2 352.9h0M255.3 349.3h0M166.6 353.8h0M204.3 348.2h0M205.4 355.0h0M167.2 354.8h0M258.8 344.1h0M163.8 355.0h0M227.6 352.2h0M160.9 354.2h0M241.3 347.4h0M197.2 346.8h0M239.5 352.4h0M212.6 344.7h0M209.9 348.0h0M213.3 347.6h0M178.7 356.5h0M192.6 347.2h0M212.3 354.4h0M210.0 349.0h0M162.5 353.9h0M234.7 345.3h0M192.1 354.1h0M150.0 360.6h0M250.3 344.6h0M222.7 348.8h0M173.3 356.3h0M266.7 343.3h0M258.1 343.4h0M192.2 351.7h0M179.1 350.7h0M246.6 343.7h0M250.9 345.8h0M198.9 348.7h0M150.8 358.4h0M169.9 351.6h0M238.4 351.1h0M222.9 350.1h0M145.2 360.9h0M224.9 346.7h0M210.1 355.1h0M257.3 344.3h0M189.9 352.6h0M198.7 348.5h0M231.4 355.1h0M198.9 354.5h0M222.2 349.5h0M172.5 355.8h0M233.2 353.4h0M210.9 348.9h0M246.6 348.8h0M159.5 360.2h0M146.8 362.0h0M142.8 363.2h0M268.6 348.1h0M221.1 351.7h0M168.6 357.7h0M219.3 349.3h0M238.9 353.3h0M244.6 350.7h0M205.7 355.5h0M219.0 351.0h0M150.8 357.0h0M221.3 341.5h0M245.2 355.4h0M213.0 355.8h0M248.5 353.7h0M246.8 350.0h0M194.8 355.1h0M218.3 345.9h0M262.2 352.1h0M163.7 354.7h0M211.0 345.5h0M248.7 340.6h0M191.0 355.3h0M255.9 344.3h0M183.8 354.8h0M252.1 342.0h0M250.6 351.6h0M200.1 353.9h0M179.4 351.4h0M244.7 347.8h0M201.2 347.3h0M171.7 352.8h0M216.4 344.7h0M236.6 343.1h0M183.2 351.0h0M171.1 355.4h0M232.8 342.2h0M218.7 343.0h0M211.0 343.8h0M206.8 352.4h0M153.5 358.9h0M198.6 347.6h0M190.3 345.9h0M228.1 348.0h0M220.4 345.9h0M187.5 356.6h0M222.1 355.6h0M149.4 359.1h0M245.8 344.0h0M213.7 344.1h0M276.2 343.5h0M218.7 354.1h0M248.9 344.2h0M221.8 352.8h0M239.4 344.9h0M253.6 346.2h0M251.9 345.5h0M226.2 349.3h0M258.3 342.3h0M225.6 346.8h0M236.7 343.3h0M188.4 348.2h0M157.2 356.9h0M147.9 360.1h0M244.5 352.8h0M183.7 348.2h0M238.1 350.9h0M266.7 343.9h0M168.4 352.2h0M264.0 350.9h0M228.7 353.5h0M229.4 354.2h0M247.7 346.3h0M248.8 353.9h0M211.7 352.5h0M238.5 344.2h0M264.6 348.9h0M190.9 355.7h0M212.8 352.8h0M277.3 347.0h0M228.7 342.0h0M267.3 349.3h0M163.6 354.7h0M185.5 347.5h0M258.8 340.4h0M206.3 345.7h0M229.3 344.3h0M264.8 341.0h0M238.7 352.9h0M165.6 358.9h0M200.9 349.3h0M207.5 346.5h0M212.6 346.6h0M243.0 347.4h0M224.4 350.8h0M272.7 344.3h0M265.8 345.6h0M158.8 355.9h0M226.9 343.4h0M169.7 356.4h0M200.4 352.5h0M205.9 353.1h0M201.7 354.3h0M188.3 356.4h0M227.6 350.3h0M259.8 345.7h0M212.4 354.6h0M203.2 349.5h0M260.0 352.1h0M262.8 341.5h0M209.0 356.6h0M196.9 349.1h0M217.9 342.5h0M266.7 342.1h0M239.8 346.9h0M269.0 345.9h0M208.5 346.3h0M266.7 344.8h0M244.5 349.1h0M250.1 344.8h0M251.0 345.5h0M227.6 341.5h0M194.4 354.8h0M244.1 343.8h0M217.7 350.9h0M154.8 354.8h0M262.9 350.7h0M231.9 352.4h0M257.7 343.0h0M220.0 345.8h0M251.5 353.2h0M248.7 344.9h0M266.0 343.4h0M221.9 349.2h0M226.1 355.7h0M185.0 352.8h0M204.8 347.3h0M232.3 347.9h0M239.6 353.1h0M148.2 360.7h0M252.5 345.2h0M176.8 357.0h0M212.8 344.9h0M240.6 351.7h0M231.9 350.1h0M245.6 342.5h0M186.0 355.6h0M160.6 354.7h0M262.7 350.0h0M158.1 357.0h0M203.3 346.7h0M207.4 343.0h0M145.7 363.4h0M236.8 349.0h0M268.9 349.0h0M162.4 356.7h0M167.1 352.1h0M245.0 347.0h0M168.0 352.3h0M186.9 347.7h0M260.5 343.9h0M241.6 347.4h0M260.6 341.4h0M245.9 346.5h0M238.7 345.2h0M246.6 350.0h0M193.3 357.2h0M168.3 353.0h0M237.7 346.3h0M240.0 344.8h0M229.7 354.4h0M255.6 349.7h0M200.5 351.1h0M225.5 345.0h0M254.7 350.9h0M205.5 345.8h0M175.8 358.5h0M238.7 345.3h0M156.5 354.9h0M233.0 353.0h0M155.7 361.7h0M231.2 355.2h0M174.9 348.4h0M193.8 346.8h0M223.3 345.5h0M219.1 352.7h0M237.6 354.0h0M178.8 347.7h0M246.7 344.3h0M248.6 342.7h0M205.8 352.3h0M159.0 353.1h0M213.5 352.7h0M272.6 345.8h0M218.3 345.1h0M160.0 351.0h0M267.9 346.7h0M185.4 348.0h0M231.0 353.6h0M143.4 361.1h0M214.7 353.2h0M221.0 351.7h0M255.1 348.6h0M153.2 357.0h0M248.0 344.3h0M239.4 351.3h0M175.5 355.3h0M251.6 345.8h0M164.5 360.0h0M210.1 346.0h0M195.8 353.3h0M270.9 347.3h0M150.4 358.9h0M238.9 342.6h0M260.7 352.5h0M172.7 349.9h0M258.4 340.6h0M260.4 345.3h0M189.0 356.2h0M230.6 355.6h0M274.4 344.6h0M189.5 348.1h0M255.4 341.0h0M206.9 346.3h0M165.1 352.7h0M223.8 344.6h0M259.9 343.2h0M188.4 349.4h0M219.2 351.5h0M275.1 345.9h0M200.4 343.8h0M171.2 357.2h0M246.6 341.8h0M185.4 351.5h0M250.2 349.5h0M203.6 352.1h0M180.6 356.8h0M261.2 342.5h0M249.5 352.0h0M193.1 355.6h0M200.9 350.8h0M231.9 353.8h0M269.0 344.3h0M231.9 346.2h0M183.4 354.1h0M250.5 345.1h0M209.2 346.9h0M218.4 353.1h0M265.6 345.1h0M291.8 349.1h0M269.0 350.9h0M279.0 346.5h0M291.1 343.4h0M284.7 344.9h0M263.3 350.9h0M276.1 340.3h0M263.0 341.1h0M282.3 344.1h0M278.2 348.5h0M277.8 343.5h0M288.0 348.3h0M281.8 354.3h0M267.8 341.5h0M286.8 351.0h0M289.9 340.7h0M272.7 350.5h0M291.4 354.6h0M267.4 355.3h0M287.8 343.9h0M289.1 341.5h0M273.0 352.1h0M321.0 342.2h0M167.0 381.7h0M251.7 382.5h0M171.8 369.1h0M258.6 355.0h0M225.0 366.3h0M254.3 368.4h0M247.7 369.1h0M210.0 364.0h0M253.7 377.3h0M241.9 365.7h0M208.1 368.4h0M231.2 367.7h0M189.7 359.3h0M153.3 377.6h0M234.5 366.5h0M165.1 385.9h0M197.8 364.2h0M249.8 360.2h0M207.1 379.1h0M252.9 364.1h0M222.4 385.2h0M175.3 373.8h0M174.2 381.5h0M253.7 361.4h0M238.1 362.7h0M240.7 380.9h0M151.3 390.2h0M208.3 380.8h0M249.3 356.3h0M162.0 365.0h0M191.3 359.8h0M155.5 369.5h0M210.0 377.0h0M178.8 367.9h0M258.5 368.1h0M168.6 370.0h0M185.9 382.7h0M207.8 368.7h0M167.4 381.2h0M197.6 357.9h0M128.5 375.8h0M134.5 384.3h0M143.2 364.2h0M126.7 378.3h0M132.7 374.1h0M125.6 380.5h0M147.7 359.6h0M139.1 382.4h0M117.2 401.4h0M139.4 377.4h0M124.4 389.5h0M126.0 389.1h0M130.6 380.1h0M149.1 361.4h0M125.5 385.8h0M128.7 390.8h0M149.5 366.9h0M114.2 409.7h0M116.0 392.7h0M132.4 377.1h0M137.6 370.5h0M134.8 369.3h0M140.3 384.7h0M136.9 384.9h0M138.3 371.0h0M136.4 367.9h0M120.1 386.1h0M139.4 372.2h0M119.2 387.6h0M148.5 377.3h0M131.7 384.0h0M126.2 384.3h0M134.0 389.5h0M127.5 376.5h0M148.7 369.2h0M132.5 384.4h0M123.3 400.0h0M127.3 390.2h0M140.2 366.6h0M145.4 374.8h0M148.1 363.4h0M116.8 403.1h0M124.9 392.2h0M145.8 373.1h0M140.8 371.9h0" stroke="#2166ac" stroke-width="1.70" stroke-linecap="round" fill="none"/>
<line x1="112.00" y1="39.00" x2="112.00" y2="200.80" stroke="#000" stroke-width="1.7"/>
<line x1="111.15" y1="200.00" x2="330.50" y2="200.00" stroke="#000" stroke-width="1.6"/>
<line x1="109.40" y1="82.75" x2="112.00" y2="82.75" stroke="#000" stroke-width="1.1"/>
<line x1="109.40" y1="119.50" x2="112.00" y2="119.50" stroke="#000" stroke-width="1.1"/>
<line x1="109.40" y1="156.25" x2="112.00" y2="156.25" stroke="#000" stroke-width="1.1"/>
<line x1="109.40" y1="193.00" x2="112.00" y2="193.00" stroke="#000" stroke-width="1.1"/>
<text x="105.00" y="51.00" text-anchor="end" font-size="9.3">5</text>
<text x="105.00" y="124.50" text-anchor="end" font-size="9.3">0</text>
<text x="105.00" y="198.00" text-anchor="end" font-size="9.3">−5</text>
<line x1="158.00" y1="200.00" x2="158.00" y2="202.80" stroke="#000" stroke-width="1.1"/>
<text x="158.00" y="213.90" text-anchor="middle" font-size="8.9">5</text>
<line x1="216.50" y1="200.00" x2="216.50" y2="202.80" stroke="#000" stroke-width="1.1"/>
<text x="216.50" y="213.90" text-anchor="middle" font-size="8.9">10</text>
<line x1="275.00" y1="200.00" x2="275.00" y2="202.80" stroke="#000" stroke-width="1.1"/>
<text x="275.00" y="213.90" text-anchor="middle" font-size="8.9">15</text>
<text x="205.50" y="226.70" text-anchor="middle" font-size="9.4">Expression level</text>
<text transform="translate(91,119.6) rotate(-90)" text-anchor="middle" font-size="10.2">log<tspan font-size="10.4" dy="4.6">2</tspan><tspan dy="-4.6">FC (SY vs. NY)</tspan></text>
<line x1="112.00" y1="254.00" x2="112.00" y2="415.80" stroke="#000" stroke-width="1.7"/>
<line x1="111.15" y1="415.00" x2="330.50" y2="415.00" stroke="#000" stroke-width="1.6"/>
<line x1="109.40" y1="261.00" x2="112.00" y2="261.00" stroke="#000" stroke-width="1.1"/>
<line x1="109.40" y1="297.75" x2="112.00" y2="297.75" stroke="#000" stroke-width="1.1"/>
<line x1="109.40" y1="334.50" x2="112.00" y2="334.50" stroke="#000" stroke-width="1.1"/>
<line x1="109.40" y1="371.25" x2="112.00" y2="371.25" stroke="#000" stroke-width="1.1"/>
<line x1="109.40" y1="408.00" x2="112.00" y2="408.00" stroke="#000" stroke-width="1.1"/>
<text x="105.00" y="266.00" text-anchor="end" font-size="9.3">5</text>
<text x="105.00" y="339.50" text-anchor="end" font-size="9.3">0</text>
<text x="105.00" y="413.00" text-anchor="end" font-size="9.3">−5</text>
<line x1="158.00" y1="415.00" x2="158.00" y2="417.80" stroke="#000" stroke-width="1.1"/>
<text x="158.00" y="428.90" text-anchor="middle" font-size="8.9">5</text>
<line x1="216.50" y1="415.00" x2="216.50" y2="417.80" stroke="#000" stroke-width="1.1"/>
<text x="216.50" y="428.90" text-anchor="middle" font-size="8.9">10</text>
<line x1="275.00" y1="415.00" x2="275.00" y2="417.80" stroke="#000" stroke-width="1.1"/>
<text x="275.00" y="428.90" text-anchor="middle" font-size="8.9">15</text>
<text x="205.50" y="441.70" text-anchor="middle" font-size="9.4">Expression level</text>
<text transform="translate(91,334.6) rotate(-90)" text-anchor="middle" font-size="10.2">log<tspan font-size="10.4" dy="4.6">2</tspan><tspan dy="-4.6">FC (SY vs. NY)</tspan></text>
<rect x="357.00" y="9.60" width="7.40" height="6.30" fill="#b2182b"/>
<rect x="357.00" y="21.40" width="7.40" height="6.30" fill="#2166ac"/>
<text x="366.40" y="14.80">up</text>
<text x="366.40" y="26.70">down</text>
<rect x="366.40" y="38.30" width="44.40" height="8.50" fill="#b2182b"/>
<rect x="366.40" y="38.30" width="28.60" height="8.50" fill="#2166ac"/>
<rect x="366.40" y="49.30" width="35.50" height="8.10" fill="#b2182b"/>
<rect x="366.40" y="49.30" width="18.40" height="8.10" fill="#2166ac"/>
<rect x="366.40" y="59.90" width="83.70" height="8.50" fill="#b2182b"/>
<rect x="366.40" y="59.90" width="51.30" height="8.50" fill="#2166ac"/>
<rect x="366.40" y="84.00" width="54.30" height="9.80" fill="#b2182b"/>
<rect x="366.40" y="84.00" width="46.40" height="9.80" fill="#2166ac"/>
<rect x="366.40" y="96.00" width="49.50" height="9.60" fill="#b2182b"/>
<rect x="366.40" y="96.00" width="18.00" height="9.60" fill="#2166ac"/>
<rect x="366.40" y="121.00" width="40.20" height="9.70" fill="#b2182b"/>
<rect x="366.40" y="121.00" width="8.10" height="9.70" fill="#2166ac"/>
<rect x="366.40" y="133.30" width="29.90" height="9.30" fill="#b2182b"/>
<rect x="366.40" y="133.30" width="22.50" height="9.30" fill="#2166ac"/>
<rect x="366.40" y="145.20" width="59.50" height="9.50" fill="#b2182b"/>
<rect x="366.40" y="145.20" width="19.60" height="9.50" fill="#2166ac"/>
<rect x="366.40" y="170.00" width="48.90" height="9.70" fill="#b2182b"/>
<rect x="366.40" y="170.00" width="21.60" height="9.70" fill="#2166ac"/>
<rect x="366.40" y="182.30" width="39.80" height="9.30" fill="#b2182b"/>
<rect x="366.40" y="182.30" width="17.60" height="9.30" fill="#2166ac"/>
<text x="470.80" y="35.50" font-weight="bold">Meiosis</text>
<text x="470.80" y="46.90">Attachment of spindle microtubules to kinetochore</text>
<text x="470.80" y="56.80">Oocyte meiosis</text>
<text x="470.80" y="67.60">Cell cycle checkpoints</text>
<text x="470.80" y="81.40" font-weight="bold">Intrinsic processes</text>
<text x="470.80" y="92.60">Oxidative phosphorylation</text>
<text x="470.80" y="103.80">Regulation of MAPK cascade</text>
<text x="470.80" y="118.10" font-weight="bold">Hormonal response</text>
<text x="470.80" y="129.60">Gonadotropin secretion</text>
<text x="470.80" y="141.70">C21-steroid hormone biosynthetic process</text>
<text x="470.80" y="153.60">Cellular response to steroid hormone stimulus</text>
<text x="470.80" y="166.70" font-weight="bold">Damage</text>
<text x="470.80" y="178.50">DNA integrity checkpoint</text>
<text x="470.80" y="190.30">Apoptosis</text>
<line x1="365.80" y1="200.70" x2="443.20" y2="200.70" stroke="#000" stroke-width="1.3"/>
<line x1="366.40" y1="200.70" x2="366.40" y2="202.90" stroke="#000" stroke-width="1.1"/>
<line x1="404.40" y1="200.70" x2="404.40" y2="202.90" stroke="#000" stroke-width="1.1"/>
<line x1="442.40" y1="200.70" x2="442.40" y2="202.90" stroke="#000" stroke-width="1.1"/>
<g transform="translate(0,214)"><text x="366.40" y="0" text-anchor="middle" font-size="9.2">1<tspan font-size="6.2" dy="-3.4"></tspan></text><text x="404.30" y="0" text-anchor="middle" font-size="9.2">10<tspan font-size="6.2" dy="-3.4">-2</tspan></text><text x="442.30" y="0" text-anchor="middle" font-size="9.2">10<tspan font-size="6.2" dy="-3.4">-4</tspan></text></g>
<text x="404.40" y="226.40" text-anchor="middle" font-size="9.6">adjusted p−value</text>
<rect x="366.40" y="251.30" width="36.50" height="9.70" fill="#b2182b"/>
<rect x="366.40" y="251.30" width="20.90" height="9.70" fill="#2166ac"/>
<rect x="366.40" y="263.60" width="46.30" height="9.30" fill="#b2182b"/>
<rect x="366.40" y="263.60" width="22.50" height="9.30" fill="#2166ac"/>
<rect x="366.40" y="288.50" width="8.60" height="9.50" fill="#b2182b"/>
<rect x="366.40" y="288.50" width="3.40" height="9.50" fill="#2166ac"/>
<rect x="366.40" y="300.40" width="9.60" height="9.60" fill="#b2182b"/>
<rect x="366.40" y="300.40" width="6.40" height="9.60" fill="#2166ac"/>
<rect x="366.40" y="325.40" width="51.90" height="9.60" fill="#b2182b"/>
<rect x="366.40" y="325.40" width="42.30" height="9.60" fill="#2166ac"/>
<rect x="366.40" y="337.30" width="16.00" height="9.70" fill="#b2182b"/>
<rect x="366.40" y="337.30" width="9.90" height="9.70" fill="#2166ac"/>
<rect x="366.40" y="362.20" width="9.60" height="9.60" fill="#b2182b"/>
<rect x="366.40" y="362.20" width="7.30" height="9.60" fill="#2166ac"/>
<rect x="366.40" y="374.10" width="91.00" height="9.60" fill="#b2182b"/>
<rect x="366.40" y="374.10" width="81.70" height="9.60" fill="#2166ac"/>
<rect x="366.40" y="386.20" width="15.50" height="9.50" fill="#b2182b"/>
<rect x="366.40" y="386.20" width="9.90" height="9.50" fill="#2166ac"/>
<rect x="366.40" y="398.10" width="16.90" height="9.60" fill="#b2182b"/>
<rect x="366.40" y="398.10" width="6.70" height="9.60" fill="#2166ac"/>
<text x="470.80" y="248.70" font-weight="bold">Cell cycle</text>
<text x="470.80" y="259.60">Regulation of cell cycle G2-M phase transition</text>
<text x="470.80" y="271.70">Regulation of cell cycle process</text>
<text x="470.80" y="285.20" font-weight="bold">Signaling</text>
<text x="470.80" y="296.30">Androgen receptor signaling pathway</text>
<text x="470.80" y="308.90">MAPK family signaling cascades</text>
<text x="470.80" y="322.20" font-weight="bold">Hormonal response</text>
<text x="470.80" y="334.00">Fatty acid metabolism</text>
<text x="470.80" y="346.20">Estrogen-dependent gene expression</text>
<text x="470.80" y="359.00" font-weight="bold">Damage</text>
<text x="470.80" y="370.80">Protein repair</text>
<text x="470.80" y="382.60">DNA repair</text>
<text x="470.80" y="394.40">Postreplication repair</text>
<text x="470.80" y="406.60">Double strand break repair</text>
<line x1="365.80" y1="415.10" x2="456.20" y2="415.10" stroke="#000" stroke-width="1.3"/>
<line x1="366.40" y1="415.10" x2="366.40" y2="417.30" stroke="#000" stroke-width="1.1"/>
<line x1="379.15" y1="415.10" x2="379.15" y2="417.30" stroke="#000" stroke-width="1.1"/>
<line x1="391.90" y1="415.10" x2="391.90" y2="417.30" stroke="#000" stroke-width="1.1"/>
<line x1="404.65" y1="415.10" x2="404.65" y2="417.30" stroke="#000" stroke-width="1.1"/>
<line x1="417.40" y1="415.10" x2="417.40" y2="417.30" stroke="#000" stroke-width="1.1"/>
<line x1="430.15" y1="415.10" x2="430.15" y2="417.30" stroke="#000" stroke-width="1.1"/>
<line x1="442.90" y1="415.10" x2="442.90" y2="417.30" stroke="#000" stroke-width="1.1"/>
<line x1="455.65" y1="415.10" x2="455.65" y2="417.30" stroke="#000" stroke-width="1.1"/>
<g transform="translate(0,428.6)"><text x="366.40" y="0" text-anchor="middle" font-size="9.2">1<tspan font-size="6.2" dy="-3.4"></tspan></text><text x="392.00" y="0" text-anchor="middle" font-size="9.2">10<tspan font-size="6.2" dy="-3.4">-4</tspan></text><text x="416.60" y="0" text-anchor="middle" font-size="9.2">10<tspan font-size="6.2" dy="-3.4">-8</tspan></text><text x="441.00" y="0" text-anchor="middle" font-size="9.2">10<tspan font-size="6.2" dy="-3.4">-12</tspan></text></g>
<text x="411.00" y="440.90" text-anchor="middle" font-size="9.6">adjusted p−value</text>
<circle cx="55.7" cy="458.4" r="13.5" fill="#fff" stroke="#111" stroke-width="1.4"/>
<circle cx="60.5" cy="458.0" r="2.3" fill="#fff" stroke="#111" stroke-width="1.5"/>
<text x="51.00" y="492.10" text-anchor="middle">immature (I)</text>
<line x1="64.5" y1="495.7" x2="64.5" y2="521.3" stroke="#111" stroke-width="1.1" marker-end="url(#arr)"/>
<text x="51.30" y="532.90" text-anchor="middle">mature (M)</text>
<text x="138.90" y="465.30" text-anchor="middle">re-poly-adenylation</text>
<text x="138.90" y="558.70" text-anchor="middle">re-poly-adenylated</text>
<rect x="86.40" y="563.90" width="105.00" height="320.10" fill="#e0e0e0"/>
<text x="258.05" y="465.30" text-anchor="middle">de-adenylation</text>
<text x="258.05" y="558.70" text-anchor="middle">de-adenylated</text>
<rect x="205.20" y="563.90" width="105.70" height="320.10" fill="#e0e0e0"/>
<text x="369.35" y="465.30" text-anchor="middle">degradation</text>
<text x="369.35" y="558.70" text-anchor="middle">degraded</text>
<rect x="316.90" y="563.90" width="104.90" height="320.10" fill="#e0e0e0"/>
<rect x="92.20" y="570.00" width="93.70" height="21.70" fill="#69aad0"/>
<rect x="92.20" y="591.70" width="93.70" height="21.10" fill="#e98a6d"/>
<rect x="92.20" y="618.50" width="93.70" height="43.20" fill="#f5f4f2"/>
<rect x="211.30" y="570.00" width="93.40" height="21.70" fill="#e98a6d"/>
<rect x="211.30" y="591.70" width="93.40" height="21.10" fill="#69aad0"/>
<rect x="211.30" y="618.50" width="93.40" height="43.20" fill="#f5f4f2"/>
<rect x="322.80" y="570.00" width="93.20" height="21.70" fill="#e98a6d"/>
<rect x="322.80" y="591.70" width="93.20" height="21.10" fill="#69aad0"/>
<rect x="322.80" y="618.50" width="93.20" height="21.60" fill="#e98a6d"/>
<rect x="322.80" y="640.10" width="93.20" height="21.60" fill="#69aad0"/>
<path d="M108,498.7 C114,494 118,490.5 123,490.8 C131,491.5 140,498.5 148.5,498.4 C156,498.2 163,496.2 170.2,495.7" stroke="#7f7f7f" stroke-width="1.6" fill="none" stroke-linecap="round"/>
<path d="M86,538 C91,534 96,530 101.5,529.9 C110,530 116,537 124,537.3 C132,537.5 140,535.2 148.3,534.6" stroke="#7f7f7f" stroke-width="1.6" fill="none" stroke-linecap="round"/>
<path d="M210.9,496.6 C215,492 221,489.6 228,489.6 C239,489.6 245,501.5 254.3,501.3 C262,501 267,497 272.4,494.7" stroke="#7f7f7f" stroke-width="1.6" fill="none" stroke-linecap="round"/>
<path d="M227.2,531.1 C231,527 235,524.2 240.3,524.1 C251,524 260,536.5 271,536.4 C278,536.3 284,531.5 289.3,529" stroke="#7f7f7f" stroke-width="1.6" fill="none" stroke-linecap="round"/>
<path d="M323.7,487.8 C328,485 331,482.9 335.4,482.9 C344,483 348,491.8 355.9,491.7 C365,491.6 372,486.3 381.5,486.1" stroke="#7f7f7f" stroke-width="1.6" fill="none" stroke-linecap="round"/>
<path d="M339.8,530.7 C345,530.8 349,529 351.2,525.3" stroke="#7f7f7f" stroke-width="1.6" fill="none" stroke-linecap="round"/>
<path d="M353.8,519.9 C358,518.5 361,521 365.2,525.6" stroke="#7f7f7f" stroke-width="1.6" fill="none" stroke-linecap="round"/>
<path d="M363.4,532 C368,531 373,530.6 376.2,528.1" stroke="#7f7f7f" stroke-width="1.6" fill="none" stroke-linecap="round"/>
<path d="M373.1,519.7 C378,518.3 382,521 384.8,526.5" stroke="#7f7f7f" stroke-width="1.6" fill="none" stroke-linecap="round"/>
<path d="M388.5,525.5 C390,528 393,528.8 399.3,528.8" stroke="#7f7f7f" stroke-width="1.6" fill="none" stroke-linecap="round"/>
<text transform="translate(137.20,491.20) rotate(20)" text-anchor="middle" font-size="9.2" fill="#111" style="stroke:#111" font-style="italic">NNN</text>
<text transform="translate(116.00,530.80) rotate(20)" text-anchor="middle" font-size="9.2" fill="#111" style="stroke:#111" font-style="italic">NNN</text>
<text transform="translate(160.30,527.20) rotate(0)" text-anchor="middle" font-size="9.7" fill="#111" style="stroke:#111">TTT</text>
<text transform="translate(159.30,538.80) rotate(0)" text-anchor="middle" font-size="9.7" fill="#8a8a8a" style="stroke:#8a8a8a">AAA</text>
<text transform="translate(180.30,534.60) rotate(-8)" text-anchor="middle" font-size="9.0" fill="#9a9a9a" style="stroke:#9a9a9a" font-style="italic">A A</text>
<text transform="translate(226.00,487.30) rotate(0)" text-anchor="middle" font-size="9.7" fill="#111" style="stroke:#111">NNN</text>
<text transform="translate(289.00,482.40) rotate(-14)" text-anchor="middle" font-size="9.7" fill="#111" style="stroke:#111">TTT</text>
<text transform="translate(288.80,494.20) rotate(-14)" text-anchor="middle" font-size="9.7" fill="#8a8a8a" style="stroke:#8a8a8a">AAAA</text>
<text transform="translate(242.00,521.80) rotate(0)" text-anchor="middle" font-size="9.7" fill="#111" style="stroke:#111">NNN</text>
<text transform="translate(365.20,484.10) rotate(-14)" text-anchor="middle" font-size="9.7" fill="#111" style="stroke:#111">NNN</text>
<text transform="translate(402.90,484.60) rotate(10)" text-anchor="middle" font-size="9.7" fill="#111" style="stroke:#111">TTT</text>
<text transform="translate(394.80,493.80) rotate(12)" text-anchor="middle" font-size="9.7" fill="#8a8a8a" style="stroke:#8a8a8a">AAAA</text>
<text transform="translate(26.20,616.60) rotate(-90)" text-anchor="middle" font-size="9.7" fill="#9a9a9a" style="stroke:#9a9a9a">Model</text>
<text transform="translate(48.00,591.70) rotate(-90)" text-anchor="middle" font-size="9.7" fill="#111" style="stroke:#111">poly-A</text>
<text transform="translate(59.40,591.70) rotate(-90)" text-anchor="middle" font-size="9.7" fill="#111" style="stroke:#111">bias</text>
<text transform="translate(48.00,639.30) rotate(-90)" text-anchor="middle" font-size="9.7" fill="#111" style="stroke:#111">random</text>
<text transform="translate(59.40,639.30) rotate(-90)" text-anchor="middle" font-size="9.7" fill="#111" style="stroke:#111">priming</text>
<text transform="translate(73.20,581.20) rotate(-90)" text-anchor="middle" font-size="9.7" fill="#111" style="stroke:#111">I</text>
<text transform="translate(73.20,602.40) rotate(-90)" text-anchor="middle" font-size="9.7" fill="#111" style="stroke:#111">M</text>
<text transform="translate(73.20,628.80) rotate(-90)" text-anchor="middle" font-size="9.7" fill="#111" style="stroke:#111">I</text>
<text transform="translate(73.20,650.60) rotate(-90)" text-anchor="middle" font-size="9.7" fill="#111" style="stroke:#111">M</text>
<line x1="76.90" y1="571.40" x2="76.90" y2="590.60" stroke="#000" stroke-width="1.2"/>
<line x1="76.90" y1="592.90" x2="76.90" y2="611.70" stroke="#000" stroke-width="1.2"/>
<line x1="76.90" y1="619.70" x2="76.90" y2="638.50" stroke="#000" stroke-width="1.2"/>
<line x1="76.90" y1="641.10" x2="76.90" y2="660.00" stroke="#000" stroke-width="1.2"/>
<line x1="26" y1="672.2" x2="422.6" y2="672.2" stroke="#767676" stroke-width="1.8" stroke-dasharray="4 4.95"/>
<text transform="translate(26.20,757.00) rotate(-90)" text-anchor="middle" font-size="9.7" fill="#9a9a9a" style="stroke:#9a9a9a">Observations</text>
<text transform="translate(48.00,717.40) rotate(-90)" text-anchor="middle" font-size="9.7" fill="#111" style="stroke:#111">SMART-Seq2</text>
<text transform="translate(59.60,717.40) rotate(-90)" text-anchor="middle" font-size="9.7" fill="#111" style="stroke:#111">(poly-A bias)</text>
<text transform="translate(48.00,795.50) rotate(-90)" text-anchor="middle" font-size="9.7" fill="#111" style="stroke:#111">total RNA-seq</text>
<text transform="translate(59.60,795.50) rotate(-90)" text-anchor="middle" font-size="9.7" fill="#111" style="stroke:#111">(random priming)</text>
<rect x="65.90" y="682.40" width="11.70" height="35.00" fill="#8e8e8e"/>
<rect x="65.90" y="717.40" width="11.70" height="35.10" fill="#000"/>
<rect x="65.90" y="760.90" width="11.70" height="35.00" fill="#8e8e8e"/>
<rect x="65.90" y="795.90" width="11.70" height="35.00" fill="#000"/>
<rect x="92.20" y="682.30" width="12.18" height="4.02" fill="#3884bb"/>
<rect x="103.88" y="682.30" width="12.18" height="4.02" fill="#3d8cbf"/>
<rect x="115.56" y="682.30" width="12.18" height="4.02" fill="#3d8cbf"/>
<rect x="127.24" y="682.30" width="12.18" height="4.02" fill="#7eb8d7"/>
<rect x="138.92" y="682.30" width="12.18" height="4.02" fill="#a2cde2"/>
<rect x="150.60" y="682.30" width="12.18" height="4.02" fill="#c1ddec"/>
<rect x="162.28" y="682.30" width="12.18" height="4.02" fill="#c1ddec"/>
<rect x="173.96" y="682.30" width="11.68" height="4.02" fill="#de715a"/>
<rect x="92.20" y="685.81" width="12.18" height="4.02" fill="#4393c3"/>
<rect x="103.88" y="685.81" width="12.18" height="4.02" fill="#4393c3"/>
<rect x="115.56" y="685.81" width="12.18" height="4.02" fill="#327cb8"/>
<rect x="127.24" y="685.81" width="12.18" height="4.02" fill="#4393c3"/>
<rect x="138.92" y="685.81" width="12.18" height="4.02" fill="#e4eef4"/>
<rect x="150.60" y="685.81" width="12.18" height="4.02" fill="#d1e5f0"/>
<rect x="162.28" y="685.81" width="12.18" height="4.02" fill="#c1ddec"/>
<rect x="173.96" y="685.81" width="11.68" height="4.02" fill="#fbceb6"/>
<rect x="92.20" y="689.33" width="12.18" height="4.02" fill="#4393c3"/>
<rect x="103.88" y="689.33" width="12.18" height="4.02" fill="#327cb8"/>
<rect x="115.56" y="689.33" width="12.18" height="4.02" fill="#327cb8"/>
<rect x="127.24" y="689.33" width="12.18" height="4.02" fill="#4393c3"/>
<rect x="138.92" y="689.33" width="12.18" height="4.02" fill="#327cb8"/>
<rect x="150.60" y="689.33" width="12.18" height="4.02" fill="#fddbc7"/>
<rect x="162.28" y="689.33" width="12.18" height="4.02" fill="#c1ddec"/>
<rect x="173.96" y="689.33" width="11.68" height="4.02" fill="#ec9475"/>
<rect x="92.20" y="692.84" width="12.18" height="4.02" fill="#327cb8"/>
<rect x="103.88" y="692.84" width="12.18" height="4.02" fill="#57a0ca"/>
<rect x="115.56" y="692.84" width="12.18" height="4.02" fill="#3d8cbf"/>
<rect x="127.24" y="692.84" width="12.18" height="4.02" fill="#4393c3"/>
<rect x="138.92" y="692.84" width="12.18" height="4.02" fill="#e4eef4"/>
<rect x="150.60" y="692.84" width="12.18" height="4.02" fill="#e4eef4"/>
<rect x="162.28" y="692.84" width="12.18" height="4.02" fill="#92c5de"/>
<rect x="173.96" y="692.84" width="11.68" height="4.02" fill="#f6b293"/>
<rect x="92.20" y="696.36" width="12.18" height="4.02" fill="#2166ac"/>
<rect x="103.88" y="696.36" width="12.18" height="4.02" fill="#7eb8d7"/>
<rect x="115.56" y="696.36" width="12.18" height="4.02" fill="#92c5de"/>
<rect x="127.24" y="696.36" width="12.18" height="4.02" fill="#4393c3"/>
<rect x="138.92" y="696.36" width="12.18" height="4.02" fill="#e4eef4"/>
<rect x="150.60" y="696.36" width="12.18" height="4.02" fill="#b2d5e7"/>
<rect x="162.28" y="696.36" width="12.18" height="4.02" fill="#92c5de"/>
<rect x="173.96" y="696.36" width="11.68" height="4.02" fill="#de715a"/>
<rect x="92.20" y="699.88" width="12.18" height="4.02" fill="#4393c3"/>
<rect x="103.88" y="699.88" width="12.18" height="4.02" fill="#134b86"/>
<rect x="115.56" y="699.88" width="12.18" height="4.02" fill="#053061"/>
<rect x="127.24" y="699.88" width="12.18" height="4.02" fill="#327cb8"/>
<rect x="138.92" y="699.88" width="12.18" height="4.02" fill="#d1e5f0"/>
<rect x="150.60" y="699.88" width="12.18" height="4.02" fill="#fae9df"/>
<rect x="162.28" y="699.88" width="12.18" height="4.02" fill="#a2cde2"/>
<rect x="173.96" y="699.88" width="11.68" height="4.02" fill="#ec9475"/>
<rect x="92.20" y="703.39" width="12.18" height="4.02" fill="#3884bb"/>
<rect x="103.88" y="703.39" width="12.18" height="4.02" fill="#3d8cbf"/>
<rect x="115.56" y="703.39" width="12.18" height="4.02" fill="#3d8cbf"/>
<rect x="127.24" y="703.39" width="12.18" height="4.02" fill="#3d8cbf"/>
<rect x="138.92" y="703.39" width="12.18" height="4.02" fill="#f8f0eb"/>
<rect x="150.60" y="703.39" width="12.18" height="4.02" fill="#e4eef4"/>
<rect x="162.28" y="703.39" width="12.18" height="4.02" fill="#d1e5f0"/>
<rect x="173.96" y="703.39" width="11.68" height="4.02" fill="#b82431"/>
<rect x="92.20" y="706.90" width="12.18" height="4.02" fill="#3d8cbf"/>
<rect x="103.88" y="706.90" width="12.18" height="4.02" fill="#3d8cbf"/>
<rect x="115.56" y="706.90" width="12.18" height="4.02" fill="#3884bb"/>
<rect x="127.24" y="706.90" width="12.18" height="4.02" fill="#3884bb"/>
<rect x="138.92" y="706.90" width="12.18" height="4.02" fill="#d1e5f0"/>
<rect x="150.60" y="706.90" width="12.18" height="4.02" fill="#d1e5f0"/>
<rect x="162.28" y="706.90" width="12.18" height="4.02" fill="#92c5de"/>
<rect x="173.96" y="706.90" width="11.68" height="4.02" fill="#de715a"/>
<rect x="92.20" y="710.42" width="12.18" height="4.02" fill="#3884bb"/>
<rect x="103.88" y="710.42" width="12.18" height="4.02" fill="#3d8cbf"/>
<rect x="115.56" y="710.42" width="12.18" height="4.02" fill="#3884bb"/>
<rect x="127.24" y="710.42" width="12.18" height="4.02" fill="#57a0ca"/>
<rect x="138.92" y="710.42" width="12.18" height="4.02" fill="#eef2f5"/>
<rect x="150.60" y="710.42" width="12.18" height="4.02" fill="#d1e5f0"/>
<rect x="162.28" y="710.42" width="12.18" height="4.02" fill="#c1ddec"/>
<rect x="173.96" y="710.42" width="11.68" height="4.02" fill="#e4eef4"/>
<rect x="92.20" y="713.93" width="12.18" height="4.02" fill="#92c5de"/>
<rect x="103.88" y="713.93" width="12.18" height="4.02" fill="#327cb8"/>
<rect x="115.56" y="713.93" width="12.18" height="4.02" fill="#276eb0"/>
<rect x="127.24" y="713.93" width="12.18" height="4.02" fill="#7eb8d7"/>
<rect x="138.92" y="713.93" width="12.18" height="4.02" fill="#f8f0eb"/>
<rect x="150.60" y="713.93" width="12.18" height="4.02" fill="#fbceb6"/>
<rect x="162.28" y="713.93" width="12.18" height="4.02" fill="#d1e5f0"/>
<rect x="173.96" y="713.93" width="11.68" height="4.02" fill="#eef2f5"/>
<rect x="92.20" y="717.45" width="12.18" height="4.02" fill="#de715a"/>
<rect x="103.88" y="717.45" width="12.18" height="4.02" fill="#de715a"/>
<rect x="115.56" y="717.45" width="12.18" height="4.02" fill="#d05447"/>
<rect x="127.24" y="717.45" width="12.18" height="4.02" fill="#de715a"/>
<rect x="138.92" y="717.45" width="12.18" height="4.02" fill="#fbceb6"/>
<rect x="150.60" y="717.45" width="12.18" height="4.02" fill="#fddbc7"/>
<rect x="162.28" y="717.45" width="12.18" height="4.02" fill="#f4a582"/>
<rect x="173.96" y="717.45" width="11.68" height="4.02" fill="#053061"/>
<rect x="92.20" y="720.96" width="12.18" height="4.02" fill="#b2182b"/>
<rect x="103.88" y="720.96" width="12.18" height="4.02" fill="#b2182b"/>
<rect x="115.56" y="720.96" width="12.18" height="4.02" fill="#8c0c25"/>
<rect x="127.24" y="720.96" width="12.18" height="4.02" fill="#b2182b"/>
<rect x="138.92" y="720.96" width="12.18" height="4.02" fill="#fbceb6"/>
<rect x="150.60" y="720.96" width="12.18" height="4.02" fill="#fddbc7"/>
<rect x="162.28" y="720.96" width="12.18" height="4.02" fill="#f4a582"/>
<rect x="173.96" y="720.96" width="11.68" height="4.02" fill="#2166ac"/>
<rect x="92.20" y="724.48" width="12.18" height="4.02" fill="#ec9475"/>
<rect x="103.88" y="724.48" width="12.18" height="4.02" fill="#f7f7f7"/>
<rect x="115.56" y="724.48" width="12.18" height="4.02" fill="#d1e5f0"/>
<rect x="127.24" y="724.48" width="12.18" height="4.02" fill="#f8c0a4"/>
<rect x="138.92" y="724.48" width="12.18" height="4.02" fill="#e4eef4"/>
<rect x="150.60" y="724.48" width="12.18" height="4.02" fill="#6aacd0"/>
<rect x="162.28" y="724.48" width="12.18" height="4.02" fill="#f7f7f7"/>
<rect x="173.96" y="724.48" width="11.68" height="4.02" fill="#053061"/>
<rect x="92.20" y="728.00" width="12.18" height="4.02" fill="#ec9475"/>
<rect x="103.88" y="728.00" width="12.18" height="4.02" fill="#b2182b"/>
<rect x="115.56" y="728.00" width="12.18" height="4.02" fill="#be3036"/>
<rect x="127.24" y="728.00" width="12.18" height="4.02" fill="#de715a"/>
<rect x="138.92" y="728.00" width="12.18" height="4.02" fill="#f6b293"/>
<rect x="150.60" y="728.00" width="12.18" height="4.02" fill="#e4eef4"/>
<rect x="162.28" y="728.00" width="12.18" height="4.02" fill="#f8f0eb"/>
<rect x="173.96" y="728.00" width="11.68" height="4.02" fill="#6aacd0"/>
<rect x="92.20" y="731.51" width="12.18" height="4.02" fill="#be3036"/>
<rect x="103.88" y="731.51" width="12.18" height="4.02" fill="#e58268"/>
<rect x="115.56" y="731.51" width="12.18" height="4.02" fill="#ec9475"/>
<rect x="127.24" y="731.51" width="12.18" height="4.02" fill="#de715a"/>
<rect x="138.92" y="731.51" width="12.18" height="4.02" fill="#fbceb6"/>
<rect x="150.60" y="731.51" width="12.18" height="4.02" fill="#f7f7f7"/>
<rect x="162.28" y="731.51" width="12.18" height="4.02" fill="#fae9df"/>
<rect x="173.96" y="731.51" width="11.68" height="4.02" fill="#2166ac"/>
<rect x="92.20" y="735.02" width="12.18" height="4.02" fill="#f7f7f7"/>
<rect x="103.88" y="735.02" width="12.18" height="4.02" fill="#be3036"/>
<rect x="115.56" y="735.02" width="12.18" height="4.02" fill="#e58268"/>
<rect x="127.24" y="735.02" width="12.18" height="4.02" fill="#fddbc7"/>
<rect x="138.92" y="735.02" width="12.18" height="4.02" fill="#fddbc7"/>
<rect x="150.60" y="735.02" width="12.18" height="4.02" fill="#b2d5e7"/>
<rect x="162.28" y="735.02" width="12.18" height="4.02" fill="#c1ddec"/>
<rect x="173.96" y="735.02" width="11.68" height="4.02" fill="#f4a582"/>
<rect x="92.20" y="738.54" width="12.18" height="4.02" fill="#b2182b"/>
<rect x="103.88" y="738.54" width="12.18" height="4.02" fill="#b2182b"/>
<rect x="115.56" y="738.54" width="12.18" height="4.02" fill="#7a0622"/>
<rect x="127.24" y="738.54" width="12.18" height="4.02" fill="#8c0c25"/>
<rect x="138.92" y="738.54" width="12.18" height="4.02" fill="#f4a582"/>
<rect x="150.60" y="738.54" width="12.18" height="4.02" fill="#f4a582"/>
<rect x="162.28" y="738.54" width="12.18" height="4.02" fill="#de715a"/>
<rect x="173.96" y="738.54" width="11.68" height="4.02" fill="#2166ac"/>
<rect x="92.20" y="742.05" width="12.18" height="4.02" fill="#fbceb6"/>
<rect x="103.88" y="742.05" width="12.18" height="4.02" fill="#e58268"/>
<rect x="115.56" y="742.05" width="12.18" height="4.02" fill="#be3036"/>
<rect x="127.24" y="742.05" width="12.18" height="4.02" fill="#f7f7f7"/>
<rect x="138.92" y="742.05" width="12.18" height="4.02" fill="#f6b293"/>
<rect x="150.60" y="742.05" width="12.18" height="4.02" fill="#fddbc7"/>
<rect x="162.28" y="742.05" width="12.18" height="4.02" fill="#e4eef4"/>
<rect x="173.96" y="742.05" width="11.68" height="4.02" fill="#f6b293"/>
<rect x="92.20" y="745.57" width="12.18" height="4.02" fill="#b2182b"/>
<rect x="103.88" y="745.57" width="12.18" height="4.02" fill="#e58268"/>
<rect x="115.56" y="745.57" width="12.18" height="4.02" fill="#ec9475"/>
<rect x="127.24" y="745.57" width="12.18" height="4.02" fill="#d05447"/>
<rect x="138.92" y="745.57" width="12.18" height="4.02" fill="#3884bb"/>
<rect x="150.60" y="745.57" width="12.18" height="4.02" fill="#f8c0a4"/>
<rect x="162.28" y="745.57" width="12.18" height="4.02" fill="#f8c0a4"/>
<rect x="173.96" y="745.57" width="11.68" height="4.02" fill="#c1ddec"/>
<rect x="92.20" y="749.08" width="12.18" height="3.52" fill="#de715a"/>
<rect x="103.88" y="749.08" width="12.18" height="3.52" fill="#d05447"/>
<rect x="115.56" y="749.08" width="12.18" height="3.52" fill="#ca4842"/>
<rect x="127.24" y="749.08" width="12.18" height="3.52" fill="#de715a"/>
<rect x="138.92" y="749.08" width="12.18" height="3.52" fill="#f8c0a4"/>
<rect x="150.60" y="749.08" width="12.18" height="3.52" fill="#f6b293"/>
<rect x="162.28" y="749.08" width="12.18" height="3.52" fill="#f6b293"/>
<rect x="173.96" y="749.08" width="11.68" height="3.52" fill="#3884bb"/>
<rect x="92.20" y="760.20" width="12.18" height="3.98" fill="#eef2f5"/>
<rect x="103.88" y="760.20" width="12.18" height="3.98" fill="#eef2f5"/>
<rect x="115.56" y="760.20" width="12.18" height="3.98" fill="#f8f4f2"/>
<rect x="127.24" y="760.20" width="12.18" height="3.98" fill="#daeaf2"/>
<rect x="138.92" y="760.20" width="12.18" height="3.98" fill="#c1ddec"/>
<rect x="150.60" y="760.20" width="12.18" height="3.98" fill="#f7f7f7"/>
<rect x="162.28" y="760.20" width="12.18" height="3.98" fill="#e4eef4"/>
<rect x="173.96" y="760.20" width="11.68" height="3.98" fill="#fce2d3"/>
<rect x="92.20" y="763.68" width="12.18" height="3.98" fill="#f7f7f7"/>
<rect x="103.88" y="763.68" width="12.18" height="3.98" fill="#eef2f5"/>
<rect x="115.56" y="763.68" width="12.18" height="3.98" fill="#e8f0f4"/>
<rect x="127.24" y="763.68" width="12.18" height="3.98" fill="#eef2f5"/>
<rect x="138.92" y="763.68" width="12.18" height="3.98" fill="#f8f4f2"/>
<rect x="150.60" y="763.68" width="12.18" height="3.98" fill="#eef2f5"/>
<rect x="162.28" y="763.68" width="12.18" height="3.98" fill="#eef2f5"/>
<rect x="173.96" y="763.68" width="11.68" height="3.98" fill="#f7f7f7"/>
<rect x="92.20" y="767.15" width="12.18" height="3.98" fill="#eef2f5"/>
<rect x="103.88" y="767.15" width="12.18" height="3.98" fill="#f7f7f7"/>
<rect x="115.56" y="767.15" width="12.18" height="3.98" fill="#f8f0eb"/>
<rect x="127.24" y="767.15" width="12.18" height="3.98" fill="#f7f7f7"/>
<rect x="138.92" y="767.15" width="12.18" height="3.98" fill="#f9ece4"/>
<rect x="150.60" y="767.15" width="12.18" height="3.98" fill="#eef2f5"/>
<rect x="162.28" y="767.15" width="12.18" height="3.98" fill="#f8f0eb"/>
<rect x="173.96" y="767.15" width="11.68" height="3.98" fill="#daeaf2"/>
<rect x="92.20" y="770.62" width="12.18" height="3.98" fill="#daeaf2"/>
<rect x="103.88" y="770.62" width="12.18" height="3.98" fill="#9ac9e0"/>
<rect x="115.56" y="770.62" width="12.18" height="3.98" fill="#aad1e5"/>
<rect x="127.24" y="770.62" width="12.18" height="3.98" fill="#9ac9e0"/>
<rect x="138.92" y="770.62" width="12.18" height="3.98" fill="#eef2f5"/>
<rect x="150.60" y="770.62" width="12.18" height="3.98" fill="#e4eef4"/>
<rect x="162.28" y="770.62" width="12.18" height="3.98" fill="#d1e5f0"/>
<rect x="173.96" y="770.62" width="11.68" height="3.98" fill="#fae9df"/>
<rect x="92.20" y="774.10" width="12.18" height="3.98" fill="#daeaf2"/>
<rect x="103.88" y="774.10" width="12.18" height="3.98" fill="#f7f7f7"/>
<rect x="115.56" y="774.10" width="12.18" height="3.98" fill="#f7f7f7"/>
<rect x="127.24" y="774.10" width="12.18" height="3.98" fill="#e4eef4"/>
<rect x="138.92" y="774.10" width="12.18" height="3.98" fill="#f8f4f2"/>
<rect x="150.60" y="774.10" width="12.18" height="3.98" fill="#e4eef4"/>
<rect x="162.28" y="774.10" width="12.18" height="3.98" fill="#f7f7f7"/>
<rect x="173.96" y="774.10" width="11.68" height="3.98" fill="#c9e1ee"/>
<rect x="92.20" y="777.58" width="12.18" height="3.98" fill="#eef2f5"/>
<rect x="103.88" y="777.58" width="12.18" height="3.98" fill="#fce2d3"/>
<rect x="115.56" y="777.58" width="12.18" height="3.98" fill="#fddbc7"/>
<rect x="127.24" y="777.58" width="12.18" height="3.98" fill="#e4eef4"/>
<rect x="138.92" y="777.58" width="12.18" height="3.98" fill="#f8f0eb"/>
<rect x="150.60" y="777.58" width="12.18" height="3.98" fill="#fae9df"/>
<rect x="162.28" y="777.58" width="12.18" height="3.98" fill="#eef2f5"/>
<rect x="173.96" y="777.58" width="11.68" height="3.98" fill="#f7f7f7"/>
<rect x="92.20" y="781.05" width="12.18" height="3.98" fill="#f7f7f7"/>
<rect x="103.88" y="781.05" width="12.18" height="3.98" fill="#fce2d3"/>
<rect x="115.56" y="781.05" width="12.18" height="3.98" fill="#f8f0eb"/>
<rect x="127.24" y="781.05" width="12.18" height="3.98" fill="#f7f7f7"/>
<rect x="138.92" y="781.05" width="12.18" height="3.98" fill="#f8f0eb"/>
<rect x="150.60" y="781.05" width="12.18" height="3.98" fill="#eef2f5"/>
<rect x="162.28" y="781.05" width="12.18" height="3.98" fill="#fae9df"/>
<rect x="173.96" y="781.05" width="11.68" height="3.98" fill="#f7f7f7"/>
<rect x="92.20" y="784.53" width="12.18" height="3.98" fill="#f8f4f2"/>
<rect x="103.88" y="784.53" width="12.18" height="3.98" fill="#fce2d3"/>
<rect x="115.56" y="784.53" width="12.18" height="3.98" fill="#daeaf2"/>
<rect x="127.24" y="784.53" width="12.18" height="3.98" fill="#fddbc7"/>
<rect x="138.92" y="784.53" width="12.18" height="3.98" fill="#fce2d3"/>
<rect x="150.60" y="784.53" width="12.18" height="3.98" fill="#fddbc7"/>
<rect x="162.28" y="784.53" width="12.18" height="3.98" fill="#eef2f5"/>
<rect x="173.96" y="784.53" width="11.68" height="3.98" fill="#fbceb6"/>
<rect x="92.20" y="788.00" width="12.18" height="3.98" fill="#f7f7f7"/>
<rect x="103.88" y="788.00" width="12.18" height="3.98" fill="#f8f0eb"/>
<rect x="115.56" y="788.00" width="12.18" height="3.98" fill="#f7f7f7"/>
<rect x="127.24" y="788.00" width="12.18" height="3.98" fill="#d1e5f0"/>
<rect x="138.92" y="788.00" width="12.18" height="3.98" fill="#fddbc7"/>
<rect x="150.60" y="788.00" width="12.18" height="3.98" fill="#eef2f5"/>
<rect x="162.28" y="788.00" width="12.18" height="3.98" fill="#f7f7f7"/>
<rect x="173.96" y="788.00" width="11.68" height="3.98" fill="#f7f7f7"/>
<rect x="92.20" y="791.48" width="12.18" height="3.98" fill="#fae9df"/>
<rect x="103.88" y="791.48" width="12.18" height="3.98" fill="#fce2d3"/>
<rect x="115.56" y="791.48" width="12.18" height="3.98" fill="#f8f0eb"/>
<rect x="127.24" y="791.48" width="12.18" height="3.98" fill="#eef2f5"/>
<rect x="138.92" y="791.48" width="12.18" height="3.98" fill="#eef2f5"/>
<rect x="150.60" y="791.48" width="12.18" height="3.98" fill="#fce2d3"/>
<rect x="162.28" y="791.48" width="12.18" height="3.98" fill="#fae9df"/>
<rect x="173.96" y="791.48" width="11.68" height="3.98" fill="#f8f0eb"/>
<rect x="92.20" y="794.95" width="12.18" height="3.98" fill="#f7f7f7"/>
<rect x="103.88" y="794.95" width="12.18" height="3.98" fill="#e4eef4"/>
<rect x="115.56" y="794.95" width="12.18" height="3.98" fill="#f7f7f7"/>
<rect x="127.24" y="794.95" width="12.18" height="3.98" fill="#fae9df"/>
<rect x="138.92" y="794.95" width="12.18" height="3.98" fill="#fae9df"/>
<rect x="150.60" y="794.95" width="12.18" height="3.98" fill="#f7f7f7"/>
<rect x="162.28" y="794.95" width="12.18" height="3.98" fill="#f7f7f7"/>
<rect x="173.96" y="794.95" width="11.68" height="3.98" fill="#eef2f5"/>
<rect x="92.20" y="798.43" width="12.18" height="3.98" fill="#f8f0eb"/>
<rect x="103.88" y="798.43" width="12.18" height="3.98" fill="#e4eef4"/>
<rect x="115.56" y="798.43" width="12.18" height="3.98" fill="#f8f0eb"/>
<rect x="127.24" y="798.43" width="12.18" height="3.98" fill="#f8f0eb"/>
<rect x="138.92" y="798.43" width="12.18" height="3.98" fill="#daeaf2"/>
<rect x="150.60" y="798.43" width="12.18" height="3.98" fill="#eef2f5"/>
<rect x="162.28" y="798.43" width="12.18" height="3.98" fill="#f8f0eb"/>
<rect x="173.96" y="798.43" width="11.68" height="3.98" fill="#f7f7f7"/>
<rect x="92.20" y="801.90" width="12.18" height="3.98" fill="#f8f0eb"/>
<rect x="103.88" y="801.90" width="12.18" height="3.98" fill="#e4eef4"/>
<rect x="115.56" y="801.90" width="12.18" height="3.98" fill="#e4eef4"/>
<rect x="127.24" y="801.90" width="12.18" height="3.98" fill="#f8f0eb"/>
<rect x="138.92" y="801.90" width="12.18" height="3.98" fill="#d1e5f0"/>
<rect x="150.60" y="801.90" width="12.18" height="3.98" fill="#eef2f5"/>
<rect x="162.28" y="801.90" width="12.18" height="3.98" fill="#f7f7f7"/>
<rect x="173.96" y="801.90" width="11.68" height="3.98" fill="#eef2f5"/>
<rect x="92.20" y="805.38" width="12.18" height="3.98" fill="#f7f7f7"/>
<rect x="103.88" y="805.38" width="12.18" height="3.98" fill="#eef2f5"/>
<rect x="115.56" y="805.38" width="12.18" height="3.98" fill="#f7f7f7"/>
<rect x="127.24" y="805.38" width="12.18" height="3.98" fill="#eef2f5"/>
<rect x="138.92" y="805.38" width="12.18" height="3.98" fill="#f7f7f7"/>
<rect x="150.60" y="805.38" width="12.18" height="3.98" fill="#eef2f5"/>
<rect x="162.28" y="805.38" width="12.18" height="3.98" fill="#fae9df"/>
<rect x="173.96" y="805.38" width="11.68" height="3.98" fill="#f7f7f7"/>
<rect x="92.20" y="808.85" width="12.18" height="3.98" fill="#f7f7f7"/>
<rect x="103.88" y="808.85" width="12.18" height="3.98" fill="#daeaf2"/>
<rect x="115.56" y="808.85" width="12.18" height="3.98" fill="#daeaf2"/>
<rect x="127.24" y="808.85" width="12.18" height="3.98" fill="#f7f7f7"/>
<rect x="138.92" y="808.85" width="12.18" height="3.98" fill="#eef2f5"/>
<rect x="150.60" y="808.85" width="12.18" height="3.98" fill="#f7f7f7"/>
<rect x="162.28" y="808.85" width="12.18" height="3.98" fill="#f7f7f7"/>
<rect x="173.96" y="808.85" width="11.68" height="3.98" fill="#f7f7f7"/>
<rect x="92.20" y="812.33" width="12.18" height="3.98" fill="#f7f7f7"/>
<rect x="103.88" y="812.33" width="12.18" height="3.98" fill="#e4eef4"/>
<rect x="115.56" y="812.33" width="12.18" height="3.98" fill="#daeaf2"/>
<rect x="127.24" y="812.33" width="12.18" height="3.98" fill="#fae9df"/>
<rect x="138.92" y="812.33" width="12.18" height="3.98" fill="#eef2f5"/>
<rect x="150.60" y="812.33" width="12.18" height="3.98" fill="#f7f7f7"/>
<rect x="162.28" y="812.33" width="12.18" height="3.98" fill="#daeaf2"/>
<rect x="173.96" y="812.33" width="11.68" height="3.98" fill="#f7f7f7"/>
<rect x="92.20" y="815.80" width="12.18" height="3.98" fill="#f8f0eb"/>
<rect x="103.88" y="815.80" width="12.18" height="3.98" fill="#eef2f5"/>
<rect x="115.56" y="815.80" width="12.18" height="3.98" fill="#f7f7f7"/>
<rect x="127.24" y="815.80" width="12.18" height="3.98" fill="#fae9df"/>
<rect x="138.92" y="815.80" width="12.18" height="3.98" fill="#eef2f5"/>
<rect x="150.60" y="815.80" width="12.18" height="3.98" fill="#f7f7f7"/>
<rect x="162.28" y="815.80" width="12.18" height="3.98" fill="#f7f7f7"/>
<rect x="173.96" y="815.80" width="11.68" height="3.98" fill="#f7f7f7"/>
<rect x="92.20" y="819.28" width="12.18" height="3.98" fill="#f8f0eb"/>
<rect x="103.88" y="819.28" width="12.18" height="3.98" fill="#f7f7f7"/>
<rect x="115.56" y="819.28" width="12.18" height="3.98" fill="#f7f7f7"/>
<rect x="127.24" y="819.28" width="12.18" height="3.98" fill="#f8f0eb"/>
<rect x="138.92" y="819.28" width="12.18" height="3.98" fill="#f7f7f7"/>
<rect x="150.60" y="819.28" width="12.18" height="3.98" fill="#f8f0eb"/>
<rect x="162.28" y="819.28" width="12.18" height="3.98" fill="#f8f0eb"/>
<rect x="173.96" y="819.28" width="11.68" height="3.98" fill="#f7f7f7"/>
<rect x="92.20" y="822.75" width="12.18" height="3.98" fill="#fce2d3"/>
<rect x="103.88" y="822.75" width="12.18" height="3.98" fill="#e4eef4"/>
<rect x="115.56" y="822.75" width="12.18" height="3.98" fill="#c9e1ee"/>
<rect x="127.24" y="822.75" width="12.18" height="3.98" fill="#fce2d3"/>
<rect x="138.92" y="822.75" width="12.18" height="3.98" fill="#eef2f5"/>
<rect x="150.60" y="822.75" width="12.18" height="3.98" fill="#f7f7f7"/>
<rect x="162.28" y="822.75" width="12.18" height="3.98" fill="#fae9df"/>
<rect x="173.96" y="822.75" width="11.68" height="3.98" fill="#eef2f5"/>
<rect x="92.20" y="826.23" width="12.18" height="3.48" fill="#eef2f5"/>
<rect x="103.88" y="826.23" width="12.18" height="3.48" fill="#fae9df"/>
<rect x="115.56" y="826.23" width="12.18" height="3.48" fill="#fae9df"/>
<rect x="127.24" y="826.23" width="12.18" height="3.48" fill="#f7f7f7"/>
<rect x="138.92" y="826.23" width="12.18" height="3.48" fill="#fae9df"/>
<rect x="150.60" y="826.23" width="12.18" height="3.48" fill="#eef2f5"/>
<rect x="162.28" y="826.23" width="12.18" height="3.48" fill="#f8f0eb"/>
<rect x="173.96" y="826.23" width="11.68" height="3.48" fill="#eef2f5"/>
<rect x="211.30" y="682.30" width="12.18" height="4.02" fill="#7a0622"/>
<rect x="222.98" y="682.30" width="12.18" height="4.02" fill="#8c0c25"/>
<rect x="234.66" y="682.30" width="12.18" height="4.02" fill="#f4a582"/>
<rect x="246.34" y="682.30" width="12.18" height="4.02" fill="#d05447"/>
<rect x="258.02" y="682.30" width="12.18" height="4.02" fill="#fbceb6"/>
<rect x="269.70" y="682.30" width="12.18" height="4.02" fill="#fae9df"/>
<rect x="281.38" y="682.30" width="12.18" height="4.02" fill="#d1e5f0"/>
<rect x="293.06" y="682.30" width="11.68" height="4.02" fill="#0c3e74"/>
<rect x="211.30" y="685.81" width="12.18" height="4.02" fill="#67001f"/>
<rect x="222.98" y="685.81" width="12.18" height="4.02" fill="#8c0c25"/>
<rect x="234.66" y="685.81" width="12.18" height="4.02" fill="#f4a582"/>
<rect x="246.34" y="685.81" width="12.18" height="4.02" fill="#d05447"/>
<rect x="258.02" y="685.81" width="12.18" height="4.02" fill="#fbceb6"/>
<rect x="269.70" y="685.81" width="12.18" height="4.02" fill="#d1e5f0"/>
<rect x="281.38" y="685.81" width="12.18" height="4.02" fill="#a2cde2"/>
<rect x="293.06" y="685.81" width="11.68" height="4.02" fill="#2c75b4"/>
<rect x="211.30" y="689.33" width="12.18" height="4.02" fill="#67001f"/>
<rect x="222.98" y="689.33" width="12.18" height="4.02" fill="#d05447"/>
<rect x="234.66" y="689.33" width="12.18" height="4.02" fill="#f4a582"/>
<rect x="246.34" y="689.33" width="12.18" height="4.02" fill="#c43c3c"/>
<rect x="258.02" y="689.33" width="12.18" height="4.02" fill="#fbceb6"/>
<rect x="269.70" y="689.33" width="12.18" height="4.02" fill="#d1e5f0"/>
<rect x="281.38" y="689.33" width="12.18" height="4.02" fill="#7eb8d7"/>
<rect x="293.06" y="689.33" width="11.68" height="4.02" fill="#2c75b4"/>
<rect x="211.30" y="692.84" width="12.18" height="4.02" fill="#67001f"/>
<rect x="222.98" y="692.84" width="12.18" height="4.02" fill="#8c0c25"/>
<rect x="234.66" y="692.84" width="12.18" height="4.02" fill="#fbceb6"/>
<rect x="246.34" y="692.84" width="12.18" height="4.02" fill="#d05447"/>
<rect x="258.02" y="692.84" width="12.18" height="4.02" fill="#ec9475"/>
<rect x="269.70" y="692.84" width="12.18" height="4.02" fill="#c1ddec"/>
<rect x="281.38" y="692.84" width="12.18" height="4.02" fill="#fae9df"/>
<rect x="293.06" y="692.84" width="11.68" height="4.02" fill="#276eb0"/>
<rect x="211.30" y="696.36" width="12.18" height="4.02" fill="#67001f"/>
<rect x="222.98" y="696.36" width="12.18" height="4.02" fill="#7a0622"/>
<rect x="234.66" y="696.36" width="12.18" height="4.02" fill="#7a0622"/>
<rect x="246.34" y="696.36" width="12.18" height="4.02" fill="#7a0622"/>
<rect x="258.02" y="696.36" width="12.18" height="4.02" fill="#f6b293"/>
<rect x="269.70" y="696.36" width="12.18" height="4.02" fill="#f8c0a4"/>
<rect x="281.38" y="696.36" width="12.18" height="4.02" fill="#fbceb6"/>
<rect x="293.06" y="696.36" width="11.68" height="4.02" fill="#2c75b4"/>
<rect x="211.30" y="699.88" width="12.18" height="4.02" fill="#67001f"/>
<rect x="222.98" y="699.88" width="12.18" height="4.02" fill="#9f1228"/>
<rect x="234.66" y="699.88" width="12.18" height="4.02" fill="#f7f7f7"/>
<rect x="246.34" y="699.88" width="12.18" height="4.02" fill="#d6604d"/>
<rect x="258.02" y="699.88" width="12.18" height="4.02" fill="#fbceb6"/>
<rect x="269.70" y="699.88" width="12.18" height="4.02" fill="#e4eef4"/>
<rect x="281.38" y="699.88" width="12.18" height="4.02" fill="#6aacd0"/>
<rect x="293.06" y="699.88" width="11.68" height="4.02" fill="#0c3e74"/>
<rect x="211.30" y="703.39" width="12.18" height="4.02" fill="#67001f"/>
<rect x="222.98" y="703.39" width="12.18" height="4.02" fill="#b2182b"/>
<rect x="234.66" y="703.39" width="12.18" height="4.02" fill="#d6604d"/>
<rect x="246.34" y="703.39" width="12.18" height="4.02" fill="#e58268"/>
<rect x="258.02" y="703.39" width="12.18" height="4.02" fill="#fbceb6"/>
<rect x="269.70" y="703.39" width="12.18" height="4.02" fill="#f7f7f7"/>
<rect x="281.38" y="703.39" width="12.18" height="4.02" fill="#c1ddec"/>
<rect x="293.06" y="703.39" width="11.68" height="4.02" fill="#276eb0"/>
<rect x="211.30" y="706.90" width="12.18" height="4.02" fill="#7a0622"/>
<rect x="222.98" y="706.90" width="12.18" height="4.02" fill="#b2182b"/>
<rect x="234.66" y="706.90" width="12.18" height="4.02" fill="#fbceb6"/>
<rect x="246.34" y="706.90" width="12.18" height="4.02" fill="#ec9475"/>
<rect x="258.02" y="706.90" width="12.18" height="4.02" fill="#f8c0a4"/>
<rect x="269.70" y="706.90" width="12.18" height="4.02" fill="#e4eef4"/>
<rect x="281.38" y="706.90" width="12.18" height="4.02" fill="#c1ddec"/>
<rect x="293.06" y="706.90" width="11.68" height="4.02" fill="#2c75b4"/>
<rect x="211.30" y="710.42" width="12.18" height="4.02" fill="#67001f"/>
<rect x="222.98" y="710.42" width="12.18" height="4.02" fill="#b2182b"/>
<rect x="234.66" y="710.42" width="12.18" height="4.02" fill="#f4a582"/>
<rect x="246.34" y="710.42" width="12.18" height="4.02" fill="#ec9475"/>
<rect x="258.02" y="710.42" width="12.18" height="4.02" fill="#f8c0a4"/>
<rect x="269.70" y="710.42" width="12.18" height="4.02" fill="#d1e5f0"/>
<rect x="281.38" y="710.42" width="12.18" height="4.02" fill="#b2d5e7"/>
<rect x="293.06" y="710.42" width="11.68" height="4.02" fill="#276eb0"/>
<rect x="211.30" y="713.93" width="12.18" height="4.02" fill="#7a0622"/>
<rect x="222.98" y="713.93" width="12.18" height="4.02" fill="#f8c0a4"/>
<rect x="234.66" y="713.93" width="12.18" height="4.02" fill="#e58268"/>
<rect x="246.34" y="713.93" width="12.18" height="4.02" fill="#e58268"/>
<rect x="258.02" y="713.93" width="12.18" height="4.02" fill="#fbceb6"/>
<rect x="269.70" y="713.93" width="12.18" height="4.02" fill="#d1e5f0"/>
<rect x="281.38" y="713.93" width="12.18" height="4.02" fill="#b2d5e7"/>
<rect x="293.06" y="713.93" width="11.68" height="4.02" fill="#0c3e74"/>
<rect x="211.30" y="717.45" width="12.18" height="4.02" fill="#053061"/>
<rect x="222.98" y="717.45" width="12.18" height="4.02" fill="#053061"/>
<rect x="234.66" y="717.45" width="12.18" height="4.02" fill="#053061"/>
<rect x="246.34" y="717.45" width="12.18" height="4.02" fill="#f8c0a4"/>
<rect x="258.02" y="717.45" width="12.18" height="4.02" fill="#c1ddec"/>
<rect x="269.70" y="717.45" width="12.18" height="4.02" fill="#e4eef4"/>
<rect x="281.38" y="717.45" width="12.18" height="4.02" fill="#92c5de"/>
<rect x="293.06" y="717.45" width="11.68" height="4.02" fill="#d05447"/>
<rect x="211.30" y="720.96" width="12.18" height="4.02" fill="#053061"/>
<rect x="222.98" y="720.96" width="12.18" height="4.02" fill="#053061"/>
<rect x="234.66" y="720.96" width="12.18" height="4.02" fill="#053061"/>
<rect x="246.34" y="720.96" width="12.18" height="4.02" fill="#327cb8"/>
<rect x="258.02" y="720.96" width="12.18" height="4.02" fill="#3d8cbf"/>
<rect x="269.70" y="720.96" width="12.18" height="4.02" fill="#7eb8d7"/>
<rect x="281.38" y="720.96" width="12.18" height="4.02" fill="#e4eef4"/>
<rect x="293.06" y="720.96" width="11.68" height="4.02" fill="#9f1228"/>
<rect x="211.30" y="724.48" width="12.18" height="4.02" fill="#053061"/>
<rect x="222.98" y="724.48" width="12.18" height="4.02" fill="#e4eef4"/>
<rect x="234.66" y="724.48" width="12.18" height="4.02" fill="#a2cde2"/>
<rect x="246.34" y="724.48" width="12.18" height="4.02" fill="#4393c3"/>
<rect x="258.02" y="724.48" width="12.18" height="4.02" fill="#fbceb6"/>
<rect x="269.70" y="724.48" width="12.18" height="4.02" fill="#f6b293"/>
<rect x="281.38" y="724.48" width="12.18" height="4.02" fill="#f4a582"/>
<rect x="293.06" y="724.48" width="11.68" height="4.02" fill="#7a0622"/>
<rect x="211.30" y="728.00" width="12.18" height="4.02" fill="#4393c3"/>
<rect x="222.98" y="728.00" width="12.18" height="4.02" fill="#053061"/>
<rect x="234.66" y="728.00" width="12.18" height="4.02" fill="#a2cde2"/>
<rect x="246.34" y="728.00" width="12.18" height="4.02" fill="#276eb0"/>
<rect x="258.02" y="728.00" width="12.18" height="4.02" fill="#fddbc7"/>
<rect x="269.70" y="728.00" width="12.18" height="4.02" fill="#fae9df"/>
<rect x="281.38" y="728.00" width="12.18" height="4.02" fill="#f4a582"/>
<rect x="293.06" y="728.00" width="11.68" height="4.02" fill="#fddbc7"/>
<rect x="211.30" y="731.51" width="12.18" height="4.02" fill="#053061"/>
<rect x="222.98" y="731.51" width="12.18" height="4.02" fill="#053061"/>
<rect x="234.66" y="731.51" width="12.18" height="4.02" fill="#053061"/>
<rect x="246.34" y="731.51" width="12.18" height="4.02" fill="#c1ddec"/>
<rect x="258.02" y="731.51" width="12.18" height="4.02" fill="#f7f7f7"/>
<rect x="269.70" y="731.51" width="12.18" height="4.02" fill="#f4a582"/>
<rect x="281.38" y="731.51" width="12.18" height="4.02" fill="#f4a582"/>
<rect x="293.06" y="731.51" width="11.68" height="4.02" fill="#7a0622"/>
<rect x="211.30" y="735.02" width="12.18" height="4.02" fill="#276eb0"/>
<rect x="222.98" y="735.02" width="12.18" height="4.02" fill="#7eb8d7"/>
<rect x="234.66" y="735.02" width="12.18" height="4.02" fill="#7eb8d7"/>
<rect x="246.34" y="735.02" width="12.18" height="4.02" fill="#053061"/>
<rect x="258.02" y="735.02" width="12.18" height="4.02" fill="#e4eef4"/>
<rect x="269.70" y="735.02" width="12.18" height="4.02" fill="#c1ddec"/>
<rect x="281.38" y="735.02" width="12.18" height="4.02" fill="#d05447"/>
<rect x="293.06" y="735.02" width="11.68" height="4.02" fill="#f7f7f7"/>
<rect x="211.30" y="738.54" width="12.18" height="4.02" fill="#053061"/>
<rect x="222.98" y="738.54" width="12.18" height="4.02" fill="#053061"/>
<rect x="234.66" y="738.54" width="12.18" height="4.02" fill="#053061"/>
<rect x="246.34" y="738.54" width="12.18" height="4.02" fill="#2166ac"/>
<rect x="258.02" y="738.54" width="12.18" height="4.02" fill="#3d8cbf"/>
<rect x="269.70" y="738.54" width="12.18" height="4.02" fill="#7eb8d7"/>
<rect x="281.38" y="738.54" width="12.18" height="4.02" fill="#e4eef4"/>
<rect x="293.06" y="738.54" width="11.68" height="4.02" fill="#d05447"/>
<rect x="211.30" y="742.05" width="12.18" height="4.02" fill="#327cb8"/>
<rect x="222.98" y="742.05" width="12.18" height="4.02" fill="#327cb8"/>
<rect x="234.66" y="742.05" width="12.18" height="4.02" fill="#3d8cbf"/>
<rect x="246.34" y="742.05" width="12.18" height="4.02" fill="#4393c3"/>
<rect x="258.02" y="742.05" width="12.18" height="4.02" fill="#f8c0a4"/>
<rect x="269.70" y="742.05" width="12.18" height="4.02" fill="#f6b293"/>
<rect x="281.38" y="742.05" width="12.18" height="4.02" fill="#fbceb6"/>
<rect x="293.06" y="742.05" width="11.68" height="4.02" fill="#f7f7f7"/>
<rect x="211.30" y="745.57" width="12.18" height="4.02" fill="#053061"/>
<rect x="222.98" y="745.57" width="12.18" height="4.02" fill="#053061"/>
<rect x="234.66" y="745.57" width="12.18" height="4.02" fill="#f7f7f7"/>
<rect x="246.34" y="745.57" width="12.18" height="4.02" fill="#053061"/>
<rect x="258.02" y="745.57" width="12.18" height="4.02" fill="#3d8cbf"/>
<rect x="269.70" y="745.57" width="12.18" height="4.02" fill="#d1e5f0"/>
<rect x="281.38" y="745.57" width="12.18" height="4.02" fill="#f7f7f7"/>
<rect x="293.06" y="745.57" width="11.68" height="4.02" fill="#b2182b"/>
<rect x="211.30" y="749.08" width="12.18" height="3.52" fill="#053061"/>
<rect x="222.98" y="749.08" width="12.18" height="3.52" fill="#053061"/>
<rect x="234.66" y="749.08" width="12.18" height="3.52" fill="#053061"/>
<rect x="246.34" y="749.08" width="12.18" height="3.52" fill="#053061"/>
<rect x="258.02" y="749.08" width="12.18" height="3.52" fill="#92c5de"/>
<rect x="269.70" y="749.08" width="12.18" height="3.52" fill="#92c5de"/>
<rect x="281.38" y="749.08" width="12.18" height="3.52" fill="#c1ddec"/>
<rect x="293.06" y="749.08" width="11.68" height="3.52" fill="#b2182b"/>
<rect x="211.30" y="760.20" width="12.18" height="3.98" fill="#fae9df"/>
<rect x="222.98" y="760.20" width="12.18" height="3.98" fill="#fce2d3"/>
<rect x="234.66" y="760.20" width="12.18" height="3.98" fill="#e4eef4"/>
<rect x="246.34" y="760.20" width="12.18" height="3.98" fill="#b2d5e7"/>
<rect x="258.02" y="760.20" width="12.18" height="3.98" fill="#f8f0eb"/>
<rect x="269.70" y="760.20" width="12.18" height="3.98" fill="#f7f7f7"/>
<rect x="281.38" y="760.20" width="12.18" height="3.98" fill="#daeaf2"/>
<rect x="293.06" y="760.20" width="11.68" height="3.98" fill="#f8c0a4"/>
<rect x="211.30" y="763.68" width="12.18" height="3.98" fill="#f7f7f7"/>
<rect x="222.98" y="763.68" width="12.18" height="3.98" fill="#eef2f5"/>
<rect x="234.66" y="763.68" width="12.18" height="3.98" fill="#f7f7f7"/>
<rect x="246.34" y="763.68" width="12.18" height="3.98" fill="#fce2d3"/>
<rect x="258.02" y="763.68" width="12.18" height="3.98" fill="#fae9df"/>
<rect x="269.70" y="763.68" width="12.18" height="3.98" fill="#b9d9e9"/>
<rect x="281.38" y="763.68" width="12.18" height="3.98" fill="#d1e5f0"/>
<rect x="293.06" y="763.68" width="11.68" height="3.98" fill="#f7f7f7"/>
<rect x="211.30" y="767.15" width="12.18" height="3.98" fill="#e4eef4"/>
<rect x="222.98" y="767.15" width="12.18" height="3.98" fill="#f7f7f7"/>
<rect x="234.66" y="767.15" width="12.18" height="3.98" fill="#e4eef4"/>
<rect x="246.34" y="767.15" width="12.18" height="3.98" fill="#d1e5f0"/>
<rect x="258.02" y="767.15" width="12.18" height="3.98" fill="#eef2f5"/>
<rect x="269.70" y="767.15" width="12.18" height="3.98" fill="#f7f7f7"/>
<rect x="281.38" y="767.15" width="12.18" height="3.98" fill="#d1e5f0"/>
<rect x="293.06" y="767.15" width="11.68" height="3.98" fill="#ca4842"/>
<rect x="211.30" y="770.62" width="12.18" height="3.98" fill="#f8f0eb"/>
<rect x="222.98" y="770.62" width="12.18" height="3.98" fill="#fbceb6"/>
<rect x="234.66" y="770.62" width="12.18" height="3.98" fill="#f8f0eb"/>
<rect x="246.34" y="770.62" width="12.18" height="3.98" fill="#327cb8"/>
<rect x="258.02" y="770.62" width="12.18" height="3.98" fill="#fce2d3"/>
<rect x="269.70" y="770.62" width="12.18" height="3.98" fill="#a2cde2"/>
<rect x="281.38" y="770.62" width="12.18" height="3.98" fill="#327cb8"/>
<rect x="293.06" y="770.62" width="11.68" height="3.98" fill="#6aacd0"/>
<rect x="211.30" y="774.10" width="12.18" height="3.98" fill="#f8f0eb"/>
<rect x="222.98" y="774.10" width="12.18" height="3.98" fill="#fae9df"/>
<rect x="234.66" y="774.10" width="12.18" height="3.98" fill="#f7f7f7"/>
<rect x="246.34" y="774.10" width="12.18" height="3.98" fill="#fbceb6"/>
<rect x="258.02" y="774.10" width="12.18" height="3.98" fill="#daeaf2"/>
<rect x="269.70" y="774.10" width="12.18" height="3.98" fill="#fbceb6"/>
<rect x="281.38" y="774.10" width="12.18" height="3.98" fill="#fae9df"/>
<rect x="293.06" y="774.10" width="11.68" height="3.98" fill="#f7f7f7"/>
<rect x="211.30" y="777.58" width="12.18" height="3.98" fill="#fddbc7"/>
<rect x="222.98" y="777.58" width="12.18" height="3.98" fill="#fae9df"/>
<rect x="234.66" y="777.58" width="12.18" height="3.98" fill="#daeaf2"/>
<rect x="246.34" y="777.58" width="12.18" height="3.98" fill="#daeaf2"/>
<rect x="258.02" y="777.58" width="12.18" height="3.98" fill="#f7f7f7"/>
<rect x="269.70" y="777.58" width="12.18" height="3.98" fill="#fbceb6"/>
<rect x="281.38" y="777.58" width="12.18" height="3.98" fill="#fddbc7"/>
<rect x="293.06" y="777.58" width="11.68" height="3.98" fill="#f7f7f7"/>
<rect x="211.30" y="781.05" width="12.18" height="3.98" fill="#eef2f5"/>
<rect x="222.98" y="781.05" width="12.18" height="3.98" fill="#f8f0eb"/>
<rect x="234.66" y="781.05" width="12.18" height="3.98" fill="#f8f0eb"/>
<rect x="246.34" y="781.05" width="12.18" height="3.98" fill="#f7f7f7"/>
<rect x="258.02" y="781.05" width="12.18" height="3.98" fill="#f7f7f7"/>
<rect x="269.70" y="781.05" width="12.18" height="3.98" fill="#fcd4be"/>
<rect x="281.38" y="781.05" width="12.18" height="3.98" fill="#fddbc7"/>
<rect x="293.06" y="781.05" width="11.68" height="3.98" fill="#f7b99c"/>
<rect x="211.30" y="784.53" width="12.18" height="3.98" fill="#b9d9e9"/>
<rect x="222.98" y="784.53" width="12.18" height="3.98" fill="#c9e1ee"/>
<rect x="234.66" y="784.53" width="12.18" height="3.98" fill="#eef2f5"/>
<rect x="246.34" y="784.53" width="12.18" height="3.98" fill="#aad1e5"/>
<rect x="258.02" y="784.53" width="12.18" height="3.98" fill="#f8f0eb"/>
<rect x="269.70" y="784.53" width="12.18" height="3.98" fill="#f7f7f7"/>
<rect x="281.38" y="784.53" width="12.18" height="3.98" fill="#fddbc7"/>
<rect x="293.06" y="784.53" width="11.68" height="3.98" fill="#f7f7f7"/>
<rect x="211.30" y="788.00" width="12.18" height="3.98" fill="#daeaf2"/>
<rect x="222.98" y="788.00" width="12.18" height="3.98" fill="#fae9df"/>
<rect x="234.66" y="788.00" width="12.18" height="3.98" fill="#e4eef4"/>
<rect x="246.34" y="788.00" width="12.18" height="3.98" fill="#eef2f5"/>
<rect x="258.02" y="788.00" width="12.18" height="3.98" fill="#f7f7f7"/>
<rect x="269.70" y="788.00" width="12.18" height="3.98" fill="#eef2f5"/>
<rect x="281.38" y="788.00" width="12.18" height="3.98" fill="#fddbc7"/>
<rect x="293.06" y="788.00" width="11.68" height="3.98" fill="#f6b293"/>
<rect x="211.30" y="791.48" width="12.18" height="3.98" fill="#fae9df"/>
<rect x="222.98" y="791.48" width="12.18" height="3.98" fill="#f8f0eb"/>
<rect x="234.66" y="791.48" width="12.18" height="3.98" fill="#e4eef4"/>
<rect x="246.34" y="791.48" width="12.18" height="3.98" fill="#fae9df"/>
<rect x="258.02" y="791.48" width="12.18" height="3.98" fill="#f7f7f7"/>
<rect x="269.70" y="791.48" width="12.18" height="3.98" fill="#eef2f5"/>
<rect x="281.38" y="791.48" width="12.18" height="3.98" fill="#fae9df"/>
<rect x="293.06" y="791.48" width="11.68" height="3.98" fill="#6aacd0"/>
<rect x="211.30" y="794.95" width="12.18" height="3.98" fill="#e4eef4"/>
<rect x="222.98" y="794.95" width="12.18" height="3.98" fill="#eef2f5"/>
<rect x="234.66" y="794.95" width="12.18" height="3.98" fill="#eef2f5"/>
<rect x="246.34" y="794.95" width="12.18" height="3.98" fill="#eef2f5"/>
<rect x="258.02" y="794.95" width="12.18" height="3.98" fill="#f8f0eb"/>
<rect x="269.70" y="794.95" width="12.18" height="3.98" fill="#eef2f5"/>
<rect x="281.38" y="794.95" width="12.18" height="3.98" fill="#eef2f5"/>
<rect x="293.06" y="794.95" width="11.68" height="3.98" fill="#fddbc7"/>
<rect x="211.30" y="798.43" width="12.18" height="3.98" fill="#eef2f5"/>
<rect x="222.98" y="798.43" width="12.18" height="3.98" fill="#eef2f5"/>
<rect x="234.66" y="798.43" width="12.18" height="3.98" fill="#f8f0eb"/>
<rect x="246.34" y="798.43" width="12.18" height="3.98" fill="#f7f7f7"/>
<rect x="258.02" y="798.43" width="12.18" height="3.98" fill="#eef2f5"/>
<rect x="269.70" y="798.43" width="12.18" height="3.98" fill="#e4eef4"/>
<rect x="281.38" y="798.43" width="12.18" height="3.98" fill="#c1ddec"/>
<rect x="293.06" y="798.43" width="11.68" height="3.98" fill="#e4eef4"/>
<rect x="211.30" y="801.90" width="12.18" height="3.98" fill="#eef2f5"/>
<rect x="222.98" y="801.90" width="12.18" height="3.98" fill="#eef2f5"/>
<rect x="234.66" y="801.90" width="12.18" height="3.98" fill="#eef2f5"/>
<rect x="246.34" y="801.90" width="12.18" height="3.98" fill="#fddbc7"/>
<rect x="258.02" y="801.90" width="12.18" height="3.98" fill="#f7f7f7"/>
<rect x="269.70" y="801.90" width="12.18" height="3.98" fill="#e4eef4"/>
<rect x="281.38" y="801.90" width="12.18" height="3.98" fill="#f7f7f7"/>
<rect x="293.06" y="801.90" width="11.68" height="3.98" fill="#3884bb"/>
<rect x="211.30" y="805.38" width="12.18" height="3.98" fill="#eef2f5"/>
<rect x="222.98" y="805.38" width="12.18" height="3.98" fill="#eef2f5"/>
<rect x="234.66" y="805.38" width="12.18" height="3.98" fill="#f7f7f7"/>
<rect x="246.34" y="805.38" width="12.18" height="3.98" fill="#e4eef4"/>
<rect x="258.02" y="805.38" width="12.18" height="3.98" fill="#f7f7f7"/>
<rect x="269.70" y="805.38" width="12.18" height="3.98" fill="#f7f7f7"/>
<rect x="281.38" y="805.38" width="12.18" height="3.98" fill="#eef2f5"/>
<rect x="293.06" y="805.38" width="11.68" height="3.98" fill="#3884bb"/>
<rect x="211.30" y="808.85" width="12.18" height="3.98" fill="#fae9df"/>
<rect x="222.98" y="808.85" width="12.18" height="3.98" fill="#f8f0eb"/>
<rect x="234.66" y="808.85" width="12.18" height="3.98" fill="#eef2f5"/>
<rect x="246.34" y="808.85" width="12.18" height="3.98" fill="#fae9df"/>
<rect x="258.02" y="808.85" width="12.18" height="3.98" fill="#eef2f5"/>
<rect x="269.70" y="808.85" width="12.18" height="3.98" fill="#f7f7f7"/>
<rect x="281.38" y="808.85" width="12.18" height="3.98" fill="#c1ddec"/>
<rect x="293.06" y="808.85" width="11.68" height="3.98" fill="#fddbc7"/>
<rect x="211.30" y="812.33" width="12.18" height="3.98" fill="#f7f7f7"/>
<rect x="222.98" y="812.33" width="12.18" height="3.98" fill="#f7f7f7"/>
<rect x="234.66" y="812.33" width="12.18" height="3.98" fill="#eef2f5"/>
<rect x="246.34" y="812.33" width="12.18" height="3.98" fill="#f7f7f7"/>
<rect x="258.02" y="812.33" width="12.18" height="3.98" fill="#f7f7f7"/>
<rect x="269.70" y="812.33" width="12.18" height="3.98" fill="#eef2f5"/>
<rect x="281.38" y="812.33" width="12.18" height="3.98" fill="#f7f7f7"/>
<rect x="293.06" y="812.33" width="11.68" height="3.98" fill="#e4eef4"/>
<rect x="211.30" y="815.80" width="12.18" height="3.98" fill="#fddbc7"/>
<rect x="222.98" y="815.80" width="12.18" height="3.98" fill="#f7f7f7"/>
<rect x="234.66" y="815.80" width="12.18" height="3.98" fill="#d1e5f0"/>
<rect x="246.34" y="815.80" width="12.18" height="3.98" fill="#c9e1ee"/>
<rect x="258.02" y="815.80" width="12.18" height="3.98" fill="#f7f7f7"/>
<rect x="269.70" y="815.80" width="12.18" height="3.98" fill="#eef2f5"/>
<rect x="281.38" y="815.80" width="12.18" height="3.98" fill="#e4eef4"/>
<rect x="293.06" y="815.80" width="11.68" height="3.98" fill="#e4eef4"/>
<rect x="211.30" y="819.28" width="12.18" height="3.98" fill="#fae9df"/>
<rect x="222.98" y="819.28" width="12.18" height="3.98" fill="#eef2f5"/>
<rect x="234.66" y="819.28" width="12.18" height="3.98" fill="#eef2f5"/>
<rect x="246.34" y="819.28" width="12.18" height="3.98" fill="#fcd4be"/>
<rect x="258.02" y="819.28" width="12.18" height="3.98" fill="#f7f7f7"/>
<rect x="269.70" y="819.28" width="12.18" height="3.98" fill="#e4eef4"/>
<rect x="281.38" y="819.28" width="12.18" height="3.98" fill="#f7f7f7"/>
<rect x="293.06" y="819.28" width="11.68" height="3.98" fill="#3884bb"/>
<rect x="211.30" y="822.75" width="12.18" height="3.98" fill="#f7f7f7"/>
<rect x="222.98" y="822.75" width="12.18" height="3.98" fill="#eef2f5"/>
<rect x="234.66" y="822.75" width="12.18" height="3.98" fill="#daeaf2"/>
<rect x="246.34" y="822.75" width="12.18" height="3.98" fill="#daeaf2"/>
<rect x="258.02" y="822.75" width="12.18" height="3.98" fill="#eef2f5"/>
<rect x="269.70" y="822.75" width="12.18" height="3.98" fill="#eef2f5"/>
<rect x="281.38" y="822.75" width="12.18" height="3.98" fill="#f7f7f7"/>
<rect x="293.06" y="822.75" width="11.68" height="3.98" fill="#3884bb"/>
<rect x="211.30" y="826.23" width="12.18" height="3.48" fill="#fddbc7"/>
<rect x="222.98" y="826.23" width="12.18" height="3.48" fill="#eef2f5"/>
<rect x="234.66" y="826.23" width="12.18" height="3.48" fill="#fae9df"/>
<rect x="246.34" y="826.23" width="12.18" height="3.48" fill="#daeaf2"/>
<rect x="258.02" y="826.23" width="12.18" height="3.48" fill="#f7f7f7"/>
<rect x="269.70" y="826.23" width="12.18" height="3.48" fill="#f7f7f7"/>
<rect x="281.38" y="826.23" width="12.18" height="3.48" fill="#f7f7f7"/>
<rect x="293.06" y="826.23" width="11.68" height="3.48" fill="#fbceb6"/>
<rect x="322.80" y="682.30" width="12.18" height="4.02" fill="#d05447"/>
<rect x="334.48" y="682.30" width="12.18" height="4.02" fill="#d05447"/>
<rect x="346.16" y="682.30" width="12.18" height="4.02" fill="#f8c0a4"/>
<rect x="357.84" y="682.30" width="12.18" height="4.02" fill="#f6b293"/>
<rect x="369.52" y="682.30" width="12.18" height="4.02" fill="#b2182b"/>
<rect x="381.20" y="682.30" width="12.18" height="4.02" fill="#9f1228"/>
<rect x="392.88" y="682.30" width="12.18" height="4.02" fill="#67001f"/>
<rect x="404.56" y="682.30" width="11.68" height="4.02" fill="#fae9df"/>
<rect x="322.80" y="685.81" width="12.18" height="4.02" fill="#ec9475"/>
<rect x="334.48" y="685.81" width="12.18" height="4.02" fill="#ec9475"/>
<rect x="346.16" y="685.81" width="12.18" height="4.02" fill="#fae9df"/>
<rect x="357.84" y="685.81" width="12.18" height="4.02" fill="#e4eef4"/>
<rect x="369.52" y="685.81" width="12.18" height="4.02" fill="#e58268"/>
<rect x="381.20" y="685.81" width="12.18" height="4.02" fill="#f7f7f7"/>
<rect x="392.88" y="685.81" width="12.18" height="4.02" fill="#ca4842"/>
<rect x="404.56" y="685.81" width="11.68" height="4.02" fill="#fae9df"/>
<rect x="322.80" y="689.33" width="12.18" height="4.02" fill="#ec9475"/>
<rect x="334.48" y="689.33" width="12.18" height="4.02" fill="#e58268"/>
<rect x="346.16" y="689.33" width="12.18" height="4.02" fill="#fbceb6"/>
<rect x="357.84" y="689.33" width="12.18" height="4.02" fill="#f7f7f7"/>
<rect x="369.52" y="689.33" width="12.18" height="4.02" fill="#de715a"/>
<rect x="381.20" y="689.33" width="12.18" height="4.02" fill="#8c0c25"/>
<rect x="392.88" y="689.33" width="12.18" height="4.02" fill="#d6604d"/>
<rect x="404.56" y="689.33" width="11.68" height="4.02" fill="#b2d5e7"/>
<rect x="322.80" y="692.84" width="12.18" height="4.02" fill="#de715a"/>
<rect x="334.48" y="692.84" width="12.18" height="4.02" fill="#e58268"/>
<rect x="346.16" y="692.84" width="12.18" height="4.02" fill="#fbceb6"/>
<rect x="357.84" y="692.84" width="12.18" height="4.02" fill="#f6b293"/>
<rect x="369.52" y="692.84" width="12.18" height="4.02" fill="#de715a"/>
<rect x="381.20" y="692.84" width="12.18" height="4.02" fill="#f6b293"/>
<rect x="392.88" y="692.84" width="12.18" height="4.02" fill="#67001f"/>
<rect x="404.56" y="692.84" width="11.68" height="4.02" fill="#e4eef4"/>
<rect x="322.80" y="696.36" width="12.18" height="4.02" fill="#e58268"/>
<rect x="334.48" y="696.36" width="12.18" height="4.02" fill="#ec9475"/>
<rect x="346.16" y="696.36" width="12.18" height="4.02" fill="#fbceb6"/>
<rect x="357.84" y="696.36" width="12.18" height="4.02" fill="#f4a582"/>
<rect x="369.52" y="696.36" width="12.18" height="4.02" fill="#67001f"/>
<rect x="381.20" y="696.36" width="12.18" height="4.02" fill="#f8c0a4"/>
<rect x="392.88" y="696.36" width="12.18" height="4.02" fill="#67001f"/>
<rect x="404.56" y="696.36" width="11.68" height="4.02" fill="#e4eef4"/>
<rect x="322.80" y="699.88" width="12.18" height="4.02" fill="#ca4842"/>
<rect x="334.48" y="699.88" width="12.18" height="4.02" fill="#d05447"/>
<rect x="346.16" y="699.88" width="12.18" height="4.02" fill="#f8c0a4"/>
<rect x="357.84" y="699.88" width="12.18" height="4.02" fill="#fbceb6"/>
<rect x="369.52" y="699.88" width="12.18" height="4.02" fill="#67001f"/>
<rect x="381.20" y="699.88" width="12.18" height="4.02" fill="#b82431"/>
<rect x="392.88" y="699.88" width="12.18" height="4.02" fill="#f8c0a4"/>
<rect x="404.56" y="699.88" width="11.68" height="4.02" fill="#c1ddec"/>
<rect x="322.80" y="703.39" width="12.18" height="4.02" fill="#de715a"/>
<rect x="334.48" y="703.39" width="12.18" height="4.02" fill="#ec9475"/>
<rect x="346.16" y="703.39" width="12.18" height="4.02" fill="#fddbc7"/>
<rect x="357.84" y="703.39" width="12.18" height="4.02" fill="#fae9df"/>
<rect x="369.52" y="703.39" width="12.18" height="4.02" fill="#d05447"/>
<rect x="381.20" y="703.39" width="12.18" height="4.02" fill="#b2182b"/>
<rect x="392.88" y="703.39" width="12.18" height="4.02" fill="#67001f"/>
<rect x="404.56" y="703.39" width="11.68" height="4.02" fill="#d1e5f0"/>
<rect x="322.80" y="706.90" width="12.18" height="4.02" fill="#de715a"/>
<rect x="334.48" y="706.90" width="12.18" height="4.02" fill="#ec9475"/>
<rect x="346.16" y="706.90" width="12.18" height="4.02" fill="#fbceb6"/>
<rect x="357.84" y="706.90" width="12.18" height="4.02" fill="#fae9df"/>
<rect x="369.52" y="706.90" width="12.18" height="4.02" fill="#b2182b"/>
<rect x="381.20" y="706.90" width="12.18" height="4.02" fill="#8c0c25"/>
<rect x="392.88" y="706.90" width="12.18" height="4.02" fill="#67001f"/>
<rect x="404.56" y="706.90" width="11.68" height="4.02" fill="#e4eef4"/>
<rect x="322.80" y="710.42" width="12.18" height="4.02" fill="#f6b293"/>
<rect x="334.48" y="710.42" width="12.18" height="4.02" fill="#f4a582"/>
<rect x="346.16" y="710.42" width="12.18" height="4.02" fill="#fae9df"/>
<rect x="357.84" y="710.42" width="12.18" height="4.02" fill="#fae9df"/>
<rect x="369.52" y="710.42" width="12.18" height="4.02" fill="#b2182b"/>
<rect x="381.20" y="710.42" width="12.18" height="4.02" fill="#7a0622"/>
<rect x="392.88" y="710.42" width="12.18" height="4.02" fill="#67001f"/>
<rect x="404.56" y="710.42" width="11.68" height="4.02" fill="#c1ddec"/>
<rect x="322.80" y="713.93" width="12.18" height="4.02" fill="#d6604d"/>
<rect x="334.48" y="713.93" width="12.18" height="4.02" fill="#de715a"/>
<rect x="346.16" y="713.93" width="12.18" height="4.02" fill="#fae9df"/>
<rect x="357.84" y="713.93" width="12.18" height="4.02" fill="#f7f7f7"/>
<rect x="369.52" y="713.93" width="12.18" height="4.02" fill="#f4a582"/>
<rect x="381.20" y="713.93" width="12.18" height="4.02" fill="#f4a582"/>
<rect x="392.88" y="713.93" width="12.18" height="4.02" fill="#c43c3c"/>
<rect x="404.56" y="713.93" width="11.68" height="4.02" fill="#f7f7f7"/>
<rect x="322.80" y="717.45" width="12.18" height="4.02" fill="#7eb8d7"/>
<rect x="334.48" y="717.45" width="12.18" height="4.02" fill="#eef2f5"/>
<rect x="346.16" y="717.45" width="12.18" height="4.02" fill="#fddbc7"/>
<rect x="357.84" y="717.45" width="12.18" height="4.02" fill="#e4eef4"/>
<rect x="369.52" y="717.45" width="12.18" height="4.02" fill="#053061"/>
<rect x="381.20" y="717.45" width="12.18" height="4.02" fill="#327cb8"/>
<rect x="392.88" y="717.45" width="12.18" height="4.02" fill="#053061"/>
<rect x="404.56" y="717.45" width="11.68" height="4.02" fill="#c1ddec"/>
<rect x="322.80" y="720.96" width="12.18" height="4.02" fill="#7eb8d7"/>
<rect x="334.48" y="720.96" width="12.18" height="4.02" fill="#327cb8"/>
<rect x="346.16" y="720.96" width="12.18" height="4.02" fill="#c1ddec"/>
<rect x="357.84" y="720.96" width="12.18" height="4.02" fill="#eef2f5"/>
<rect x="369.52" y="720.96" width="12.18" height="4.02" fill="#053061"/>
<rect x="381.20" y="720.96" width="12.18" height="4.02" fill="#327cb8"/>
<rect x="392.88" y="720.96" width="12.18" height="4.02" fill="#053061"/>
<rect x="404.56" y="720.96" width="11.68" height="4.02" fill="#de715a"/>
<rect x="322.80" y="724.48" width="12.18" height="4.02" fill="#053061"/>
<rect x="334.48" y="724.48" width="12.18" height="4.02" fill="#053061"/>
<rect x="346.16" y="724.48" width="12.18" height="4.02" fill="#a2cde2"/>
<rect x="357.84" y="724.48" width="12.18" height="4.02" fill="#57a0ca"/>
<rect x="369.52" y="724.48" width="12.18" height="4.02" fill="#053061"/>
<rect x="381.20" y="724.48" width="12.18" height="4.02" fill="#57a0ca"/>
<rect x="392.88" y="724.48" width="12.18" height="4.02" fill="#053061"/>
<rect x="404.56" y="724.48" width="11.68" height="4.02" fill="#a2cde2"/>
<rect x="322.80" y="728.00" width="12.18" height="4.02" fill="#7eb8d7"/>
<rect x="334.48" y="728.00" width="12.18" height="4.02" fill="#e4eef4"/>
<rect x="346.16" y="728.00" width="12.18" height="4.02" fill="#eef2f5"/>
<rect x="357.84" y="728.00" width="12.18" height="4.02" fill="#fae9df"/>
<rect x="369.52" y="728.00" width="12.18" height="4.02" fill="#1a5999"/>
<rect x="381.20" y="728.00" width="12.18" height="4.02" fill="#327cb8"/>
<rect x="392.88" y="728.00" width="12.18" height="4.02" fill="#053061"/>
<rect x="404.56" y="728.00" width="11.68" height="4.02" fill="#d1e5f0"/>
<rect x="322.80" y="731.51" width="12.18" height="4.02" fill="#1a5999"/>
<rect x="334.48" y="731.51" width="12.18" height="4.02" fill="#276eb0"/>
<rect x="346.16" y="731.51" width="12.18" height="4.02" fill="#d1e5f0"/>
<rect x="357.84" y="731.51" width="12.18" height="4.02" fill="#92c5de"/>
<rect x="369.52" y="731.51" width="12.18" height="4.02" fill="#2c75b4"/>
<rect x="381.20" y="731.51" width="12.18" height="4.02" fill="#053061"/>
<rect x="392.88" y="731.51" width="12.18" height="4.02" fill="#327cb8"/>
<rect x="404.56" y="731.51" width="11.68" height="4.02" fill="#e4eef4"/>
<rect x="322.80" y="735.02" width="12.18" height="4.02" fill="#7eb8d7"/>
<rect x="334.48" y="735.02" width="12.18" height="4.02" fill="#d1e5f0"/>
<rect x="346.16" y="735.02" width="12.18" height="4.02" fill="#d1e5f0"/>
<rect x="357.84" y="735.02" width="12.18" height="4.02" fill="#e4eef4"/>
<rect x="369.52" y="735.02" width="12.18" height="4.02" fill="#e4eef4"/>
<rect x="381.20" y="735.02" width="12.18" height="4.02" fill="#57a0ca"/>
<rect x="392.88" y="735.02" width="12.18" height="4.02" fill="#327cb8"/>
<rect x="404.56" y="735.02" width="11.68" height="4.02" fill="#e4eef4"/>
<rect x="322.80" y="738.54" width="12.18" height="4.02" fill="#3884bb"/>
<rect x="334.48" y="738.54" width="12.18" height="4.02" fill="#276eb0"/>
<rect x="346.16" y="738.54" width="12.18" height="4.02" fill="#6aacd0"/>
<rect x="357.84" y="738.54" width="12.18" height="4.02" fill="#92c5de"/>
<rect x="369.52" y="738.54" width="12.18" height="4.02" fill="#053061"/>
<rect x="381.20" y="738.54" width="12.18" height="4.02" fill="#053061"/>
<rect x="392.88" y="738.54" width="12.18" height="4.02" fill="#276eb0"/>
<rect x="404.56" y="738.54" width="11.68" height="4.02" fill="#57a0ca"/>
<rect x="322.80" y="742.05" width="12.18" height="4.02" fill="#3d8cbf"/>
<rect x="334.48" y="742.05" width="12.18" height="4.02" fill="#f8f0eb"/>
<rect x="346.16" y="742.05" width="12.18" height="4.02" fill="#f8c0a4"/>
<rect x="357.84" y="742.05" width="12.18" height="4.02" fill="#eef2f5"/>
<rect x="369.52" y="742.05" width="12.18" height="4.02" fill="#3884bb"/>
<rect x="381.20" y="742.05" width="12.18" height="4.02" fill="#327cb8"/>
<rect x="392.88" y="742.05" width="12.18" height="4.02" fill="#7eb8d7"/>
<rect x="404.56" y="742.05" width="11.68" height="4.02" fill="#57a0ca"/>
<rect x="322.80" y="745.57" width="12.18" height="4.02" fill="#327cb8"/>
<rect x="334.48" y="745.57" width="12.18" height="4.02" fill="#2166ac"/>
<rect x="346.16" y="745.57" width="12.18" height="4.02" fill="#7eb8d7"/>
<rect x="357.84" y="745.57" width="12.18" height="4.02" fill="#7eb8d7"/>
<rect x="369.52" y="745.57" width="12.18" height="4.02" fill="#0c3e74"/>
<rect x="381.20" y="745.57" width="12.18" height="4.02" fill="#2c75b4"/>
<rect x="392.88" y="745.57" width="12.18" height="4.02" fill="#3884bb"/>
<rect x="404.56" y="745.57" width="11.68" height="4.02" fill="#b2d5e7"/>
<rect x="322.80" y="749.08" width="12.18" height="3.52" fill="#e4eef4"/>
<rect x="334.48" y="749.08" width="12.18" height="3.52" fill="#2c75b4"/>
<rect x="346.16" y="749.08" width="12.18" height="3.52" fill="#a2cde2"/>
<rect x="357.84" y="749.08" width="12.18" height="3.52" fill="#6aacd0"/>
<rect x="369.52" y="749.08" width="12.18" height="3.52" fill="#57a0ca"/>
<rect x="381.20" y="749.08" width="12.18" height="3.52" fill="#0c3e74"/>
<rect x="392.88" y="749.08" width="12.18" height="3.52" fill="#053061"/>
<rect x="404.56" y="749.08" width="11.68" height="3.52" fill="#b2d5e7"/>
<rect x="322.80" y="760.20" width="12.18" height="3.98" fill="#fcd4be"/>
<rect x="334.48" y="760.20" width="12.18" height="3.98" fill="#fbceb6"/>
<rect x="346.16" y="760.20" width="12.18" height="3.98" fill="#fce2d3"/>
<rect x="357.84" y="760.20" width="12.18" height="3.98" fill="#fac7ad"/>
<rect x="369.52" y="760.20" width="12.18" height="3.98" fill="#fae9df"/>
<rect x="381.20" y="760.20" width="12.18" height="3.98" fill="#fce2d3"/>
<rect x="392.88" y="760.20" width="12.18" height="3.98" fill="#fae9df"/>
<rect x="404.56" y="760.20" width="11.68" height="3.98" fill="#fddbc7"/>
<rect x="322.80" y="763.68" width="12.18" height="3.98" fill="#fce2d3"/>
<rect x="334.48" y="763.68" width="12.18" height="3.98" fill="#fce2d3"/>
<rect x="346.16" y="763.68" width="12.18" height="3.98" fill="#eef2f5"/>
<rect x="357.84" y="763.68" width="12.18" height="3.98" fill="#fae9df"/>
<rect x="369.52" y="763.68" width="12.18" height="3.98" fill="#f1f4f6"/>
<rect x="381.20" y="763.68" width="12.18" height="3.98" fill="#f7f7f7"/>
<rect x="392.88" y="763.68" width="12.18" height="3.98" fill="#eef2f5"/>
<rect x="404.56" y="763.68" width="11.68" height="3.98" fill="#e4eef4"/>
<rect x="322.80" y="767.15" width="12.18" height="3.98" fill="#fce2d3"/>
<rect x="334.48" y="767.15" width="12.18" height="3.98" fill="#fce2d3"/>
<rect x="346.16" y="767.15" width="12.18" height="3.98" fill="#f7f7f7"/>
<rect x="357.84" y="767.15" width="12.18" height="3.98" fill="#fce2d3"/>
<rect x="369.52" y="767.15" width="12.18" height="3.98" fill="#f8f3f0"/>
<rect x="381.20" y="767.15" width="12.18" height="3.98" fill="#f1f4f6"/>
<rect x="392.88" y="767.15" width="12.18" height="3.98" fill="#f7f7f7"/>
<rect x="404.56" y="767.15" width="11.68" height="3.98" fill="#fddbc7"/>
<rect x="322.80" y="770.62" width="12.18" height="3.98" fill="#fddbc7"/>
<rect x="334.48" y="770.62" width="12.18" height="3.98" fill="#fce2d3"/>
<rect x="346.16" y="770.62" width="12.18" height="3.98" fill="#eef2f5"/>
<rect x="357.84" y="770.62" width="12.18" height="3.98" fill="#e4eef4"/>
<rect x="369.52" y="770.62" width="12.18" height="3.98" fill="#f7f7f7"/>
<rect x="381.20" y="770.62" width="12.18" height="3.98" fill="#fcd4be"/>
<rect x="392.88" y="770.62" width="12.18" height="3.98" fill="#daeaf2"/>
<rect x="404.56" y="770.62" width="11.68" height="3.98" fill="#a2cde2"/>
<rect x="322.80" y="774.10" width="12.18" height="3.98" fill="#fddbc7"/>
<rect x="334.48" y="774.10" width="12.18" height="3.98" fill="#f8c0a4"/>
<rect x="346.16" y="774.10" width="12.18" height="3.98" fill="#fbceb6"/>
<rect x="357.84" y="774.10" width="12.18" height="3.98" fill="#ec9475"/>
<rect x="369.52" y="774.10" width="12.18" height="3.98" fill="#f8f0eb"/>
<rect x="381.20" y="774.10" width="12.18" height="3.98" fill="#f7f7f7"/>
<rect x="392.88" y="774.10" width="12.18" height="3.98" fill="#a2cde2"/>
<rect x="404.56" y="774.10" width="11.68" height="3.98" fill="#e98b6e"/>
<rect x="322.80" y="777.58" width="12.18" height="3.98" fill="#f8c0a4"/>
<rect x="334.48" y="777.58" width="12.18" height="3.98" fill="#f8c0a4"/>
<rect x="346.16" y="777.58" width="12.18" height="3.98" fill="#fce2d3"/>
<rect x="357.84" y="777.58" width="12.18" height="3.98" fill="#de715a"/>
<rect x="369.52" y="777.58" width="12.18" height="3.98" fill="#f8f0eb"/>
<rect x="381.20" y="777.58" width="12.18" height="3.98" fill="#e4eef4"/>
<rect x="392.88" y="777.58" width="12.18" height="3.98" fill="#f7f7f7"/>
<rect x="404.56" y="777.58" width="11.68" height="3.98" fill="#ec9475"/>
<rect x="322.80" y="781.05" width="12.18" height="3.98" fill="#fac7ad"/>
<rect x="334.48" y="781.05" width="12.18" height="3.98" fill="#fbceb6"/>
<rect x="346.16" y="781.05" width="12.18" height="3.98" fill="#fbceb6"/>
<rect x="357.84" y="781.05" width="12.18" height="3.98" fill="#f4a582"/>
<rect x="369.52" y="781.05" width="12.18" height="3.98" fill="#fce2d3"/>
<rect x="381.20" y="781.05" width="12.18" height="3.98" fill="#d1e5f0"/>
<rect x="392.88" y="781.05" width="12.18" height="3.98" fill="#f7f7f7"/>
<rect x="404.56" y="781.05" width="11.68" height="3.98" fill="#ec9475"/>
<rect x="322.80" y="784.53" width="12.18" height="3.98" fill="#fae9df"/>
<rect x="334.48" y="784.53" width="12.18" height="3.98" fill="#e4eef4"/>
<rect x="346.16" y="784.53" width="12.18" height="3.98" fill="#daeaf2"/>
<rect x="357.84" y="784.53" width="12.18" height="3.98" fill="#fae9df"/>
<rect x="369.52" y="784.53" width="12.18" height="3.98" fill="#f7f7f7"/>
<rect x="381.20" y="784.53" width="12.18" height="3.98" fill="#aad1e5"/>
<rect x="392.88" y="784.53" width="12.18" height="3.98" fill="#d1e5f0"/>
<rect x="404.56" y="784.53" width="11.68" height="3.98" fill="#fbceb6"/>
<rect x="322.80" y="788.00" width="12.18" height="3.98" fill="#fae9df"/>
<rect x="334.48" y="788.00" width="12.18" height="3.98" fill="#fae9df"/>
<rect x="346.16" y="788.00" width="12.18" height="3.98" fill="#fce2d3"/>
<rect x="357.84" y="788.00" width="12.18" height="3.98" fill="#fae9df"/>
<rect x="369.52" y="788.00" width="12.18" height="3.98" fill="#f7f7f7"/>
<rect x="381.20" y="788.00" width="12.18" height="3.98" fill="#fae9df"/>
<rect x="392.88" y="788.00" width="12.18" height="3.98" fill="#e4eef4"/>
<rect x="404.56" y="788.00" width="11.68" height="3.98" fill="#fce2d3"/>
<rect x="322.80" y="791.48" width="12.18" height="3.98" fill="#fac7ad"/>
<rect x="334.48" y="791.48" width="12.18" height="3.98" fill="#fce2d3"/>
<rect x="346.16" y="791.48" width="12.18" height="3.98" fill="#f7f7f7"/>
<rect x="357.84" y="791.48" width="12.18" height="3.98" fill="#fac7ad"/>
<rect x="369.52" y="791.48" width="12.18" height="3.98" fill="#f7f7f7"/>
<rect x="381.20" y="791.48" width="12.18" height="3.98" fill="#f7f7f7"/>
<rect x="392.88" y="791.48" width="12.18" height="3.98" fill="#eef2f5"/>
<rect x="404.56" y="791.48" width="11.68" height="3.98" fill="#fbceb6"/>
<rect x="322.80" y="794.95" width="12.18" height="3.98" fill="#daeaf2"/>
<rect x="334.48" y="794.95" width="12.18" height="3.98" fill="#d1e5f0"/>
<rect x="346.16" y="794.95" width="12.18" height="3.98" fill="#e4eef4"/>
<rect x="357.84" y="794.95" width="12.18" height="3.98" fill="#b9d9e9"/>
<rect x="369.52" y="794.95" width="12.18" height="3.98" fill="#eef2f5"/>
<rect x="381.20" y="794.95" width="12.18" height="3.98" fill="#f1f4f6"/>
<rect x="392.88" y="794.95" width="12.18" height="3.98" fill="#eef2f5"/>
<rect x="404.56" y="794.95" width="11.68" height="3.98" fill="#b2d5e7"/>
<rect x="322.80" y="798.43" width="12.18" height="3.98" fill="#d1e5f0"/>
<rect x="334.48" y="798.43" width="12.18" height="3.98" fill="#d1e5f0"/>
<rect x="346.16" y="798.43" width="12.18" height="3.98" fill="#e4eef4"/>
<rect x="357.84" y="798.43" width="12.18" height="3.98" fill="#b2d5e7"/>
<rect x="369.52" y="798.43" width="12.18" height="3.98" fill="#e4eef4"/>
<rect x="381.20" y="798.43" width="12.18" height="3.98" fill="#f7f7f7"/>
<rect x="392.88" y="798.43" width="12.18" height="3.98" fill="#d1e5f0"/>
<rect x="404.56" y="798.43" width="11.68" height="3.98" fill="#b2d5e7"/>
<rect x="322.80" y="801.90" width="12.18" height="3.98" fill="#c1ddec"/>
<rect x="334.48" y="801.90" width="12.18" height="3.98" fill="#c9e1ee"/>
<rect x="346.16" y="801.90" width="12.18" height="3.98" fill="#e4eef4"/>
<rect x="357.84" y="801.90" width="12.18" height="3.98" fill="#b2d5e7"/>
<rect x="369.52" y="801.90" width="12.18" height="3.98" fill="#daeaf2"/>
<rect x="381.20" y="801.90" width="12.18" height="3.98" fill="#fddbc7"/>
<rect x="392.88" y="801.90" width="12.18" height="3.98" fill="#f7f7f7"/>
<rect x="404.56" y="801.90" width="11.68" height="3.98" fill="#b2d5e7"/>
<rect x="322.80" y="805.38" width="12.18" height="3.98" fill="#f7f7f7"/>
<rect x="334.48" y="805.38" width="12.18" height="3.98" fill="#eef2f5"/>
<rect x="346.16" y="805.38" width="12.18" height="3.98" fill="#f7f7f7"/>
<rect x="357.84" y="805.38" width="12.18" height="3.98" fill="#daeaf2"/>
<rect x="369.52" y="805.38" width="12.18" height="3.98" fill="#f7f7f7"/>
<rect x="381.20" y="805.38" width="12.18" height="3.98" fill="#f7f7f7"/>
<rect x="392.88" y="805.38" width="12.18" height="3.98" fill="#eef2f5"/>
<rect x="404.56" y="805.38" width="11.68" height="3.98" fill="#c9e1ee"/>
<rect x="322.80" y="808.85" width="12.18" height="3.98" fill="#daeaf2"/>
<rect x="334.48" y="808.85" width="12.18" height="3.98" fill="#d1e5f0"/>
<rect x="346.16" y="808.85" width="12.18" height="3.98" fill="#e4eef4"/>
<rect x="357.84" y="808.85" width="12.18" height="3.98" fill="#d1e5f0"/>
<rect x="369.52" y="808.85" width="12.18" height="3.98" fill="#eef2f5"/>
<rect x="381.20" y="808.85" width="12.18" height="3.98" fill="#fae9df"/>
<rect x="392.88" y="808.85" width="12.18" height="3.98" fill="#fbceb6"/>
<rect x="404.56" y="808.85" width="11.68" height="3.98" fill="#d1e5f0"/>
<rect x="322.80" y="812.33" width="12.18" height="3.98" fill="#c1ddec"/>
<rect x="334.48" y="812.33" width="12.18" height="3.98" fill="#d1e5f0"/>
<rect x="346.16" y="812.33" width="12.18" height="3.98" fill="#e4eef4"/>
<rect x="357.84" y="812.33" width="12.18" height="3.98" fill="#b9d9e9"/>
<rect x="369.52" y="812.33" width="12.18" height="3.98" fill="#eef2f5"/>
<rect x="381.20" y="812.33" width="12.18" height="3.98" fill="#f7f7f7"/>
<rect x="392.88" y="812.33" width="12.18" height="3.98" fill="#fbceb6"/>
<rect x="404.56" y="812.33" width="11.68" height="3.98" fill="#c1ddec"/>
<rect x="322.80" y="815.80" width="12.18" height="3.98" fill="#f7f7f7"/>
<rect x="334.48" y="815.80" width="12.18" height="3.98" fill="#e4eef4"/>
<rect x="346.16" y="815.80" width="12.18" height="3.98" fill="#eef2f5"/>
<rect x="357.84" y="815.80" width="12.18" height="3.98" fill="#d1e5f0"/>
<rect x="369.52" y="815.80" width="12.18" height="3.98" fill="#eef2f5"/>
<rect x="381.20" y="815.80" width="12.18" height="3.98" fill="#eef2f5"/>
<rect x="392.88" y="815.80" width="12.18" height="3.98" fill="#d6604d"/>
<rect x="404.56" y="815.80" width="11.68" height="3.98" fill="#d1e5f0"/>
<rect x="322.80" y="819.28" width="12.18" height="3.98" fill="#b9d9e9"/>
<rect x="334.48" y="819.28" width="12.18" height="3.98" fill="#c9e1ee"/>
<rect x="346.16" y="819.28" width="12.18" height="3.98" fill="#e4eef4"/>
<rect x="357.84" y="819.28" width="12.18" height="3.98" fill="#b2d5e7"/>
<rect x="369.52" y="819.28" width="12.18" height="3.98" fill="#daeaf2"/>
<rect x="381.20" y="819.28" width="12.18" height="3.98" fill="#fae9df"/>
<rect x="392.88" y="819.28" width="12.18" height="3.98" fill="#e4eef4"/>
<rect x="404.56" y="819.28" width="11.68" height="3.98" fill="#a2cde2"/>
<rect x="322.80" y="822.75" width="12.18" height="3.98" fill="#a2cde2"/>
<rect x="334.48" y="822.75" width="12.18" height="3.98" fill="#a2cde2"/>
<rect x="346.16" y="822.75" width="12.18" height="3.98" fill="#daeaf2"/>
<rect x="357.84" y="822.75" width="12.18" height="3.98" fill="#aad1e5"/>
<rect x="369.52" y="822.75" width="12.18" height="3.98" fill="#eef2f5"/>
<rect x="381.20" y="822.75" width="12.18" height="3.98" fill="#f7f7f7"/>
<rect x="392.88" y="822.75" width="12.18" height="3.98" fill="#fae9df"/>
<rect x="404.56" y="822.75" width="11.68" height="3.98" fill="#aad1e5"/>
<rect x="322.80" y="826.23" width="12.18" height="3.48" fill="#daeaf2"/>
<rect x="334.48" y="826.23" width="12.18" height="3.48" fill="#daeaf2"/>
<rect x="346.16" y="826.23" width="12.18" height="3.48" fill="#eef2f5"/>
<rect x="357.84" y="826.23" width="12.18" height="3.48" fill="#daeaf2"/>
<rect x="369.52" y="826.23" width="12.18" height="3.48" fill="#eef2f5"/>
<rect x="381.20" y="826.23" width="12.18" height="3.48" fill="#eef2f5"/>
<rect x="392.88" y="826.23" width="12.18" height="3.48" fill="#fae9df"/>
<rect x="404.56" y="826.23" width="11.68" height="3.48" fill="#daeaf2"/>
<text transform="translate(101.70,833.30) rotate(-90)" text-anchor="end" font-size="9.7" fill="#111" style="stroke:#111" font-style="italic">Btg4</text>
<text transform="translate(112.97,833.30) rotate(-90)" text-anchor="end" font-size="9.7" fill="#111" style="stroke:#111" font-style="italic">Oosp1</text>
<text transform="translate(124.24,833.30) rotate(-90)" text-anchor="end" font-size="9.7" fill="#111" style="stroke:#111" font-style="italic">Oosp3</text>
<text transform="translate(135.51,833.30) rotate(-90)" text-anchor="end" font-size="9.7" fill="#111" style="stroke:#111" font-style="italic">Obox5</text>
<text transform="translate(146.78,833.30) rotate(-90)" text-anchor="end" font-size="9.7" fill="#111" style="stroke:#111" font-style="italic">Dazl</text>
<text transform="translate(158.05,833.30) rotate(-90)" text-anchor="end" font-size="9.7" fill="#111" style="stroke:#111" font-style="italic">Cnot7</text>
<text transform="translate(169.32,833.30) rotate(-90)" text-anchor="end" font-size="9.7" fill="#111" style="stroke:#111" font-style="italic">Tcl1</text>
<text transform="translate(180.59,833.30) rotate(-90)" text-anchor="end" font-size="9.7" fill="#111" style="stroke:#111" font-style="italic">Cpeb4</text>
<text transform="translate(221.90,833.30) rotate(-90)" text-anchor="end" font-size="9.7" fill="#111" style="stroke:#111" font-style="italic">Tmem63b</text>
<text transform="translate(233.07,833.30) rotate(-90)" text-anchor="end" font-size="9.7" fill="#111" style="stroke:#111" font-style="italic">Taok2</text>
<text transform="translate(244.24,833.30) rotate(-90)" text-anchor="end" font-size="9.7" fill="#111" style="stroke:#111" font-style="italic">Rab11fip5</text>
<text transform="translate(255.41,833.30) rotate(-90)" text-anchor="end" font-size="9.7" fill="#111" style="stroke:#111" font-style="italic">Isyna1</text>
<text transform="translate(266.58,833.30) rotate(-90)" text-anchor="end" font-size="9.7" fill="#111" style="stroke:#111" font-style="italic">Smc4</text>
<text transform="translate(277.75,833.30) rotate(-90)" text-anchor="end" font-size="9.7" fill="#111" style="stroke:#111" font-style="italic">Zp1</text>
<text transform="translate(288.92,833.30) rotate(-90)" text-anchor="end" font-size="9.7" fill="#111" style="stroke:#111" font-style="italic">Oosp2</text>
<text transform="translate(300.09,833.30) rotate(-90)" text-anchor="end" font-size="9.7" fill="#111" style="stroke:#111" font-style="italic">Tma7</text>
<text transform="translate(331.90,833.30) rotate(-90)" text-anchor="end" font-size="9.7" fill="#111" style="stroke:#111" font-style="italic">Cpeb1</text>
<text transform="translate(343.17,833.30) rotate(-90)" text-anchor="end" font-size="9.7" fill="#111" style="stroke:#111" font-style="italic">Nlrp14</text>
<text transform="translate(354.44,833.30) rotate(-90)" text-anchor="end" font-size="9.7" fill="#111" style="stroke:#111" font-style="italic">Padi6</text>
<text transform="translate(365.71,833.30) rotate(-90)" text-anchor="end" font-size="9.7" fill="#111" style="stroke:#111" font-style="italic">Zp2</text>
<text transform="translate(376.98,833.30) rotate(-90)" text-anchor="end" font-size="9.7" fill="#111" style="stroke:#111" font-style="italic">Wdr91</text>
<text transform="translate(388.25,833.30) rotate(-90)" text-anchor="end" font-size="9.7" fill="#111" style="stroke:#111" font-style="italic">Zfp839</text>
<text transform="translate(399.52,833.30) rotate(-90)" text-anchor="end" font-size="9.7" fill="#111" style="stroke:#111" font-style="italic">Rcsd1</text>
<text transform="translate(410.79,833.30) rotate(-90)" text-anchor="end" font-size="9.7" fill="#111" style="stroke:#111" font-style="italic">Zp3</text>
<rect x="428.10" y="683.30" width="14.20" height="13.40" fill="#000"/>
<rect x="428.10" y="696.70" width="14.20" height="13.90" fill="#8e8e8e"/>
<text x="444.00" y="693.90">NY</text>
<text x="444.00" y="707.80">SY</text>
<rect x="437.2" y="739.7" width="13.7" height="130.4" fill="url(#cbar)"/>
<text x="455.20" y="744.90">2</text>
<text x="455.20" y="777.30">1</text>
<text x="455.20" y="809.70">0</text>
<text x="455.20" y="841.90">−1</text>
<text x="455.20" y="873.50">−2</text>
<text transform="translate(434.10,833.40) rotate(-90)" text-anchor="middle" font-size="9.6" fill="#111" style="stroke:#111">Log2 fold change</text>
<circle cx="606.9" cy="452.2" r="13.1" fill="#fff" stroke="#111" stroke-width="1.4"/>
<circle cx="612.0" cy="451.9" r="2.3" fill="#fff" stroke="#111" stroke-width="1.5"/>
<g transform="translate(623.3,729.8)"><clipPath id="fc9"><path d="M-13.12,-17.21 Q-12.93,-17.66 -12.41,-17.78 Q-11.89,-17.89 -11.32,-17.89 Q-10.74,-17.90 -10.56,-18.62 Q-10.38,-19.35 -9.35,-18.64 Q-8.31,-17.94 -7.77,-18.25 Q-7.23,-18.56 -6.58,-18.79 Q-5.94,-19.02 -5.18,-18.59 Q-4.41,-18.16 -3.90,-18.70 Q-3.39,-19.23 -2.78,-19.47 Q-2.17,-19.70 -1.55,-19.42 Q-0.92,-19.15 -0.35,-19.59 Q0.23,-20.04 0.86,-20.49 Q1.48,-20.94 1.94,-20.79 Q2.40,-20.64 2.91,-20.93 Q3.42,-21.21 3.82,-20.80 Q4.22,-20.39 4.82,-20.28 Q5.42,-20.17 5.97,-19.89 Q6.51,-19.62 7.23,-19.75 Q7.95,-19.89 8.46,-19.85 Q8.96,-19.82 9.20,-19.20 Q9.45,-18.58 9.89,-18.34 Q10.34,-18.10 10.41,-17.36 Q10.49,-16.61 10.89,-16.36 Q11.28,-16.12 11.24,-15.24 Q11.19,-14.36 11.74,-14.00 Q12.30,-13.65 12.97,-13.38 Q13.65,-13.11 14.18,-12.63 Q14.70,-12.16 15.12,-11.84 Q15.53,-11.52 15.90,-11.19 Q16.27,-10.86 16.99,-10.76 Q17.71,-10.66 17.96,-10.40 Q18.21,-10.15 18.56,-9.94 Q18.90,-9.74 19.62,-9.70 Q20.34,-9.65 19.92,-8.78 Q19.49,-7.92 20.10,-7.46 Q20.71,-7.01 20.77,-6.31 Q20.83,-5.62 20.04,-4.86 Q19.26,-4.11 19.40,-3.58 Q19.55,-3.04 19.51,-2.44 Q19.48,-1.84 19.00,-1.24 Q18.52,-0.63 18.71,-0.05 Q18.90,0.53 19.14,1.17 Q19.38,1.82 18.55,2.34 Q17.73,2.86 17.84,3.52 Q17.96,4.17 17.38,4.69 Q16.80,5.20 16.88,5.78 Q16.96,6.36 16.93,6.93 Q16.89,7.50 16.20,7.78 Q15.51,8.06 15.33,8.56 Q15.15,9.07 15.14,9.68 Q15.13,10.28 15.35,11.09 Q15.57,11.90 15.13,12.11 Q14.70,12.32 14.62,12.81 Q14.55,13.31 14.67,14.02 Q14.80,14.74 14.50,15.24 Q14.19,15.73 13.39,15.67 Q12.58,15.60 12.02,15.83 Q11.46,16.06 10.73,16.33 Q10.00,16.61 8.98,16.36 Q7.96,16.12 7.25,16.57 Q6.55,17.02 5.63,16.86 Q4.71,16.70 3.96,17.12 Q3.20,17.54 2.36,17.91 Q1.51,18.28 0.77,17.70 Q0.03,17.12 -0.69,17.53 Q-1.40,17.95 -2.15,18.05 Q-2.89,18.14 -3.54,17.76 Q-4.18,17.37 -4.90,17.40 Q-5.62,17.42 -6.55,17.88 Q-7.48,18.33 -8.23,18.08 Q-8.97,17.84 -9.36,17.01 Q-9.75,16.17 -10.73,16.31 Q-11.72,16.45 -12.45,16.37 Q-13.17,16.28 -13.39,15.60 Q-13.61,14.91 -14.44,14.90 Q-15.27,14.88 -15.10,13.97 Q-14.92,13.06 -15.30,12.65 Q-15.68,12.23 -16.06,11.76 Q-16.44,11.29 -16.57,10.54 Q-16.69,9.78 -17.00,9.12 Q-17.30,8.46 -17.01,7.52 Q-16.72,6.58 -17.20,5.83 Q-17.67,5.08 -18.35,4.33 Q-19.03,3.58 -19.13,2.68 Q-19.23,1.77 -19.30,1.05 Q-19.38,0.33 -19.52,-0.38 Q-19.66,-1.09 -20.31,-1.88 Q-20.97,-2.67 -20.69,-3.34 Q-20.42,-4.02 -20.03,-4.62 Q-19.63,-5.21 -20.33,-6.14 Q-21.03,-7.06 -20.59,-7.28 Q-20.14,-7.51 -20.17,-7.89 Q-20.20,-8.28 -19.96,-8.57 Q-19.72,-8.85 -19.43,-9.11 Q-19.14,-9.37 -18.58,-9.51 Q-18.02,-9.64 -17.37,-9.72 Q-16.73,-9.81 -16.50,-10.21 Q-16.27,-10.61 -15.36,-10.56 Q-14.44,-10.51 -14.22,-10.99 Q-14.00,-11.48 -13.53,-11.60 Q-13.06,-11.71 -13.40,-12.57 Q-13.75,-13.42 -13.71,-13.94 Q-13.66,-14.46 -13.43,-14.88 Q-13.21,-15.30 -13.26,-16.03 Q-13.31,-16.77 -13.12,-17.21 Z"/></clipPath><path d="M-13.12,-17.21 Q-12.93,-17.66 -12.41,-17.78 Q-11.89,-17.89 -11.32,-17.89 Q-10.74,-17.90 -10.56,-18.62 Q-10.38,-19.35 -9.35,-18.64 Q-8.31,-17.94 -7.77,-18.25 Q-7.23,-18.56 -6.58,-18.79 Q-5.94,-19.02 -5.18,-18.59 Q-4.41,-18.16 -3.90,-18.70 Q-3.39,-19.23 -2.78,-19.47 Q-2.17,-19.70 -1.55,-19.42 Q-0.92,-19.15 -0.35,-19.59 Q0.23,-20.04 0.86,-20.49 Q1.48,-20.94 1.94,-20.79 Q2.40,-20.64 2.91,-20.93 Q3.42,-21.21 3.82,-20.80 Q4.22,-20.39 4.82,-20.28 Q5.42,-20.17 5.97,-19.89 Q6.51,-19.62 7.23,-19.75 Q7.95,-19.89 8.46,-19.85 Q8.96,-19.82 9.20,-19.20 Q9.45,-18.58 9.89,-18.34 Q10.34,-18.10 10.41,-17.36 Q10.49,-16.61 10.89,-16.36 Q11.28,-16.12 11.24,-15.24 Q11.19,-14.36 11.74,-14.00 Q12.30,-13.65 12.97,-13.38 Q13.65,-13.11 14.18,-12.63 Q14.70,-12.16 15.12,-11.84 Q15.53,-11.52 15.90,-11.19 Q16.27,-10.86 16.99,-10.76 Q17.71,-10.66 17.96,-10.40 Q18.21,-10.15 18.56,-9.94 Q18.90,-9.74 19.62,-9.70 Q20.34,-9.65 19.92,-8.78 Q19.49,-7.92 20.10,-7.46 Q20.71,-7.01 20.77,-6.31 Q20.83,-5.62 20.04,-4.86 Q19.26,-4.11 19.40,-3.58 Q19.55,-3.04 19.51,-2.44 Q19.48,-1.84 19.00,-1.24 Q18.52,-0.63 18.71,-0.05 Q18.90,0.53 19.14,1.17 Q19.38,1.82 18.55,2.34 Q17.73,2.86 17.84,3.52 Q17.96,4.17 17.38,4.69 Q16.80,5.20 16.88,5.78 Q16.96,6.36 16.93,6.93 Q16.89,7.50 16.20,7.78 Q15.51,8.06 15.33,8.56 Q15.15,9.07 15.14,9.68 Q15.13,10.28 15.35,11.09 Q15.57,11.90 15.13,12.11 Q14.70,12.32 14.62,12.81 Q14.55,13.31 14.67,14.02 Q14.80,14.74 14.50,15.24 Q14.19,15.73 13.39,15.67 Q12.58,15.60 12.02,15.83 Q11.46,16.06 10.73,16.33 Q10.00,16.61 8.98,16.36 Q7.96,16.12 7.25,16.57 Q6.55,17.02 5.63,16.86 Q4.71,16.70 3.96,17.12 Q3.20,17.54 2.36,17.91 Q1.51,18.28 0.77,17.70 Q0.03,17.12 -0.69,17.53 Q-1.40,17.95 -2.15,18.05 Q-2.89,18.14 -3.54,17.76 Q-4.18,17.37 -4.90,17.40 Q-5.62,17.42 -6.55,17.88 Q-7.48,18.33 -8.23,18.08 Q-8.97,17.84 -9.36,17.01 Q-9.75,16.17 -10.73,16.31 Q-11.72,16.45 -12.45,16.37 Q-13.17,16.28 -13.39,15.60 Q-13.61,14.91 -14.44,14.90 Q-15.27,14.88 -15.10,13.97 Q-14.92,13.06 -15.30,12.65 Q-15.68,12.23 -16.06,11.76 Q-16.44,11.29 -16.57,10.54 Q-16.69,9.78 -17.00,9.12 Q-17.30,8.46 -17.01,7.52 Q-16.72,6.58 -17.20,5.83 Q-17.67,5.08 -18.35,4.33 Q-19.03,3.58 -19.13,2.68 Q-19.23,1.77 -19.30,1.05 Q-19.38,0.33 -19.52,-0.38 Q-19.66,-1.09 -20.31,-1.88 Q-20.97,-2.67 -20.69,-3.34 Q-20.42,-4.02 -20.03,-4.62 Q-19.63,-5.21 -20.33,-6.14 Q-21.03,-7.06 -20.59,-7.28 Q-20.14,-7.51 -20.17,-7.89 Q-20.20,-8.28 -19.96,-8.57 Q-19.72,-8.85 -19.43,-9.11 Q-19.14,-9.37 -18.58,-9.51 Q-18.02,-9.64 -17.37,-9.72 Q-16.73,-9.81 -16.50,-10.21 Q-16.27,-10.61 -15.36,-10.56 Q-14.44,-10.51 -14.22,-10.99 Q-14.00,-11.48 -13.53,-11.60 Q-13.06,-11.71 -13.40,-12.57 Q-13.75,-13.42 -13.71,-13.94 Q-13.66,-14.46 -13.43,-14.88 Q-13.21,-15.30 -13.26,-16.03 Q-13.31,-16.77 -13.12,-17.21 Z" fill="#d6d6d6"/><g clip-path="url(#fc9)"><path d="M0.2 19.6h0M-13.1 6.7h0M15.9 -3.7h0M-14.5 14.9h0M-12.9 13.8h0M9.8 18.1h0M-0.7 12.9h0M13.9 -2.2h0M20.8 -7.3h0M-9.8 -7.8h0M13.4 5.4h0M-14.1 11.8h0M15.5 -3.3h0M11.3 13.8h0M8.6 10.1h0M-18.0 -6.6h0M15.4 6.7h0M-5.7 -19.0h0M-15.6 14.1h0M9.4 16.9h0M2.9 -20.8h0M-13.4 0.5h0M16.8 5.3h0M8.6 16.4h0M17.3 10.1h0M2.2 12.4h0M7.6 15.1h0M-15.1 -5.9h0M8.0 15.1h0M16.6 -5.8h0M11.9 -4.6h0M21.0 -0.9h0M-16.8 -4.8h0M-20.7 -4.9h0M17.1 7.5h0M-14.8 -4.0h0M-3.0 -19.2h0M15.3 11.6h0M-16.5 4.9h0M-8.5 -9.8h0M-12.8 -9.7h0M10.6 -10.1h0M8.6 -17.5h0M-14.8 -14.8h0M17.8 4.1h0M-14.4 -12.4h0M-10.9 7.3h0M6.8 17.0h0M5.5 11.9h0M-10.4 13.4h0M-12.4 -2.8h0M2.5 -15.5h0M2.6 -12.3h0M17.4 -5.2h0M21.7 -3.3h0M6.7 -11.7h0M-8.5 11.9h0M2.7 -14.1h0M2.4 13.3h0M15.7 14.7h0M15.9 -2.4h0M-1.0 -16.9h0M-15.9 -2.2h0M-9.8 -11.0h0M-0.7 17.4h0M5.4 15.8h0M11.9 -4.4h0M16.1 12.2h0M13.9 5.3h0M10.9 -14.7h0M2.4 12.8h0M-2.4 15.2h0M6.8 -20.8h0M4.8 -20.6h0M19.0 -8.8h0M19.1 -10.5h0M12.9 8.7h0M0.3 18.3h0M-15.8 0.8h0M8.5 -13.9h0M3.9 14.6h0M-17.8 4.4h0M-15.2 -7.0h0M6.4 15.0h0M-6.4 12.6h0M-13.7 -3.9h0M-4.5 -18.3h0M12.0 14.1h0M-8.8 14.3h0M-15.5 -12.3h0M14.5 -13.1h0M4.3 17.2h0M-6.5 10.9h0M-16.1 -5.5h0M10.4 -11.6h0M8.7 -15.1h0M15.7 11.3h0M-3.8 17.2h0M11.3 5.4h0M11.3 -6.1h0M8.3 11.3h0M16.8 11.6h0M18.7 -0.6h0M-16.7 12.8h0M-13.7 -0.5h0M-5.8 -14.8h0M-1.9 15.4h0M-10.7 9.4h0M-15.9 -13.5h0M-11.3 -5.4h0M-5.1 -11.6h0M-20.6 2.8h0M-9.4 -19.0h0M0.4 -15.1h0M10.4 13.2h0M-6.3 -13.3h0M-9.6 17.2h0M-10.5 14.9h0M-20.6 -6.0h0M14.1 2.3h0M3.4 -18.6h0M11.3 7.8h0M4.3 17.2h0M11.9 -8.4h0M5.6 18.2h0M-18.3 9.6h0M21.5 -0.1h0M-3.7 -16.8h0M18.8 7.6h0M-13.6 10.1h0M-14.7 -16.1h0M-20.0 -7.3h0M12.9 -3.0h0M-12.9 16.7h0M2.4 -21.7h0M6.8 16.2h0M16.1 -7.2h0M-10.5 -19.2h0M6.0 11.5h0M11.0 -14.4h0M6.3 19.5h0M-2.9 13.4h0M-3.8 12.2h0M-16.6 11.2h0M-20.9 6.2h0M13.6 3.7h0M11.1 14.1h0M5.9 18.0h0M-17.9 -2.6h0M11.3 -16.6h0M12.3 -6.5h0M-15.8 15.0h0M-12.1 9.2h0M-14.1 1.6h0M10.8 -15.2h0M18.0 12.2h0M-14.8 -1.9h0M-16.4 -14.1h0M-7.2 10.3h0M4.2 12.3h0M-15.2 -2.8h0M8.6 -11.6h0M16.9 1.6h0M11.0 10.8h0M2.2 14.0h0M-14.1 -16.2h0M-12.8 13.6h0M-9.4 19.1h0M-12.0 -4.2h0M-0.7 -14.5h0M12.1 3.7h0M10.4 -16.3h0M-11.2 13.9h0M-3.6 -12.7h0M-5.3 -18.6h0M12.2 -4.6h0M-15.6 -7.6h0M9.1 -13.1h0M-11.0 -18.0h0M-10.1 14.2h0M10.0 -7.9h0M15.3 -2.5h0M-14.7 4.0h0M5.2 -16.8h0M-0.2 -13.4h0M14.9 -13.9h0M-6.2 -13.2h0M-1.0 16.8h0M19.9 8.6h0M-18.1 11.9h0M7.7 17.1h0M5.6 -17.8h0M-11.2 5.9h0M-14.9 6.4h0M20.6 -7.4h0M21.1 -5.9h0M6.2 11.1h0M-3.3 12.1h0M13.2 12.2h0M5.6 17.5h0M-11.0 10.3h0M14.0 -2.7h0M13.0 -11.8h0M-7.2 -11.8h0M-0.7 -21.0h0M5.5 16.1h0M-9.7 -14.0h0M0.2 -18.7h0M-7.5 17.5h0M2.4 -16.8h0M-15.7 -10.0h0M-13.2 1.9h0M-16.7 10.9h0M-2.1 -13.0h0M-18.0 2.5h0M-13.6 -2.9h0M-11.6 -15.3h0M-21.0 -4.8h0M-11.1 -5.9h0M-4.2 18.8h0M19.1 10.5h0M-6.2 -18.8h0M6.0 11.0h0M12.1 -12.4h0M-16.3 6.2h0M1.8 -15.9h0M2.0 -13.9h0M19.0 -2.4h0M-7.1 15.5h0M11.5 -10.6h0M-6.7 -20.2h0M14.5 -3.7h0M5.1 -17.6h0M4.7 -12.2h0M-14.4 8.7h0M6.6 -15.5h0M14.0 3.8h0M10.3 -18.3h0M-11.8 -5.9h0M3.0 -20.6h0M-4.0 16.6h0M-3.3 12.5h0M-1.4 -13.9h0M18.1 11.1h0M16.3 11.3h0M5.9 -13.6h0M-10.1 10.5h0M-5.7 -21.1h0M-0.7 -17.2h0M-15.9 -3.8h0M-3.3 -14.7h0M0.6 19.2h0M-0.7 22.0h0M-2.0 -14.1h0M18.1 2.4h0M11.5 12.9h0M-16.4 -11.9h0M-13.5 11.5h0M5.4 -12.6h0M-10.4 17.4h0M-13.5 16.7h0M11.5 6.7h0M-11.1 12.8h0M-9.8 10.8h0M-20.0 6.8h0M17.1 -7.1h0M-0.7 18.1h0M7.2 10.9h0M4.2 -14.4h0M10.8 17.3h0M10.6 10.2h0M12.2 17.2h0M-5.9 -12.9h0M19.1 9.3h0M13.4 14.0h0M-6.7 -16.9h0M-16.3 2.2h0M-3.6 18.3h0M10.0 13.8h0M-1.0 16.0h0M13.9 -11.4h0M-11.4 -14.8h0M20.0 0.2h0M13.9 -13.9h0M-20.4 -2.9h0M14.2 -5.2h0M8.1 13.5h0M14.6 1.7h0M10.9 6.2h0M-10.1 7.4h0M-20.5 2.5h0M-3.0 -12.6h0M-2.0 -14.1h0M6.4 -17.5h0M-16.0 -4.6h0M14.4 -1.8h0M11.6 -8.6h0M12.1 8.1h0M19.9 4.7h0M7.2 16.5h0M-2.4 15.7h0M4.0 -17.3h0M-2.1 19.5h0M8.0 10.1h0M-7.0 -19.5h0M1.8 -19.1h0M19.4 -9.0h0M-12.9 -5.8h0M-14.6 -7.9h0M-4.1 -15.3h0M12.9 6.3h0M12.2 15.2h0M-6.6 -16.3h0M-8.1 17.8h0M-16.3 5.6h0M7.3 20.9h0M-15.9 6.0h0M4.4 16.2h0M-16.3 3.0h0M-0.6 -15.7h0M-13.6 -13.2h0M13.5 15.3h0M13.5 6.4h0M6.6 -11.9h0M-2.7 16.2h0M20.6 -7.3h0M3.7 18.3h0M8.4 -15.3h0M-5.5 12.8h0M11.7 5.5h0M18.6 5.8h0M-11.0 -7.1h0M20.3 -8.5h0M-13.7 8.1h0M13.4 -13.3h0M-0.4 -14.2h0M-2.2 -16.6h0M12.1 4.4h0M-1.3 14.7h0M-2.5 21.1h0M-11.6 8.7h0M10.3 7.9h0M-13.7 9.2h0M15.3 8.3h0M-7.1 10.5h0M-13.8 2.3h0M8.4 17.9h0M-14.3 6.9h0M-18.4 -6.6h0M-15.1 -15.5h0M-3.4 -15.4h0M12.1 -3.6h0M5.2 12.6h0M-11.7 10.7h0M-14.2 11.9h0M-9.9 14.0h0M-9.5 -19.2h0M15.4 -4.2h0M-16.5 14.6h0M11.2 -17.7h0M11.5 10.0h0M-13.7 7.1h0M-21.0 4.9h0M-13.2 11.2h0M-8.1 16.2h0M-13.6 -4.0h0M18.4 7.2h0M7.6 -13.7h0M4.2 12.8h0M-12.9 -12.6h0M17.5 -7.5h0M-16.3 -8.1h0M18.0 -11.5h0M6.7 11.8h0M8.7 9.1h0M12.9 -17.5h0M-19.8 -0.1h0M-9.8 -16.0h0M-17.0 13.6h0" stroke="#8c8c8c" stroke-width="1.00" stroke-linecap="round" fill="none"/><path d="M0.2 19.6h0M-13.1 6.7h0M15.9 -3.7h0M-14.5 14.9h0M-12.9 13.8h0M9.8 18.1h0M-0.7 12.9h0M13.9 -2.2h0M20.8 -7.3h0M-9.8 -7.8h0M13.4 5.4h0M-14.1 11.8h0M15.5 -3.3h0M11.3 13.8h0M8.6 10.1h0M-18.0 -6.6h0M15.4 6.7h0M-5.7 -19.0h0M-15.6 14.1h0M9.4 16.9h0M2.9 -20.8h0M-13.4 0.5h0M16.8 5.3h0M8.6 16.4h0M17.3 10.1h0M2.2 12.4h0M7.6 15.1h0M-15.1 -5.9h0M8.0 15.1h0M16.6 -5.8h0M11.9 -4.6h0M21.0 -0.9h0M-16.8 -4.8h0M-20.7 -4.9h0M17.1 7.5h0M-14.8 -4.0h0M-3.0 -19.2h0M15.3 11.6h0M-16.5 4.9h0M-8.5 -9.8h0M-12.8 -9.7h0M10.6 -10.1h0M8.6 -17.5h0M-14.8 -14.8h0M17.8 4.1h0M-14.4 -12.4h0M-10.9 7.3h0M6.8 17.0h0M5.5 11.9h0M-10.4 13.4h0M-12.4 -2.8h0M2.5 -15.5h0M2.6 -12.3h0M17.4 -5.2h0M21.7 -3.3h0M6.7 -11.7h0M-8.5 11.9h0M2.7 -14.1h0M2.4 13.3h0M15.7 14.7h0M15.9 -2.4h0M-1.0 -16.9h0M-15.9 -2.2h0M-9.8 -11.0h0M-0.7 17.4h0M5.4 15.8h0M11.9 -4.4h0M16.1 12.2h0M13.9 5.3h0M10.9 -14.7h0M2.4 12.8h0M-2.4 15.2h0M6.8 -20.8h0M4.8 -20.6h0M19.0 -8.8h0M19.1 -10.5h0M12.9 8.7h0M0.3 18.3h0M-15.8 0.8h0M8.5 -13.9h0M3.9 14.6h0M-17.8 4.4h0M-15.2 -7.0h0M6.4 15.0h0M-6.4 12.6h0M-13.7 -3.9h0M-4.5 -18.3h0M12.0 14.1h0M-8.8 14.3h0M-15.5 -12.3h0M14.5 -13.1h0M4.3 17.2h0M-6.5 10.9h0M-16.1 -5.5h0M10.4 -11.6h0M8.7 -15.1h0M15.7 11.3h0M-3.8 17.2h0M11.3 5.4h0M11.3 -6.1h0M8.3 11.3h0M16.8 11.6h0M18.7 -0.6h0M-16.7 12.8h0M-13.7 -0.5h0M-5.8 -14.8h0M-1.9 15.4h0M-10.7 9.4h0M-15.9 -13.5h0M-11.3 -5.4h0M-5.1 -11.6h0M-20.6 2.8h0M-9.4 -19.0h0M0.4 -15.1h0M10.4 13.2h0M-6.3 -13.3h0M-9.6 17.2h0M-10.5 14.9h0M-20.6 -6.0h0M14.1 2.3h0M3.4 -18.6h0M11.3 7.8h0M4.3 17.2h0M11.9 -8.4h0M5.6 18.2h0M-18.3 9.6h0" stroke="#f4f4f4" stroke-width="0.90" stroke-linecap="round" fill="none"/></g><path d="M-13.12,-17.21 Q-12.93,-17.66 -12.41,-17.78 Q-11.89,-17.89 -11.32,-17.89 Q-10.74,-17.90 -10.56,-18.62 Q-10.38,-19.35 -9.35,-18.64 Q-8.31,-17.94 -7.77,-18.25 Q-7.23,-18.56 -6.58,-18.79 Q-5.94,-19.02 -5.18,-18.59 Q-4.41,-18.16 -3.90,-18.70 Q-3.39,-19.23 -2.78,-19.47 Q-2.17,-19.70 -1.55,-19.42 Q-0.92,-19.15 -0.35,-19.59 Q0.23,-20.04 0.86,-20.49 Q1.48,-20.94 1.94,-20.79 Q2.40,-20.64 2.91,-20.93 Q3.42,-21.21 3.82,-20.80 Q4.22,-20.39 4.82,-20.28 Q5.42,-20.17 5.97,-19.89 Q6.51,-19.62 7.23,-19.75 Q7.95,-19.89 8.46,-19.85 Q8.96,-19.82 9.20,-19.20 Q9.45,-18.58 9.89,-18.34 Q10.34,-18.10 10.41,-17.36 Q10.49,-16.61 10.89,-16.36 Q11.28,-16.12 11.24,-15.24 Q11.19,-14.36 11.74,-14.00 Q12.30,-13.65 12.97,-13.38 Q13.65,-13.11 14.18,-12.63 Q14.70,-12.16 15.12,-11.84 Q15.53,-11.52 15.90,-11.19 Q16.27,-10.86 16.99,-10.76 Q17.71,-10.66 17.96,-10.40 Q18.21,-10.15 18.56,-9.94 Q18.90,-9.74 19.62,-9.70 Q20.34,-9.65 19.92,-8.78 Q19.49,-7.92 20.10,-7.46 Q20.71,-7.01 20.77,-6.31 Q20.83,-5.62 20.04,-4.86 Q19.26,-4.11 19.40,-3.58 Q19.55,-3.04 19.51,-2.44 Q19.48,-1.84 19.00,-1.24 Q18.52,-0.63 18.71,-0.05 Q18.90,0.53 19.14,1.17 Q19.38,1.82 18.55,2.34 Q17.73,2.86 17.84,3.52 Q17.96,4.17 17.38,4.69 Q16.80,5.20 16.88,5.78 Q16.96,6.36 16.93,6.93 Q16.89,7.50 16.20,7.78 Q15.51,8.06 15.33,8.56 Q15.15,9.07 15.14,9.68 Q15.13,10.28 15.35,11.09 Q15.57,11.90 15.13,12.11 Q14.70,12.32 14.62,12.81 Q14.55,13.31 14.67,14.02 Q14.80,14.74 14.50,15.24 Q14.19,15.73 13.39,15.67 Q12.58,15.60 12.02,15.83 Q11.46,16.06 10.73,16.33 Q10.00,16.61 8.98,16.36 Q7.96,16.12 7.25,16.57 Q6.55,17.02 5.63,16.86 Q4.71,16.70 3.96,17.12 Q3.20,17.54 2.36,17.91 Q1.51,18.28 0.77,17.70 Q0.03,17.12 -0.69,17.53 Q-1.40,17.95 -2.15,18.05 Q-2.89,18.14 -3.54,17.76 Q-4.18,17.37 -4.90,17.40 Q-5.62,17.42 -6.55,17.88 Q-7.48,18.33 -8.23,18.08 Q-8.97,17.84 -9.36,17.01 Q-9.75,16.17 -10.73,16.31 Q-11.72,16.45 -12.45,16.37 Q-13.17,16.28 -13.39,15.60 Q-13.61,14.91 -14.44,14.90 Q-15.27,14.88 -15.10,13.97 Q-14.92,13.06 -15.30,12.65 Q-15.68,12.23 -16.06,11.76 Q-16.44,11.29 -16.57,10.54 Q-16.69,9.78 -17.00,9.12 Q-17.30,8.46 -17.01,7.52 Q-16.72,6.58 -17.20,5.83 Q-17.67,5.08 -18.35,4.33 Q-19.03,3.58 -19.13,2.68 Q-19.23,1.77 -19.30,1.05 Q-19.38,0.33 -19.52,-0.38 Q-19.66,-1.09 -20.31,-1.88 Q-20.97,-2.67 -20.69,-3.34 Q-20.42,-4.02 -20.03,-4.62 Q-19.63,-5.21 -20.33,-6.14 Q-21.03,-7.06 -20.59,-7.28 Q-20.14,-7.51 -20.17,-7.89 Q-20.20,-8.28 -19.96,-8.57 Q-19.72,-8.85 -19.43,-9.11 Q-19.14,-9.37 -18.58,-9.51 Q-18.02,-9.64 -17.37,-9.72 Q-16.73,-9.81 -16.50,-10.21 Q-16.27,-10.61 -15.36,-10.56 Q-14.44,-10.51 -14.22,-10.99 Q-14.00,-11.48 -13.53,-11.60 Q-13.06,-11.71 -13.40,-12.57 Q-13.75,-13.42 -13.71,-13.94 Q-13.66,-14.46 -13.43,-14.88 Q-13.21,-15.30 -13.26,-16.03 Q-13.31,-16.77 -13.12,-17.21 Z" fill="none" stroke="#111" stroke-width="1.7" stroke-linejoin="round"/><circle cx="0" cy="0" r="12.44" fill="#fff" stroke="#111" stroke-width="1.5"/></g>
<rect x="476.10" y="471.00" width="18.00" height="234.70" fill="#e0e0e0"/>
<rect x="476.10" y="758.60" width="18.00" height="125.40" fill="#e0e0e0"/>
<text transform="translate(488.60,588.20) rotate(-90)" text-anchor="middle" font-size="10" font-weight="bold" fill="#111" style="stroke:#111">SAC</text>
<text transform="translate(489.0,829.9) rotate(-90)" text-anchor="middle" font-size="10" font-weight="bold">cGMP</text>
<text x="644.90" y="470.10">p-value</text>
<text x="501.80" y="483.20" font-style="italic">Mad2l1</text>
<text x="551.90" y="481.30">SY</text>
<text x="551.90" y="490.80">NY</text>
<line x1="566.80" y1="477.80" x2="582.20" y2="477.80" stroke="#111" stroke-width="1.4"/>
<rect x="572.30" y="475.20" width="4.60" height="5.2" fill="#222" stroke="#111" stroke-width="1.1"/>
<line x1="574.60" y1="475.20" x2="574.60" y2="480.40" stroke="#111" stroke-width="1.9"/>
<line x1="570.30" y1="487.30" x2="631.00" y2="487.30" stroke="#111" stroke-width="1.4"/>
<rect x="593.90" y="484.70" width="27.40" height="5.2" fill="#5c5c5c" stroke="#111" stroke-width="1.1"/>
<line x1="607.60" y1="484.70" x2="607.60" y2="489.90" stroke="#111" stroke-width="1.9"/>
<line x1="570.90" y1="494.20" x2="633.10" y2="494.20" stroke="#000" stroke-width="1.3"/>
<line x1="571.40" y1="494.20" x2="571.40" y2="497.40" stroke="#000" stroke-width="1.1"/>
<line x1="586.90" y1="494.20" x2="586.90" y2="497.40" stroke="#000" stroke-width="1.1"/>
<line x1="602.00" y1="494.20" x2="602.00" y2="497.40" stroke="#000" stroke-width="1.1"/>
<line x1="617.20" y1="494.20" x2="617.20" y2="497.40" stroke="#000" stroke-width="1.1"/>
<line x1="632.60" y1="494.20" x2="632.60" y2="497.40" stroke="#000" stroke-width="1.1"/>
<text x="587.10" y="506.00" text-anchor="middle" font-size="9.2">1000</text>
<text x="617.20" y="506.00" text-anchor="middle" font-size="9.2">2000</text>
<text x="644.90" y="485.80">2.8</text>
<circle cx="660.50" cy="482.80" r="0.6" fill="#222"/>
<text x="663.00" y="485.8" font-size="9.7">10<tspan font-size="5.8" dy="-4.2">-6</tspan></text>
<text x="501.80" y="523.20" font-style="italic">Mad2l2</text>
<text x="551.90" y="520.30">SY</text>
<text x="551.90" y="529.90">NY</text>
<line x1="566.50" y1="516.80" x2="599.80" y2="516.80" stroke="#111" stroke-width="1.4"/>
<rect x="578.70" y="514.20" width="13.70" height="5.2" fill="#a6a6a6" stroke="#111" stroke-width="1.1"/>
<line x1="587.90" y1="514.20" x2="587.90" y2="519.40" stroke="#111" stroke-width="1.9"/>
<circle cx="616.1" cy="516.8" r="1.1" fill="#111"/>
<line x1="574.60" y1="526.40" x2="630.40" y2="526.40" stroke="#111" stroke-width="1.4"/>
<rect x="588.90" y="523.80" width="28.70" height="5.2" fill="#5c5c5c" stroke="#111" stroke-width="1.1"/>
<line x1="592.60" y1="523.80" x2="592.60" y2="529.00" stroke="#111" stroke-width="1.9"/>
<line x1="573.10" y1="533.80" x2="623.80" y2="533.80" stroke="#000" stroke-width="1.3"/>
<line x1="573.60" y1="533.80" x2="573.60" y2="537.00" stroke="#000" stroke-width="1.1"/>
<line x1="583.40" y1="533.80" x2="583.40" y2="537.00" stroke="#000" stroke-width="1.1"/>
<line x1="593.40" y1="533.80" x2="593.40" y2="537.00" stroke="#000" stroke-width="1.1"/>
<line x1="603.50" y1="533.80" x2="603.50" y2="537.00" stroke="#000" stroke-width="1.1"/>
<line x1="613.50" y1="533.80" x2="613.50" y2="537.00" stroke="#000" stroke-width="1.1"/>
<line x1="623.30" y1="533.80" x2="623.30" y2="537.00" stroke="#000" stroke-width="1.1"/>
<text x="583.40" y="545.20" text-anchor="middle" font-size="9.2">40</text>
<text x="603.50" y="545.20" text-anchor="middle" font-size="9.2">60</text>
<text x="623.30" y="545.20" text-anchor="middle" font-size="9.2">80</text>
<text x="644.90" y="524.70">0.009</text>
<text x="501.80" y="562.10" font-style="italic">Mad1l1</text>
<text x="551.90" y="560.10">SY</text>
<text x="551.90" y="569.10">NY</text>
<line x1="576.70" y1="556.60" x2="607.30" y2="556.60" stroke="#111" stroke-width="1.4"/>
<rect x="585.30" y="554.00" width="10.80" height="5.2" fill="#a6a6a6" stroke="#111" stroke-width="1.1"/>
<line x1="591.60" y1="554.00" x2="591.60" y2="559.20" stroke="#111" stroke-width="1.9"/>
<circle cx="630.4" cy="556.6" r="1.1" fill="#111"/>
<line x1="566.50" y1="565.60" x2="590.00" y2="565.60" stroke="#111" stroke-width="1.4"/>
<rect x="569.10" y="563.00" width="10.60" height="5.2" fill="#5c5c5c" stroke="#111" stroke-width="1.1"/>
<line x1="572.60" y1="563.00" x2="572.60" y2="568.20" stroke="#111" stroke-width="1.9"/>
<line x1="579.10" y1="572.30" x2="622.20" y2="572.30" stroke="#000" stroke-width="1.3"/>
<line x1="579.60" y1="572.30" x2="579.60" y2="575.50" stroke="#000" stroke-width="1.1"/>
<line x1="600.00" y1="572.30" x2="600.00" y2="575.50" stroke="#000" stroke-width="1.1"/>
<line x1="621.70" y1="572.30" x2="621.70" y2="575.50" stroke="#000" stroke-width="1.1"/>
<text x="579.70" y="584.50" text-anchor="middle" font-size="9.2">50</text>
<text x="600.40" y="584.50" text-anchor="middle" font-size="9.2">100</text>
<text x="621.60" y="584.50" text-anchor="middle" font-size="9.2">150</text>
<text x="644.90" y="564.50">8.0</text>
<circle cx="660.50" cy="561.50" r="0.6" fill="#222"/>
<text x="663.00" y="564.5" font-size="9.7">10<tspan font-size="5.8" dy="-4.2">-7</tspan></text>
<text x="501.80" y="601.70" font-style="italic">Bub1</text>
<text x="551.90" y="599.30">SY</text>
<text x="551.90" y="608.50">NY</text>
<line x1="588.30" y1="595.80" x2="634.90" y2="595.80" stroke="#111" stroke-width="1.4"/>
<rect x="601.80" y="593.20" width="16.40" height="5.2" fill="#a6a6a6" stroke="#111" stroke-width="1.1"/>
<line x1="610.00" y1="593.20" x2="610.00" y2="598.40" stroke="#111" stroke-width="1.9"/>
<line x1="570.30" y1="605.30" x2="615.80" y2="605.30" stroke="#111" stroke-width="1.4"/>
<rect x="580.20" y="602.70" width="19.30" height="5.2" fill="#5c5c5c" stroke="#111" stroke-width="1.1"/>
<line x1="589.50" y1="602.70" x2="589.50" y2="607.90" stroke="#111" stroke-width="1.9"/>
<circle cx="631.4" cy="605.3" r="1.1" fill="#111"/>
<line x1="573.80" y1="611.70" x2="637.87" y2="611.70" stroke="#000" stroke-width="1.3"/>
<line x1="574.30" y1="611.70" x2="574.30" y2="614.90" stroke="#000" stroke-width="1.1"/>
<line x1="583.31" y1="611.70" x2="583.31" y2="614.90" stroke="#000" stroke-width="1.1"/>
<line x1="592.32" y1="611.70" x2="592.32" y2="614.90" stroke="#000" stroke-width="1.1"/>
<line x1="601.33" y1="611.70" x2="601.33" y2="614.90" stroke="#000" stroke-width="1.1"/>
<line x1="610.34" y1="611.70" x2="610.34" y2="614.90" stroke="#000" stroke-width="1.1"/>
<line x1="619.35" y1="611.70" x2="619.35" y2="614.90" stroke="#000" stroke-width="1.1"/>
<line x1="628.36" y1="611.70" x2="628.36" y2="614.90" stroke="#000" stroke-width="1.1"/>
<line x1="637.37" y1="611.70" x2="637.37" y2="614.90" stroke="#000" stroke-width="1.1"/>
<text x="574.30" y="624.30" text-anchor="middle" font-size="9.2">20</text>
<text x="592.40" y="624.30" text-anchor="middle" font-size="9.2">60</text>
<text x="610.40" y="624.30" text-anchor="middle" font-size="9.2">100</text>
<text x="644.90" y="603.90">5.4</text>
<circle cx="660.50" cy="600.90" r="0.6" fill="#222"/>
<text x="663.00" y="603.9" font-size="9.7">10<tspan font-size="5.8" dy="-4.2">-4</tspan></text>
<text x="501.80" y="641.50" font-style="italic">Bub1b</text>
<text x="551.90" y="638.80">SY</text>
<text x="551.90" y="648.60">NY</text>
<line x1="595.10" y1="635.30" x2="642.10" y2="635.30" stroke="#111" stroke-width="1.4"/>
<rect x="610.80" y="632.70" width="17.60" height="5.2" fill="#a6a6a6" stroke="#111" stroke-width="1.1"/>
<line x1="623.70" y1="632.70" x2="623.70" y2="637.90" stroke="#111" stroke-width="1.9"/>
<line x1="577.70" y1="645.30" x2="607.90" y2="645.30" stroke="#111" stroke-width="1.4"/>
<rect x="585.80" y="642.70" width="11.00" height="5.2" fill="#5c5c5c" stroke="#111" stroke-width="1.1"/>
<line x1="590.90" y1="642.70" x2="590.90" y2="647.90" stroke="#111" stroke-width="1.9"/>
<circle cx="628.1" cy="645.3" r="1.1" fill="#111"/>
<line x1="577.40" y1="651.70" x2="642.00" y2="651.70" stroke="#000" stroke-width="1.3"/>
<line x1="577.90" y1="651.70" x2="577.90" y2="654.90" stroke="#000" stroke-width="1.1"/>
<line x1="590.10" y1="651.70" x2="590.10" y2="654.90" stroke="#000" stroke-width="1.1"/>
<line x1="603.30" y1="651.70" x2="603.30" y2="654.90" stroke="#000" stroke-width="1.1"/>
<line x1="615.80" y1="651.70" x2="615.80" y2="654.90" stroke="#000" stroke-width="1.1"/>
<line x1="628.70" y1="651.70" x2="628.70" y2="654.90" stroke="#000" stroke-width="1.1"/>
<line x1="641.50" y1="651.70" x2="641.50" y2="654.90" stroke="#000" stroke-width="1.1"/>
<text x="577.90" y="664.10" text-anchor="middle" font-size="9.2">500</text>
<text x="615.80" y="664.10" text-anchor="middle" font-size="9.2">2000</text>
<text x="644.90" y="643.80">2.4</text>
<circle cx="660.50" cy="640.80" r="0.6" fill="#222"/>
<text x="663.00" y="643.8" font-size="9.7">10<tspan font-size="5.8" dy="-4.2">-7</tspan></text>
<text x="501.80" y="681.10" font-style="italic">Ttk</text>
<text x="551.90" y="678.30">SY</text>
<text x="551.90" y="688.50">NY</text>
<line x1="592.00" y1="674.80" x2="625.10" y2="674.80" stroke="#111" stroke-width="1.4"/>
<rect x="601.20" y="672.20" width="13.70" height="5.2" fill="#a6a6a6" stroke="#111" stroke-width="1.1"/>
<line x1="604.30" y1="672.20" x2="604.30" y2="677.40" stroke="#111" stroke-width="1.9"/>
<circle cx="637.4" cy="674.8" r="1.1" fill="#111"/>
<line x1="571.20" y1="685.00" x2="626.30" y2="685.00" stroke="#111" stroke-width="1.4"/>
<rect x="575.30" y="682.40" width="30.60" height="5.2" fill="#5c5c5c" stroke="#111" stroke-width="1.1"/>
<line x1="580.00" y1="682.40" x2="580.00" y2="687.60" stroke="#111" stroke-width="1.9"/>
<line x1="575.70" y1="691.70" x2="639.50" y2="691.70" stroke="#000" stroke-width="1.3"/>
<line x1="576.20" y1="691.70" x2="576.20" y2="694.90" stroke="#000" stroke-width="1.1"/>
<line x1="592.10" y1="691.70" x2="592.10" y2="694.90" stroke="#000" stroke-width="1.1"/>
<line x1="607.50" y1="691.70" x2="607.50" y2="694.90" stroke="#000" stroke-width="1.1"/>
<line x1="623.50" y1="691.70" x2="623.50" y2="694.90" stroke="#000" stroke-width="1.1"/>
<line x1="639.00" y1="691.70" x2="639.00" y2="694.90" stroke="#000" stroke-width="1.1"/>
<text x="576.20" y="705.00" text-anchor="middle" font-size="9.2">100</text>
<text x="607.50" y="705.00" text-anchor="middle" font-size="9.2">300</text>
<text x="638.80" y="705.00" text-anchor="middle" font-size="9.2">500</text>
<text x="644.90" y="683.30">0.006</text>
<text x="501.80" y="771.40" font-style="italic">Areg</text>
<text x="551.90" y="769.40">SY</text>
<text x="551.90" y="779.00">NY</text>
<line x1="571.20" y1="765.90" x2="600.60" y2="765.90" stroke="#111" stroke-width="1.4"/>
<rect x="574.20" y="763.30" width="15.40" height="5.2" fill="#a6a6a6" stroke="#111" stroke-width="1.1"/>
<line x1="580.20" y1="763.30" x2="580.20" y2="768.50" stroke="#111" stroke-width="1.9"/>
<circle cx="619.0" cy="765.9" r="1.1" fill="#111"/>
<line x1="572.60" y1="775.40" x2="617.60" y2="775.40" stroke="#111" stroke-width="1.4"/>
<rect x="583.40" y="772.80" width="18.60" height="5.2" fill="#5c5c5c" stroke="#111" stroke-width="1.1"/>
<line x1="588.60" y1="772.80" x2="588.60" y2="778.00" stroke="#111" stroke-width="1.9"/>
<circle cx="633.8" cy="775.4" r="1.1" fill="#111"/>
<line x1="570.60" y1="781.70" x2="633.20" y2="781.70" stroke="#000" stroke-width="1.3"/>
<line x1="571.10" y1="781.70" x2="571.10" y2="784.90" stroke="#000" stroke-width="1.1"/>
<line x1="586.60" y1="781.70" x2="586.60" y2="784.90" stroke="#000" stroke-width="1.1"/>
<line x1="601.80" y1="781.70" x2="601.80" y2="784.90" stroke="#000" stroke-width="1.1"/>
<line x1="617.20" y1="781.70" x2="617.20" y2="784.90" stroke="#000" stroke-width="1.1"/>
<line x1="632.70" y1="781.70" x2="632.70" y2="784.90" stroke="#000" stroke-width="1.1"/>
<text x="571.10" y="794.10" text-anchor="middle" font-size="9.2">0</text>
<text x="601.80" y="794.10" text-anchor="middle" font-size="9.2">20</text>
<text x="632.70" y="794.10" text-anchor="middle" font-size="9.2">40</text>
<text x="644.90" y="774.20">0.009</text>
<text x="501.80" y="811.30" font-style="italic">Npr2</text>
<text x="551.90" y="808.70">SY</text>
<text x="551.90" y="818.50">NY</text>
<line x1="567.90" y1="805.20" x2="630.40" y2="805.20" stroke="#111" stroke-width="1.4"/>
<rect x="585.50" y="802.60" width="31.00" height="5.2" fill="#a6a6a6" stroke="#111" stroke-width="1.1"/>
<line x1="600.60" y1="802.60" x2="600.60" y2="807.80" stroke="#111" stroke-width="1.9"/>
<line x1="575.00" y1="814.80" x2="597.60" y2="814.80" stroke="#111" stroke-width="1.4"/>
<rect x="583.10" y="812.20" width="8.20" height="5.2" fill="#3a3a3a" stroke="#111" stroke-width="1.1"/>
<line x1="586.00" y1="812.20" x2="586.00" y2="817.40" stroke="#111" stroke-width="1.9"/>
<circle cx="567.2" cy="814.8" r="1.1" fill="#111"/>
<circle cx="616.7" cy="814.8" r="1.1" fill="#111"/>
<line x1="570.60" y1="821.30" x2="623.40" y2="821.30" stroke="#000" stroke-width="1.3"/>
<line x1="571.10" y1="821.30" x2="571.10" y2="824.50" stroke="#000" stroke-width="1.1"/>
<line x1="581.60" y1="821.30" x2="581.60" y2="824.50" stroke="#000" stroke-width="1.1"/>
<line x1="591.80" y1="821.30" x2="591.80" y2="824.50" stroke="#000" stroke-width="1.1"/>
<line x1="602.10" y1="821.30" x2="602.10" y2="824.50" stroke="#000" stroke-width="1.1"/>
<line x1="612.30" y1="821.30" x2="612.30" y2="824.50" stroke="#000" stroke-width="1.1"/>
<line x1="622.90" y1="821.30" x2="622.90" y2="824.50" stroke="#000" stroke-width="1.1"/>
<text x="581.60" y="833.30" text-anchor="middle" font-size="9.2">20</text>
<text x="602.10" y="833.30" text-anchor="middle" font-size="9.2">40</text>
<text x="622.90" y="833.30" text-anchor="middle" font-size="9.2">60</text>
<text x="644.90" y="813.10">0.015</text>
<text x="501.80" y="850.60" font-style="italic">Esr2</text>
<text x="551.90" y="848.20">SY</text>
<text x="551.90" y="857.40">NY</text>
<line x1="572.60" y1="844.70" x2="612.40" y2="844.70" stroke="#111" stroke-width="1.4"/>
<rect x="587.90" y="842.10" width="11.30" height="5.2" fill="#a6a6a6" stroke="#111" stroke-width="1.1"/>
<line x1="594.00" y1="842.10" x2="594.00" y2="847.30" stroke="#111" stroke-width="1.9"/>
<circle cx="634.9" cy="844.7" r="1.1" fill="#111"/>
<line x1="577.00" y1="853.60" x2="589.80" y2="853.60" stroke="#111" stroke-width="1.4"/>
<rect x="579.30" y="851.00" width="6.20" height="5.2" fill="#333" stroke="#111" stroke-width="1.1"/>
<line x1="581.80" y1="851.00" x2="581.80" y2="856.20" stroke="#111" stroke-width="1.9"/>
<line x1="570.60" y1="860.70" x2="625.10" y2="860.70" stroke="#000" stroke-width="1.3"/>
<line x1="571.10" y1="860.70" x2="571.10" y2="863.90" stroke="#000" stroke-width="1.1"/>
<line x1="589.00" y1="860.70" x2="589.00" y2="863.90" stroke="#000" stroke-width="1.1"/>
<line x1="606.70" y1="860.70" x2="606.70" y2="863.90" stroke="#000" stroke-width="1.1"/>
<line x1="624.60" y1="860.70" x2="624.60" y2="863.90" stroke="#000" stroke-width="1.1"/>
<text x="571.10" y="872.10" text-anchor="middle" font-size="9.2">0</text>
<text x="606.70" y="872.10" text-anchor="middle" font-size="9.2">100</text>
<text x="644.90" y="852.60">7.4</text>
<circle cx="660.50" cy="849.60" r="0.6" fill="#222"/>
<text x="663.00" y="852.6" font-size="9.7">10<tspan font-size="5.8" dy="-4.2">-6</tspan></text>
<text x="603.00" y="882.40" text-anchor="middle">Normalized counts</text>
</svg></body></html>
